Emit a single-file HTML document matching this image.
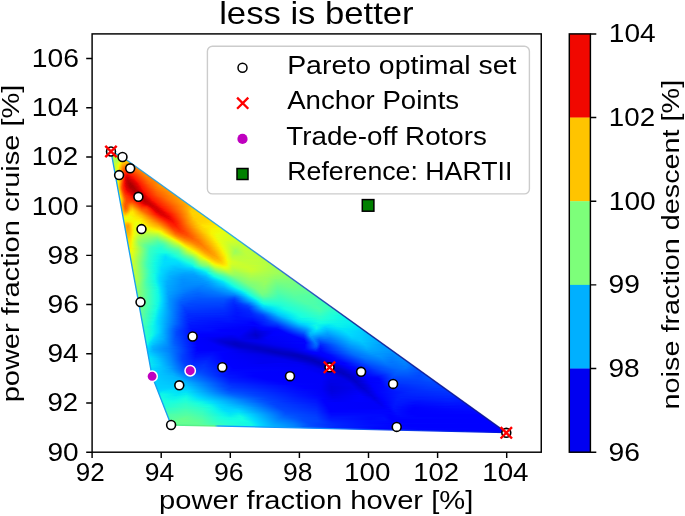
<!DOCTYPE html><html><head><meta charset="utf-8"><style>html,body{margin:0;padding:0;background:#fff;overflow:hidden}svg{display:block;will-change:transform}text{font-family:"Liberation Sans",sans-serif}</style></head><body><svg width="685" height="516" viewBox="0 0 685 516"><defs><clipPath id="hull"><polygon points="111.0,151.3 122.5,157.0 506.4,432.6 171.1,425.0 152.1,376.3"/></clipPath><linearGradient id="g1" gradientUnits="userSpaceOnUse" x1="108.5" y1="0" x2="116.5" y2="0"><stop offset="0.0000" stop-color="#a4ff53"/><stop offset="0.6250" stop-color="#b7ff40"/><stop offset="1.0000" stop-color="#caff2c"/></linearGradient><linearGradient id="g2" gradientUnits="userSpaceOnUse" x1="108.5" y1="0" x2="118.5" y2="0"><stop offset="0.0000" stop-color="#a7ff50"/><stop offset="0.5000" stop-color="#b7ff40"/><stop offset="1.0000" stop-color="#d1ff26"/></linearGradient><linearGradient id="g3" gradientUnits="userSpaceOnUse" x1="108.5" y1="0" x2="120.5" y2="0"><stop offset="0.0000" stop-color="#a7ff50"/><stop offset="0.4167" stop-color="#baff3c"/><stop offset="1.0000" stop-color="#e1ff16"/></linearGradient><linearGradient id="g4" gradientUnits="userSpaceOnUse" x1="108.5" y1="0" x2="122.5" y2="0"><stop offset="0.0000" stop-color="#adff49"/><stop offset="0.7143" stop-color="#d1ff26"/><stop offset="1.0000" stop-color="#eeff09"/></linearGradient><linearGradient id="g5" gradientUnits="userSpaceOnUse" x1="109.5" y1="0" x2="124.5" y2="0"><stop offset="0.0000" stop-color="#b4ff43"/><stop offset="0.5333" stop-color="#c4ff33"/><stop offset="0.9333" stop-color="#f4f802"/><stop offset="1.0000" stop-color="#f8f500"/></linearGradient><linearGradient id="g6" gradientUnits="userSpaceOnUse" x1="109.5" y1="0" x2="126.5" y2="0"><stop offset="0.0000" stop-color="#baff3c"/><stop offset="0.4118" stop-color="#b7ff40"/><stop offset="0.6471" stop-color="#dbff1c"/><stop offset="0.8235" stop-color="#f4f802"/><stop offset="1.0000" stop-color="#ffea00"/></linearGradient><linearGradient id="g7" gradientUnits="userSpaceOnUse" x1="109.5" y1="0" x2="127.5" y2="0"><stop offset="0.0000" stop-color="#beff39"/><stop offset="0.3889" stop-color="#adff49"/><stop offset="0.5000" stop-color="#beff39"/><stop offset="0.7222" stop-color="#f4f802"/><stop offset="1.0000" stop-color="#ffe600"/></linearGradient><linearGradient id="g8" gradientUnits="userSpaceOnUse" x1="109.5" y1="0" x2="128.5" y2="0"><stop offset="0.0000" stop-color="#beff39"/><stop offset="0.3684" stop-color="#a7ff50"/><stop offset="0.5263" stop-color="#caff2c"/><stop offset="0.6316" stop-color="#eeff09"/><stop offset="0.7368" stop-color="#ffea00"/><stop offset="1.0000" stop-color="#ffdb00"/></linearGradient><linearGradient id="g9" gradientUnits="userSpaceOnUse" x1="109.5" y1="0" x2="130.5" y2="0"><stop offset="0.0000" stop-color="#beff39"/><stop offset="0.3333" stop-color="#a4ff53"/><stop offset="0.4286" stop-color="#baff3c"/><stop offset="0.5714" stop-color="#f4f802"/><stop offset="0.6667" stop-color="#ffde00"/><stop offset="1.0000" stop-color="#ffc400"/></linearGradient><linearGradient id="g10" gradientUnits="userSpaceOnUse" x1="110.5" y1="0" x2="131.5" y2="0"><stop offset="0.0000" stop-color="#beff39"/><stop offset="0.2857" stop-color="#aaff4d"/><stop offset="0.4286" stop-color="#d7ff1f"/><stop offset="0.4762" stop-color="#eeff09"/><stop offset="0.5238" stop-color="#feed00"/><stop offset="0.6190" stop-color="#ffd300"/><stop offset="1.0000" stop-color="#ffb900"/></linearGradient><linearGradient id="g11" gradientUnits="userSpaceOnUse" x1="110.5" y1="0" x2="133.5" y2="0"><stop offset="0.0000" stop-color="#beff39"/><stop offset="0.2609" stop-color="#b4ff43"/><stop offset="0.3913" stop-color="#e1ff16"/><stop offset="0.4348" stop-color="#f8f500"/><stop offset="0.5217" stop-color="#ffd000"/><stop offset="0.6957" stop-color="#ffbd00"/><stop offset="0.9565" stop-color="#ffb200"/><stop offset="1.0000" stop-color="#ffab00"/></linearGradient><linearGradient id="g12" gradientUnits="userSpaceOnUse" x1="110.5" y1="0" x2="134.5" y2="0"><stop offset="0.0000" stop-color="#beff39"/><stop offset="0.2500" stop-color="#c1ff36"/><stop offset="0.3333" stop-color="#d7ff1f"/><stop offset="0.3750" stop-color="#eeff09"/><stop offset="0.4167" stop-color="#ffea00"/><stop offset="0.5000" stop-color="#ffc400"/><stop offset="0.6250" stop-color="#ffae00"/><stop offset="0.9167" stop-color="#ffae00"/><stop offset="1.0000" stop-color="#ff9f00"/></linearGradient><linearGradient id="g13" gradientUnits="userSpaceOnUse" x1="110.5" y1="0" x2="135.5" y2="0"><stop offset="0.0000" stop-color="#c1ff36"/><stop offset="0.2000" stop-color="#c4ff33"/><stop offset="0.3200" stop-color="#e1ff16"/><stop offset="0.3600" stop-color="#f8f500"/><stop offset="0.4800" stop-color="#ffb600"/><stop offset="0.6000" stop-color="#ff9f00"/><stop offset="0.8800" stop-color="#ffab00"/><stop offset="1.0000" stop-color="#ff9400"/></linearGradient><linearGradient id="g14" gradientUnits="userSpaceOnUse" x1="110.5" y1="0" x2="137.5" y2="0"><stop offset="0.0000" stop-color="#c4ff33"/><stop offset="0.1852" stop-color="#c7ff30"/><stop offset="0.2963" stop-color="#ebff0c"/><stop offset="0.3333" stop-color="#feed00"/><stop offset="0.4444" stop-color="#ffa700"/><stop offset="0.5556" stop-color="#ff8d00"/><stop offset="0.8519" stop-color="#ff9f00"/><stop offset="1.0000" stop-color="#ff8d00"/></linearGradient><linearGradient id="g15" gradientUnits="userSpaceOnUse" x1="110.5" y1="0" x2="138.5" y2="0"><stop offset="0.0000" stop-color="#caff2c"/><stop offset="0.1786" stop-color="#caff2c"/><stop offset="0.2500" stop-color="#deff19"/><stop offset="0.2857" stop-color="#f1fc06"/><stop offset="0.3214" stop-color="#ffe200"/><stop offset="0.4286" stop-color="#ff9800"/><stop offset="0.5000" stop-color="#ff8200"/><stop offset="0.6429" stop-color="#ff8600"/><stop offset="0.8571" stop-color="#ff9400"/><stop offset="1.0000" stop-color="#ff8d00"/></linearGradient><linearGradient id="g16" gradientUnits="userSpaceOnUse" x1="111.5" y1="0" x2="140.5" y2="0"><stop offset="0.0000" stop-color="#d4ff23"/><stop offset="0.1379" stop-color="#caff2c"/><stop offset="0.2069" stop-color="#deff19"/><stop offset="0.2414" stop-color="#f4f802"/><stop offset="0.3103" stop-color="#ffc100"/><stop offset="0.3793" stop-color="#ff8d00"/><stop offset="0.4483" stop-color="#ff6f00"/><stop offset="0.5862" stop-color="#ff7300"/><stop offset="0.8276" stop-color="#ff8d00"/><stop offset="1.0000" stop-color="#ff8d00"/></linearGradient><linearGradient id="g17" gradientUnits="userSpaceOnUse" x1="111.5" y1="0" x2="141.5" y2="0"><stop offset="0.0000" stop-color="#d7ff1f"/><stop offset="0.1333" stop-color="#c7ff30"/><stop offset="0.2000" stop-color="#deff19"/><stop offset="0.2333" stop-color="#f4f802"/><stop offset="0.3000" stop-color="#ffb900"/><stop offset="0.4000" stop-color="#ff6c00"/><stop offset="0.4667" stop-color="#ff5d00"/><stop offset="0.8667" stop-color="#ff8900"/><stop offset="1.0000" stop-color="#ff8d00"/></linearGradient><linearGradient id="g18" gradientUnits="userSpaceOnUse" x1="111.5" y1="0" x2="142.5" y2="0"><stop offset="0.0000" stop-color="#d7ff1f"/><stop offset="0.1290" stop-color="#c7ff30"/><stop offset="0.1935" stop-color="#deff19"/><stop offset="0.2258" stop-color="#f4f802"/><stop offset="0.2903" stop-color="#ffb600"/><stop offset="0.3548" stop-color="#ff7700"/><stop offset="0.4194" stop-color="#ff5200"/><stop offset="0.4839" stop-color="#ff4a00"/><stop offset="0.9032" stop-color="#ff8600"/><stop offset="1.0000" stop-color="#ff8d00"/></linearGradient><linearGradient id="g19" gradientUnits="userSpaceOnUse" x1="111.5" y1="0" x2="144.5" y2="0"><stop offset="0.0000" stop-color="#d4ff23"/><stop offset="0.1212" stop-color="#c4ff33"/><stop offset="0.1818" stop-color="#dbff1c"/><stop offset="0.2121" stop-color="#f4f802"/><stop offset="0.2727" stop-color="#ffb600"/><stop offset="0.3636" stop-color="#ff5500"/><stop offset="0.4242" stop-color="#ff3b00"/><stop offset="0.6364" stop-color="#ff5900"/><stop offset="0.9091" stop-color="#ff8900"/><stop offset="1.0000" stop-color="#ff8d00"/></linearGradient><linearGradient id="g20" gradientUnits="userSpaceOnUse" x1="111.5" y1="0" x2="145.5" y2="0"><stop offset="0.0000" stop-color="#caff2c"/><stop offset="0.1176" stop-color="#c4ff33"/><stop offset="0.1765" stop-color="#dbff1c"/><stop offset="0.2059" stop-color="#f4f802"/><stop offset="0.2647" stop-color="#ffb600"/><stop offset="0.3529" stop-color="#ff5200"/><stop offset="0.4118" stop-color="#ff3000"/><stop offset="0.5000" stop-color="#ff3400"/><stop offset="0.9118" stop-color="#ff8900"/><stop offset="1.0000" stop-color="#ff8d00"/></linearGradient><linearGradient id="g21" gradientUnits="userSpaceOnUse" x1="112.5" y1="0" x2="147.5" y2="0"><stop offset="0.0000" stop-color="#beff39"/><stop offset="0.1143" stop-color="#c7ff30"/><stop offset="0.1714" stop-color="#f4f802"/><stop offset="0.2286" stop-color="#ffb200"/><stop offset="0.3143" stop-color="#ff4a00"/><stop offset="0.3714" stop-color="#ff2500"/><stop offset="0.4857" stop-color="#ff2d00"/><stop offset="0.8857" stop-color="#ff8900"/><stop offset="1.0000" stop-color="#ff8900"/></linearGradient><linearGradient id="g22" gradientUnits="userSpaceOnUse" x1="112.5" y1="0" x2="148.5" y2="0"><stop offset="0.0000" stop-color="#b1ff46"/><stop offset="0.0833" stop-color="#baff3c"/><stop offset="0.1389" stop-color="#d7ff1f"/><stop offset="0.1667" stop-color="#f1fc06"/><stop offset="0.1944" stop-color="#ffd700"/><stop offset="0.3056" stop-color="#ff4700"/><stop offset="0.3611" stop-color="#ff1e00"/><stop offset="0.4167" stop-color="#ff1600"/><stop offset="0.8889" stop-color="#ff8600"/><stop offset="1.0000" stop-color="#ff8600"/></linearGradient><linearGradient id="g23" gradientUnits="userSpaceOnUse" x1="112.5" y1="0" x2="149.5" y2="0"><stop offset="0.0000" stop-color="#aaff4d"/><stop offset="0.0811" stop-color="#b7ff40"/><stop offset="0.1351" stop-color="#d7ff1f"/><stop offset="0.1622" stop-color="#f1fc06"/><stop offset="0.1892" stop-color="#ffd700"/><stop offset="0.2973" stop-color="#ff4700"/><stop offset="0.3514" stop-color="#ff1300"/><stop offset="0.4054" stop-color="#f60b00"/><stop offset="0.5405" stop-color="#ff2900"/><stop offset="0.8649" stop-color="#ff8200"/><stop offset="1.0000" stop-color="#ff8600"/></linearGradient><linearGradient id="g24" gradientUnits="userSpaceOnUse" x1="112.5" y1="0" x2="151.5" y2="0"><stop offset="0.0000" stop-color="#a7ff50"/><stop offset="0.0769" stop-color="#b4ff43"/><stop offset="0.1282" stop-color="#d7ff1f"/><stop offset="0.1538" stop-color="#f1fc06"/><stop offset="0.1795" stop-color="#ffd700"/><stop offset="0.3077" stop-color="#ff2200"/><stop offset="0.3590" stop-color="#ed0400"/><stop offset="0.3846" stop-color="#e80000"/><stop offset="0.4872" stop-color="#ff1a00"/><stop offset="0.8462" stop-color="#ff8200"/><stop offset="1.0000" stop-color="#ff8200"/></linearGradient><linearGradient id="g25" gradientUnits="userSpaceOnUse" x1="112.5" y1="0" x2="152.5" y2="0"><stop offset="0.0000" stop-color="#a7ff50"/><stop offset="0.0750" stop-color="#b4ff43"/><stop offset="0.1250" stop-color="#d7ff1f"/><stop offset="0.1500" stop-color="#f1fc06"/><stop offset="0.1750" stop-color="#ffd700"/><stop offset="0.3000" stop-color="#ff1e00"/><stop offset="0.3250" stop-color="#f10800"/><stop offset="0.3500" stop-color="#df0000"/><stop offset="0.4500" stop-color="#f10800"/><stop offset="0.5250" stop-color="#ff1e00"/><stop offset="0.8500" stop-color="#ff8200"/><stop offset="1.0000" stop-color="#ff8200"/></linearGradient><linearGradient id="g26" gradientUnits="userSpaceOnUse" x1="112.5" y1="0" x2="153.5" y2="0"><stop offset="0.0000" stop-color="#a7ff50"/><stop offset="0.0732" stop-color="#b4ff43"/><stop offset="0.1220" stop-color="#d7ff1f"/><stop offset="0.1463" stop-color="#f4f802"/><stop offset="0.1951" stop-color="#ffae00"/><stop offset="0.2927" stop-color="#ff1a00"/><stop offset="0.3171" stop-color="#e80000"/><stop offset="0.3415" stop-color="#d60000"/><stop offset="0.3902" stop-color="#d60000"/><stop offset="0.4634" stop-color="#f10800"/><stop offset="0.5366" stop-color="#ff1e00"/><stop offset="0.8293" stop-color="#ff7a00"/><stop offset="1.0000" stop-color="#ff8200"/></linearGradient><linearGradient id="g27" gradientUnits="userSpaceOnUse" x1="113.5" y1="0" x2="155.5" y2="0"><stop offset="0.0000" stop-color="#a7ff50"/><stop offset="0.0476" stop-color="#b4ff43"/><stop offset="0.0952" stop-color="#d7ff1f"/><stop offset="0.1190" stop-color="#f4f802"/><stop offset="0.1667" stop-color="#ffae00"/><stop offset="0.2619" stop-color="#ff1600"/><stop offset="0.2857" stop-color="#e40000"/><stop offset="0.3333" stop-color="#c80000"/><stop offset="0.4524" stop-color="#f10800"/><stop offset="0.5238" stop-color="#ff1e00"/><stop offset="0.8095" stop-color="#ff7a00"/><stop offset="1.0000" stop-color="#ff8200"/></linearGradient><linearGradient id="g28" gradientUnits="userSpaceOnUse" x1="113.5" y1="0" x2="156.5" y2="0"><stop offset="0.0000" stop-color="#a7ff50"/><stop offset="0.0465" stop-color="#b4ff43"/><stop offset="0.0930" stop-color="#dbff1c"/><stop offset="0.1163" stop-color="#f8f500"/><stop offset="0.2326" stop-color="#ff3400"/><stop offset="0.2558" stop-color="#ff1300"/><stop offset="0.2791" stop-color="#df0000"/><stop offset="0.3256" stop-color="#c40000"/><stop offset="0.3953" stop-color="#d10000"/><stop offset="0.4651" stop-color="#ed0400"/><stop offset="0.5116" stop-color="#ff1600"/><stop offset="0.8140" stop-color="#ff7a00"/><stop offset="1.0000" stop-color="#ff8200"/></linearGradient><linearGradient id="g29" gradientUnits="userSpaceOnUse" x1="113.5" y1="0" x2="158.5" y2="0"><stop offset="0.0000" stop-color="#a7ff50"/><stop offset="0.0444" stop-color="#b4ff43"/><stop offset="0.0889" stop-color="#dbff1c"/><stop offset="0.1111" stop-color="#fbf100"/><stop offset="0.2444" stop-color="#fa0f00"/><stop offset="0.2667" stop-color="#da0000"/><stop offset="0.3111" stop-color="#bf0000"/><stop offset="0.3556" stop-color="#bf0000"/><stop offset="0.4667" stop-color="#ed0400"/><stop offset="0.5111" stop-color="#ff1600"/><stop offset="0.8000" stop-color="#ff7a00"/><stop offset="1.0000" stop-color="#ff8600"/></linearGradient><linearGradient id="g30" gradientUnits="userSpaceOnUse" x1="113.5" y1="0" x2="159.5" y2="0"><stop offset="0.0000" stop-color="#a7ff50"/><stop offset="0.0435" stop-color="#b4ff43"/><stop offset="0.0870" stop-color="#deff19"/><stop offset="0.1087" stop-color="#feed00"/><stop offset="0.2174" stop-color="#ff2900"/><stop offset="0.2391" stop-color="#f60b00"/><stop offset="0.2826" stop-color="#c80000"/><stop offset="0.3261" stop-color="#b60000"/><stop offset="0.4348" stop-color="#da0000"/><stop offset="0.4783" stop-color="#ed0400"/><stop offset="0.5217" stop-color="#ff1600"/><stop offset="0.7826" stop-color="#ff7300"/><stop offset="0.9565" stop-color="#ff8600"/><stop offset="1.0000" stop-color="#ff8900"/></linearGradient><linearGradient id="g31" gradientUnits="userSpaceOnUse" x1="113.5" y1="0" x2="160.5" y2="0"><stop offset="0.0000" stop-color="#a7ff50"/><stop offset="0.0426" stop-color="#b4ff43"/><stop offset="0.0638" stop-color="#c4ff33"/><stop offset="0.0851" stop-color="#e1ff16"/><stop offset="0.1064" stop-color="#ffea00"/><stop offset="0.2128" stop-color="#ff2500"/><stop offset="0.2340" stop-color="#f60b00"/><stop offset="0.2766" stop-color="#c80000"/><stop offset="0.3191" stop-color="#b60000"/><stop offset="0.3617" stop-color="#b60000"/><stop offset="0.4894" stop-color="#ed0400"/><stop offset="0.5319" stop-color="#ff1600"/><stop offset="0.7447" stop-color="#ff6800"/><stop offset="0.9362" stop-color="#ff8900"/><stop offset="1.0000" stop-color="#ff8900"/></linearGradient><linearGradient id="g32" gradientUnits="userSpaceOnUse" x1="114.5" y1="0" x2="162.5" y2="0"><stop offset="0.0000" stop-color="#b1ff46"/><stop offset="0.0417" stop-color="#c7ff30"/><stop offset="0.0625" stop-color="#e4ff13"/><stop offset="0.0833" stop-color="#ffe600"/><stop offset="0.1667" stop-color="#ff4300"/><stop offset="0.2083" stop-color="#f60b00"/><stop offset="0.2292" stop-color="#da0000"/><stop offset="0.2917" stop-color="#b20000"/><stop offset="0.3333" stop-color="#ad0000"/><stop offset="0.4583" stop-color="#e40000"/><stop offset="0.5208" stop-color="#ff1600"/><stop offset="0.6875" stop-color="#ff5d00"/><stop offset="0.9167" stop-color="#ff8d00"/><stop offset="1.0000" stop-color="#ff8d00"/></linearGradient><linearGradient id="g33" gradientUnits="userSpaceOnUse" x1="114.5" y1="0" x2="163.5" y2="0"><stop offset="0.0000" stop-color="#b7ff40"/><stop offset="0.0408" stop-color="#ceff29"/><stop offset="0.0612" stop-color="#e7ff0f"/><stop offset="0.0816" stop-color="#ffe200"/><stop offset="0.1633" stop-color="#ff3f00"/><stop offset="0.2041" stop-color="#f60b00"/><stop offset="0.2449" stop-color="#cd0000"/><stop offset="0.3265" stop-color="#a80000"/><stop offset="0.4694" stop-color="#e80000"/><stop offset="0.5102" stop-color="#ff1300"/><stop offset="0.7143" stop-color="#ff6000"/><stop offset="0.8776" stop-color="#ff8900"/><stop offset="1.0000" stop-color="#ff9400"/></linearGradient><linearGradient id="g34" gradientUnits="userSpaceOnUse" x1="114.5" y1="0" x2="165.5" y2="0"><stop offset="0.0000" stop-color="#c1ff36"/><stop offset="0.0392" stop-color="#d1ff26"/><stop offset="0.0588" stop-color="#e7ff0f"/><stop offset="0.0784" stop-color="#ffe200"/><stop offset="0.1569" stop-color="#ff3b00"/><stop offset="0.1961" stop-color="#f60b00"/><stop offset="0.2353" stop-color="#d10000"/><stop offset="0.2941" stop-color="#ad0000"/><stop offset="0.3529" stop-color="#ad0000"/><stop offset="0.4706" stop-color="#ed0400"/><stop offset="0.5294" stop-color="#ff1e00"/><stop offset="0.7059" stop-color="#ff6000"/><stop offset="0.8627" stop-color="#ff8d00"/><stop offset="1.0000" stop-color="#ff9c00"/></linearGradient><linearGradient id="g35" gradientUnits="userSpaceOnUse" x1="114.5" y1="0" x2="166.5" y2="0"><stop offset="0.0000" stop-color="#c7ff30"/><stop offset="0.0385" stop-color="#d4ff23"/><stop offset="0.0577" stop-color="#e7ff0f"/><stop offset="0.0769" stop-color="#ffe200"/><stop offset="0.1346" stop-color="#ff5d00"/><stop offset="0.1731" stop-color="#ff2200"/><stop offset="0.1923" stop-color="#fa0f00"/><stop offset="0.2115" stop-color="#e80000"/><stop offset="0.2885" stop-color="#b20000"/><stop offset="0.3269" stop-color="#a80000"/><stop offset="0.3654" stop-color="#b20000"/><stop offset="0.4615" stop-color="#e40000"/><stop offset="0.5192" stop-color="#ff1600"/><stop offset="0.6731" stop-color="#ff5500"/><stop offset="0.8654" stop-color="#ff8d00"/><stop offset="1.0000" stop-color="#ff9f00"/></linearGradient><linearGradient id="g36" gradientUnits="userSpaceOnUse" x1="114.5" y1="0" x2="167.5" y2="0"><stop offset="0.0000" stop-color="#ceff29"/><stop offset="0.0377" stop-color="#d4ff23"/><stop offset="0.0566" stop-color="#e4ff13"/><stop offset="0.0755" stop-color="#ffe600"/><stop offset="0.1321" stop-color="#ff5d00"/><stop offset="0.1698" stop-color="#ff2200"/><stop offset="0.1887" stop-color="#ff1300"/><stop offset="0.2264" stop-color="#da0000"/><stop offset="0.3019" stop-color="#ad0000"/><stop offset="0.3585" stop-color="#ad0000"/><stop offset="0.4340" stop-color="#d10000"/><stop offset="0.4906" stop-color="#f10800"/><stop offset="0.5094" stop-color="#ff1300"/><stop offset="0.6981" stop-color="#ff5d00"/><stop offset="0.8679" stop-color="#ff8d00"/><stop offset="1.0000" stop-color="#ff9f00"/></linearGradient><linearGradient id="g37" gradientUnits="userSpaceOnUse" x1="114.5" y1="0" x2="169.5" y2="0"><stop offset="0.0000" stop-color="#ceff29"/><stop offset="0.0364" stop-color="#d4ff23"/><stop offset="0.0545" stop-color="#e1ff16"/><stop offset="0.0727" stop-color="#feed00"/><stop offset="0.1273" stop-color="#ff6000"/><stop offset="0.1636" stop-color="#ff2500"/><stop offset="0.1818" stop-color="#ff1600"/><stop offset="0.2182" stop-color="#e40000"/><stop offset="0.2909" stop-color="#b60000"/><stop offset="0.3636" stop-color="#ad0000"/><stop offset="0.4727" stop-color="#ed0400"/><stop offset="0.5091" stop-color="#ff1600"/><stop offset="0.7636" stop-color="#ff7700"/><stop offset="1.0000" stop-color="#ff9f00"/></linearGradient><linearGradient id="g38" gradientUnits="userSpaceOnUse" x1="115.5" y1="0" x2="170.5" y2="0"><stop offset="0.0000" stop-color="#ceff29"/><stop offset="0.0364" stop-color="#deff19"/><stop offset="0.0545" stop-color="#f8f500"/><stop offset="0.1091" stop-color="#ff6800"/><stop offset="0.1273" stop-color="#ff4300"/><stop offset="0.1636" stop-color="#ff1a00"/><stop offset="0.2000" stop-color="#e80000"/><stop offset="0.3091" stop-color="#b20000"/><stop offset="0.3636" stop-color="#b20000"/><stop offset="0.4545" stop-color="#e80000"/><stop offset="0.5091" stop-color="#ff1a00"/><stop offset="0.7818" stop-color="#ff7a00"/><stop offset="1.0000" stop-color="#ff9f00"/></linearGradient><linearGradient id="g39" gradientUnits="userSpaceOnUse" x1="115.5" y1="0" x2="172.5" y2="0"><stop offset="0.0000" stop-color="#ceff29"/><stop offset="0.0351" stop-color="#deff19"/><stop offset="0.0526" stop-color="#f4f802"/><stop offset="0.0877" stop-color="#ffa300"/><stop offset="0.1228" stop-color="#ff4e00"/><stop offset="0.1579" stop-color="#ff1e00"/><stop offset="0.1754" stop-color="#ff1300"/><stop offset="0.2105" stop-color="#e40000"/><stop offset="0.3333" stop-color="#ad0000"/><stop offset="0.3860" stop-color="#bb0000"/><stop offset="0.4561" stop-color="#e80000"/><stop offset="0.4912" stop-color="#ff1300"/><stop offset="0.7193" stop-color="#ff6c00"/><stop offset="0.9649" stop-color="#ff9f00"/><stop offset="1.0000" stop-color="#ff9f00"/></linearGradient><linearGradient id="g40" gradientUnits="userSpaceOnUse" x1="115.5" y1="0" x2="173.5" y2="0"><stop offset="0.0000" stop-color="#ceff29"/><stop offset="0.0345" stop-color="#dbff1c"/><stop offset="0.0517" stop-color="#eeff09"/><stop offset="0.0690" stop-color="#ffde00"/><stop offset="0.1207" stop-color="#ff5900"/><stop offset="0.1552" stop-color="#ff2500"/><stop offset="0.1897" stop-color="#fa0f00"/><stop offset="0.2241" stop-color="#e40000"/><stop offset="0.3276" stop-color="#b20000"/><stop offset="0.3793" stop-color="#b60000"/><stop offset="0.4655" stop-color="#ed0400"/><stop offset="0.5000" stop-color="#ff1600"/><stop offset="0.7414" stop-color="#ff6f00"/><stop offset="1.0000" stop-color="#ff9f00"/></linearGradient><linearGradient id="g41" gradientUnits="userSpaceOnUse" x1="115.5" y1="0" x2="174.5" y2="0"><stop offset="0.0000" stop-color="#ceff29"/><stop offset="0.0339" stop-color="#d7ff1f"/><stop offset="0.0508" stop-color="#e7ff0f"/><stop offset="0.0678" stop-color="#ffe600"/><stop offset="0.1186" stop-color="#ff6400"/><stop offset="0.1525" stop-color="#ff2d00"/><stop offset="0.2034" stop-color="#f60b00"/><stop offset="0.2712" stop-color="#d60000"/><stop offset="0.3559" stop-color="#b20000"/><stop offset="0.3898" stop-color="#bb0000"/><stop offset="0.4576" stop-color="#e40000"/><stop offset="0.5085" stop-color="#ff1600"/><stop offset="0.6949" stop-color="#ff6000"/><stop offset="0.9831" stop-color="#ff9f00"/><stop offset="1.0000" stop-color="#ff9f00"/></linearGradient><linearGradient id="g42" gradientUnits="userSpaceOnUse" x1="115.5" y1="0" x2="176.5" y2="0"><stop offset="0.0000" stop-color="#ceff29"/><stop offset="0.0492" stop-color="#e4ff13"/><stop offset="0.0656" stop-color="#feed00"/><stop offset="0.1311" stop-color="#ff4e00"/><stop offset="0.1639" stop-color="#ff2500"/><stop offset="0.2131" stop-color="#fa0f00"/><stop offset="0.2623" stop-color="#df0000"/><stop offset="0.3443" stop-color="#b60000"/><stop offset="0.3770" stop-color="#b60000"/><stop offset="0.4426" stop-color="#da0000"/><stop offset="0.5082" stop-color="#ff1600"/><stop offset="0.6885" stop-color="#ff6000"/><stop offset="0.9508" stop-color="#ff9c00"/><stop offset="1.0000" stop-color="#ff9c00"/></linearGradient><linearGradient id="g43" gradientUnits="userSpaceOnUse" x1="116.5" y1="0" x2="177.5" y2="0"><stop offset="0.0000" stop-color="#d1ff26"/><stop offset="0.0328" stop-color="#e1ff16"/><stop offset="0.0492" stop-color="#f8f500"/><stop offset="0.0820" stop-color="#ffa700"/><stop offset="0.1148" stop-color="#ff5900"/><stop offset="0.1475" stop-color="#ff2d00"/><stop offset="0.2131" stop-color="#fa0f00"/><stop offset="0.2623" stop-color="#df0000"/><stop offset="0.3443" stop-color="#b60000"/><stop offset="0.3770" stop-color="#b60000"/><stop offset="0.4426" stop-color="#da0000"/><stop offset="0.4754" stop-color="#f10800"/><stop offset="0.4918" stop-color="#ff1300"/><stop offset="0.6557" stop-color="#ff5500"/><stop offset="0.9344" stop-color="#ff9c00"/><stop offset="1.0000" stop-color="#ff9800"/></linearGradient><linearGradient id="g44" gradientUnits="userSpaceOnUse" x1="116.5" y1="0" x2="179.5" y2="0"><stop offset="0.0000" stop-color="#ceff29"/><stop offset="0.0317" stop-color="#deff19"/><stop offset="0.0476" stop-color="#f1fc06"/><stop offset="0.0635" stop-color="#ffdb00"/><stop offset="0.1111" stop-color="#ff6400"/><stop offset="0.1270" stop-color="#ff4700"/><stop offset="0.1905" stop-color="#ff1e00"/><stop offset="0.2381" stop-color="#f60b00"/><stop offset="0.3016" stop-color="#cd0000"/><stop offset="0.3492" stop-color="#b60000"/><stop offset="0.3810" stop-color="#b60000"/><stop offset="0.4603" stop-color="#e80000"/><stop offset="0.4921" stop-color="#ff1300"/><stop offset="0.6508" stop-color="#ff5500"/><stop offset="0.9365" stop-color="#ff9c00"/><stop offset="1.0000" stop-color="#ff9800"/></linearGradient><linearGradient id="g45" gradientUnits="userSpaceOnUse" x1="116.5" y1="0" x2="180.5" y2="0"><stop offset="0.0000" stop-color="#ceff29"/><stop offset="0.0312" stop-color="#dbff1c"/><stop offset="0.0469" stop-color="#ebff0c"/><stop offset="0.0625" stop-color="#ffe200"/><stop offset="0.1094" stop-color="#ff6f00"/><stop offset="0.1406" stop-color="#ff3f00"/><stop offset="0.2344" stop-color="#ff1300"/><stop offset="0.2969" stop-color="#da0000"/><stop offset="0.3594" stop-color="#b60000"/><stop offset="0.4219" stop-color="#c80000"/><stop offset="0.4688" stop-color="#e80000"/><stop offset="0.5000" stop-color="#ff1300"/><stop offset="0.6719" stop-color="#ff5900"/><stop offset="0.9375" stop-color="#ff9c00"/><stop offset="1.0000" stop-color="#ff9800"/></linearGradient><linearGradient id="g46" gradientUnits="userSpaceOnUse" x1="116.5" y1="0" x2="181.5" y2="0"><stop offset="0.0000" stop-color="#ceff29"/><stop offset="0.0308" stop-color="#d7ff1f"/><stop offset="0.0462" stop-color="#e7ff0f"/><stop offset="0.0615" stop-color="#ffea00"/><stop offset="0.1231" stop-color="#ff5900"/><stop offset="0.1538" stop-color="#ff3b00"/><stop offset="0.2615" stop-color="#fa0f00"/><stop offset="0.3077" stop-color="#da0000"/><stop offset="0.3846" stop-color="#b60000"/><stop offset="0.4308" stop-color="#c80000"/><stop offset="0.4923" stop-color="#f60b00"/><stop offset="0.5385" stop-color="#ff2200"/><stop offset="0.7538" stop-color="#ff6f00"/><stop offset="0.9385" stop-color="#ff9c00"/><stop offset="1.0000" stop-color="#ff9800"/></linearGradient><linearGradient id="g47" gradientUnits="userSpaceOnUse" x1="116.5" y1="0" x2="183.5" y2="0"><stop offset="0.0000" stop-color="#ceff29"/><stop offset="0.0448" stop-color="#e4ff13"/><stop offset="0.0597" stop-color="#fbf100"/><stop offset="0.1194" stop-color="#ff6400"/><stop offset="0.1493" stop-color="#ff3f00"/><stop offset="0.2537" stop-color="#ff1a00"/><stop offset="0.2985" stop-color="#e80000"/><stop offset="0.3731" stop-color="#bb0000"/><stop offset="0.4030" stop-color="#bb0000"/><stop offset="0.4776" stop-color="#ed0400"/><stop offset="0.5224" stop-color="#ff1a00"/><stop offset="0.7612" stop-color="#ff7300"/><stop offset="0.9254" stop-color="#ff9c00"/><stop offset="1.0000" stop-color="#ff9c00"/></linearGradient><linearGradient id="g48" gradientUnits="userSpaceOnUse" x1="116.5" y1="0" x2="184.5" y2="0"><stop offset="0.0000" stop-color="#ceff29"/><stop offset="0.0441" stop-color="#e4ff13"/><stop offset="0.0588" stop-color="#f8f500"/><stop offset="0.1176" stop-color="#ff6c00"/><stop offset="0.1471" stop-color="#ff4300"/><stop offset="0.2500" stop-color="#ff2500"/><stop offset="0.2941" stop-color="#f60b00"/><stop offset="0.3235" stop-color="#df0000"/><stop offset="0.3824" stop-color="#bb0000"/><stop offset="0.4118" stop-color="#bb0000"/><stop offset="0.4853" stop-color="#ed0400"/><stop offset="0.5294" stop-color="#ff1a00"/><stop offset="0.7647" stop-color="#ff7300"/><stop offset="0.9412" stop-color="#ff9f00"/><stop offset="1.0000" stop-color="#ffa300"/></linearGradient><linearGradient id="g49" gradientUnits="userSpaceOnUse" x1="117.5" y1="0" x2="186.5" y2="0"><stop offset="0.0000" stop-color="#d4ff23"/><stop offset="0.0290" stop-color="#e4ff13"/><stop offset="0.0435" stop-color="#f8f500"/><stop offset="0.1014" stop-color="#ff6f00"/><stop offset="0.1304" stop-color="#ff4700"/><stop offset="0.2319" stop-color="#ff3000"/><stop offset="0.2754" stop-color="#ff1300"/><stop offset="0.3333" stop-color="#d60000"/><stop offset="0.3913" stop-color="#bb0000"/><stop offset="0.4638" stop-color="#df0000"/><stop offset="0.5072" stop-color="#ff1300"/><stop offset="0.7391" stop-color="#ff6c00"/><stop offset="0.9420" stop-color="#ffa300"/><stop offset="1.0000" stop-color="#ffb600"/></linearGradient><linearGradient id="g50" gradientUnits="userSpaceOnUse" x1="117.5" y1="0" x2="187.5" y2="0"><stop offset="0.0000" stop-color="#dbff1c"/><stop offset="0.0286" stop-color="#ebff0c"/><stop offset="0.0429" stop-color="#fbf100"/><stop offset="0.1000" stop-color="#ff6f00"/><stop offset="0.1286" stop-color="#ff4a00"/><stop offset="0.2143" stop-color="#ff4300"/><stop offset="0.2857" stop-color="#ff1600"/><stop offset="0.3286" stop-color="#e40000"/><stop offset="0.3857" stop-color="#bf0000"/><stop offset="0.4286" stop-color="#c40000"/><stop offset="0.5000" stop-color="#f10800"/><stop offset="0.5429" stop-color="#ff1e00"/><stop offset="0.7571" stop-color="#ff6f00"/><stop offset="1.0000" stop-color="#ffb900"/></linearGradient><linearGradient id="g51" gradientUnits="userSpaceOnUse" x1="117.5" y1="0" x2="188.5" y2="0"><stop offset="0.0000" stop-color="#eeff09"/><stop offset="0.0282" stop-color="#f4f802"/><stop offset="0.0423" stop-color="#ffea00"/><stop offset="0.0845" stop-color="#ff8600"/><stop offset="0.1127" stop-color="#ff5900"/><stop offset="0.1408" stop-color="#ff4e00"/><stop offset="0.2113" stop-color="#ff5200"/><stop offset="0.3099" stop-color="#fa0f00"/><stop offset="0.3380" stop-color="#e40000"/><stop offset="0.3944" stop-color="#c40000"/><stop offset="0.4507" stop-color="#cd0000"/><stop offset="0.5070" stop-color="#f10800"/><stop offset="0.5493" stop-color="#ff1e00"/><stop offset="0.7746" stop-color="#ff7300"/><stop offset="1.0000" stop-color="#ffb900"/></linearGradient><linearGradient id="g52" gradientUnits="userSpaceOnUse" x1="117.5" y1="0" x2="190.5" y2="0"><stop offset="0.0000" stop-color="#ffe200"/><stop offset="0.0274" stop-color="#ffea00"/><stop offset="0.0411" stop-color="#ffe200"/><stop offset="0.0959" stop-color="#ff6400"/><stop offset="0.1233" stop-color="#ff5200"/><stop offset="0.1918" stop-color="#ff6800"/><stop offset="0.2329" stop-color="#ff5200"/><stop offset="0.3151" stop-color="#fa0f00"/><stop offset="0.3562" stop-color="#da0000"/><stop offset="0.4110" stop-color="#c80000"/><stop offset="0.4521" stop-color="#cd0000"/><stop offset="0.5068" stop-color="#ed0400"/><stop offset="0.5479" stop-color="#ff1a00"/><stop offset="0.7397" stop-color="#ff6800"/><stop offset="0.9726" stop-color="#ffb900"/><stop offset="1.0000" stop-color="#ffbd00"/></linearGradient><linearGradient id="g53" gradientUnits="userSpaceOnUse" x1="117.5" y1="0" x2="191.5" y2="0"><stop offset="0.0000" stop-color="#ffc100"/><stop offset="0.0270" stop-color="#ffdb00"/><stop offset="0.0405" stop-color="#ffdb00"/><stop offset="0.0676" stop-color="#ff9c00"/><stop offset="0.0946" stop-color="#ff6400"/><stop offset="0.1081" stop-color="#ff5500"/><stop offset="0.1351" stop-color="#ff5d00"/><stop offset="0.1757" stop-color="#ff7700"/><stop offset="0.2027" stop-color="#ff7700"/><stop offset="0.3243" stop-color="#ff1300"/><stop offset="0.3784" stop-color="#df0000"/><stop offset="0.4459" stop-color="#c80000"/><stop offset="0.5135" stop-color="#ed0400"/><stop offset="0.5541" stop-color="#ff1a00"/><stop offset="0.7568" stop-color="#ff6c00"/><stop offset="0.9865" stop-color="#ffbd00"/><stop offset="1.0000" stop-color="#ffbd00"/></linearGradient><linearGradient id="g54" gradientUnits="userSpaceOnUse" x1="118.5" y1="0" x2="192.5" y2="0"><stop offset="0.0000" stop-color="#ffb900"/><stop offset="0.0270" stop-color="#ffd300"/><stop offset="0.0405" stop-color="#ffc100"/><stop offset="0.0676" stop-color="#ff7a00"/><stop offset="0.0946" stop-color="#ff5900"/><stop offset="0.1216" stop-color="#ff6400"/><stop offset="0.1622" stop-color="#ff8900"/><stop offset="0.1892" stop-color="#ff8900"/><stop offset="0.3243" stop-color="#ff1600"/><stop offset="0.3784" stop-color="#f10800"/><stop offset="0.4324" stop-color="#cd0000"/><stop offset="0.4730" stop-color="#d10000"/><stop offset="0.5270" stop-color="#f60b00"/><stop offset="0.5946" stop-color="#ff2d00"/><stop offset="0.9730" stop-color="#ffbd00"/><stop offset="1.0000" stop-color="#ffbd00"/></linearGradient><linearGradient id="g55" gradientUnits="userSpaceOnUse" x1="118.5" y1="0" x2="194.5" y2="0"><stop offset="0.0000" stop-color="#ffab00"/><stop offset="0.0263" stop-color="#ffd000"/><stop offset="0.0395" stop-color="#ffc400"/><stop offset="0.0789" stop-color="#ff6400"/><stop offset="0.0921" stop-color="#ff5900"/><stop offset="0.1184" stop-color="#ff6800"/><stop offset="0.1579" stop-color="#ff9800"/><stop offset="0.1842" stop-color="#ff9800"/><stop offset="0.2500" stop-color="#ff5d00"/><stop offset="0.3026" stop-color="#ff2d00"/><stop offset="0.3684" stop-color="#ff1a00"/><stop offset="0.3816" stop-color="#ff1300"/><stop offset="0.4079" stop-color="#e40000"/><stop offset="0.4474" stop-color="#cd0000"/><stop offset="0.5000" stop-color="#df0000"/><stop offset="0.5526" stop-color="#ff1600"/><stop offset="0.7368" stop-color="#ff6400"/><stop offset="0.9605" stop-color="#ffc100"/><stop offset="1.0000" stop-color="#ffc100"/></linearGradient><linearGradient id="g56" gradientUnits="userSpaceOnUse" x1="118.5" y1="0" x2="195.5" y2="0"><stop offset="0.0000" stop-color="#ff9f00"/><stop offset="0.0260" stop-color="#ffcc00"/><stop offset="0.0390" stop-color="#ffc800"/><stop offset="0.0779" stop-color="#ff6c00"/><stop offset="0.0909" stop-color="#ff5d00"/><stop offset="0.1169" stop-color="#ff6f00"/><stop offset="0.1558" stop-color="#ffa700"/><stop offset="0.1818" stop-color="#ffab00"/><stop offset="0.2338" stop-color="#ff7a00"/><stop offset="0.2987" stop-color="#ff3f00"/><stop offset="0.3636" stop-color="#ff2d00"/><stop offset="0.4026" stop-color="#fa0f00"/><stop offset="0.4286" stop-color="#df0000"/><stop offset="0.4675" stop-color="#d10000"/><stop offset="0.5065" stop-color="#df0000"/><stop offset="0.5584" stop-color="#ff1600"/><stop offset="0.9481" stop-color="#ffc400"/><stop offset="1.0000" stop-color="#ffc400"/></linearGradient><linearGradient id="g57" gradientUnits="userSpaceOnUse" x1="118.5" y1="0" x2="197.5" y2="0"><stop offset="0.0000" stop-color="#ff9400"/><stop offset="0.0253" stop-color="#ffc800"/><stop offset="0.0380" stop-color="#ffcc00"/><stop offset="0.0759" stop-color="#ff7300"/><stop offset="0.0886" stop-color="#ff6400"/><stop offset="0.1013" stop-color="#ff6400"/><stop offset="0.1519" stop-color="#ffb200"/><stop offset="0.1772" stop-color="#ffbd00"/><stop offset="0.2278" stop-color="#ff8d00"/><stop offset="0.2911" stop-color="#ff4e00"/><stop offset="0.3544" stop-color="#ff3b00"/><stop offset="0.4051" stop-color="#ff1300"/><stop offset="0.4304" stop-color="#e40000"/><stop offset="0.4810" stop-color="#d10000"/><stop offset="0.5316" stop-color="#ed0400"/><stop offset="0.5696" stop-color="#ff1a00"/><stop offset="0.8861" stop-color="#ffb200"/><stop offset="0.9241" stop-color="#ffc800"/><stop offset="1.0000" stop-color="#ffcc00"/></linearGradient><linearGradient id="g58" gradientUnits="userSpaceOnUse" x1="118.5" y1="0" x2="198.5" y2="0"><stop offset="0.0000" stop-color="#ff8900"/><stop offset="0.0250" stop-color="#ffc100"/><stop offset="0.0375" stop-color="#ffcc00"/><stop offset="0.0500" stop-color="#ffb900"/><stop offset="0.0750" stop-color="#ff7a00"/><stop offset="0.0875" stop-color="#ff6c00"/><stop offset="0.1125" stop-color="#ff7e00"/><stop offset="0.1500" stop-color="#ffbd00"/><stop offset="0.1750" stop-color="#ffcc00"/><stop offset="0.2375" stop-color="#ff9100"/><stop offset="0.2875" stop-color="#ff5d00"/><stop offset="0.3500" stop-color="#ff4a00"/><stop offset="0.4125" stop-color="#ff1300"/><stop offset="0.4375" stop-color="#e80000"/><stop offset="0.4625" stop-color="#d60000"/><stop offset="0.5000" stop-color="#d60000"/><stop offset="0.5500" stop-color="#f60b00"/><stop offset="0.5875" stop-color="#ff1e00"/><stop offset="0.8625" stop-color="#ffab00"/><stop offset="0.9125" stop-color="#ffcc00"/><stop offset="1.0000" stop-color="#ffd300"/></linearGradient><linearGradient id="g59" gradientUnits="userSpaceOnUse" x1="118.5" y1="0" x2="199.5" y2="0"><stop offset="0.0000" stop-color="#ff7700"/><stop offset="0.0247" stop-color="#ffb900"/><stop offset="0.0370" stop-color="#ffcc00"/><stop offset="0.0494" stop-color="#ffc100"/><stop offset="0.0741" stop-color="#ff8600"/><stop offset="0.0864" stop-color="#ff7a00"/><stop offset="0.1111" stop-color="#ff8d00"/><stop offset="0.1481" stop-color="#ffcc00"/><stop offset="0.1728" stop-color="#ffd700"/><stop offset="0.2099" stop-color="#ffbd00"/><stop offset="0.2840" stop-color="#ff6c00"/><stop offset="0.3580" stop-color="#ff4a00"/><stop offset="0.4198" stop-color="#ff1300"/><stop offset="0.4444" stop-color="#e80000"/><stop offset="0.4815" stop-color="#d10000"/><stop offset="0.5309" stop-color="#e40000"/><stop offset="0.5679" stop-color="#ff1300"/><stop offset="0.7654" stop-color="#ff7700"/><stop offset="0.8519" stop-color="#ffab00"/><stop offset="0.9012" stop-color="#ffd000"/><stop offset="1.0000" stop-color="#ffd300"/></linearGradient><linearGradient id="g60" gradientUnits="userSpaceOnUse" x1="119.5" y1="0" x2="201.5" y2="0"><stop offset="0.0000" stop-color="#ff8900"/><stop offset="0.0244" stop-color="#ffc800"/><stop offset="0.0366" stop-color="#ffc800"/><stop offset="0.0610" stop-color="#ff9400"/><stop offset="0.0732" stop-color="#ff8900"/><stop offset="0.0976" stop-color="#ff9f00"/><stop offset="0.1341" stop-color="#ffdb00"/><stop offset="0.1585" stop-color="#ffe200"/><stop offset="0.2195" stop-color="#ffb200"/><stop offset="0.2805" stop-color="#ff7300"/><stop offset="0.3659" stop-color="#ff3f00"/><stop offset="0.4146" stop-color="#ff1300"/><stop offset="0.4390" stop-color="#e80000"/><stop offset="0.4756" stop-color="#d10000"/><stop offset="0.5244" stop-color="#e40000"/><stop offset="0.5732" stop-color="#ff1600"/><stop offset="0.7561" stop-color="#ff7a00"/><stop offset="0.8293" stop-color="#ffa700"/><stop offset="0.8659" stop-color="#ffcc00"/><stop offset="1.0000" stop-color="#ffd700"/></linearGradient><linearGradient id="g61" gradientUnits="userSpaceOnUse" x1="119.5" y1="0" x2="202.5" y2="0"><stop offset="0.0000" stop-color="#ff8d00"/><stop offset="0.0241" stop-color="#ffcc00"/><stop offset="0.0361" stop-color="#ffd000"/><stop offset="0.0602" stop-color="#ffa700"/><stop offset="0.0843" stop-color="#ffa300"/><stop offset="0.1325" stop-color="#ffe600"/><stop offset="0.1566" stop-color="#ffea00"/><stop offset="0.2289" stop-color="#ffb200"/><stop offset="0.3012" stop-color="#ff6f00"/><stop offset="0.3735" stop-color="#ff3f00"/><stop offset="0.4217" stop-color="#ff1300"/><stop offset="0.4458" stop-color="#e80000"/><stop offset="0.4940" stop-color="#d60000"/><stop offset="0.5422" stop-color="#e80000"/><stop offset="0.5783" stop-color="#ff1300"/><stop offset="0.8072" stop-color="#ff9c00"/><stop offset="0.8675" stop-color="#ffd000"/><stop offset="1.0000" stop-color="#ffd700"/></linearGradient><linearGradient id="g62" gradientUnits="userSpaceOnUse" x1="119.5" y1="0" x2="204.5" y2="0"><stop offset="0.0000" stop-color="#ffab00"/><stop offset="0.0235" stop-color="#ffd700"/><stop offset="0.0353" stop-color="#ffdb00"/><stop offset="0.0588" stop-color="#ffb900"/><stop offset="0.0706" stop-color="#ffb200"/><stop offset="0.0941" stop-color="#ffcc00"/><stop offset="0.1294" stop-color="#feed00"/><stop offset="0.1647" stop-color="#ffe600"/><stop offset="0.2588" stop-color="#ff9f00"/><stop offset="0.3176" stop-color="#ff6c00"/><stop offset="0.3882" stop-color="#ff3400"/><stop offset="0.4235" stop-color="#ff1300"/><stop offset="0.4706" stop-color="#df0000"/><stop offset="0.5176" stop-color="#df0000"/><stop offset="0.5647" stop-color="#f60b00"/><stop offset="0.6000" stop-color="#ff1e00"/><stop offset="0.7882" stop-color="#ff9800"/><stop offset="0.8588" stop-color="#ffd300"/><stop offset="1.0000" stop-color="#ffd700"/></linearGradient><linearGradient id="g63" gradientUnits="userSpaceOnUse" x1="119.5" y1="0" x2="205.5" y2="0"><stop offset="0.0000" stop-color="#ffd300"/><stop offset="0.0233" stop-color="#ffea00"/><stop offset="0.0465" stop-color="#ffd700"/><stop offset="0.0698" stop-color="#ffc400"/><stop offset="0.1163" stop-color="#fbf100"/><stop offset="0.1628" stop-color="#ffea00"/><stop offset="0.2558" stop-color="#ffae00"/><stop offset="0.3256" stop-color="#ff6f00"/><stop offset="0.4302" stop-color="#ff1300"/><stop offset="0.4767" stop-color="#e40000"/><stop offset="0.5116" stop-color="#da0000"/><stop offset="0.5581" stop-color="#f10800"/><stop offset="0.5930" stop-color="#ff1600"/><stop offset="0.7791" stop-color="#ff9400"/><stop offset="0.8488" stop-color="#ffd000"/><stop offset="0.9302" stop-color="#ffd300"/><stop offset="1.0000" stop-color="#ffd700"/></linearGradient><linearGradient id="g64" gradientUnits="userSpaceOnUse" x1="119.5" y1="0" x2="206.5" y2="0"><stop offset="0.0000" stop-color="#f4f802"/><stop offset="0.0230" stop-color="#f1fc06"/><stop offset="0.0575" stop-color="#ffdb00"/><stop offset="0.0805" stop-color="#ffe200"/><stop offset="0.1149" stop-color="#f4f802"/><stop offset="0.1724" stop-color="#ffe600"/><stop offset="0.2529" stop-color="#ffbd00"/><stop offset="0.4368" stop-color="#ff1a00"/><stop offset="0.4828" stop-color="#e80000"/><stop offset="0.5287" stop-color="#df0000"/><stop offset="0.5747" stop-color="#f60b00"/><stop offset="0.6092" stop-color="#ff2200"/><stop offset="0.7816" stop-color="#ff9c00"/><stop offset="0.8391" stop-color="#ffcc00"/><stop offset="0.9310" stop-color="#ffd700"/><stop offset="1.0000" stop-color="#ffd700"/></linearGradient><linearGradient id="g65" gradientUnits="userSpaceOnUse" x1="120.5" y1="0" x2="208.5" y2="0"><stop offset="0.0000" stop-color="#e7ff0f"/><stop offset="0.0227" stop-color="#f1fc06"/><stop offset="0.0455" stop-color="#ffea00"/><stop offset="0.1023" stop-color="#f1fc06"/><stop offset="0.1932" stop-color="#ffde00"/><stop offset="0.2500" stop-color="#ffbd00"/><stop offset="0.4432" stop-color="#ff1600"/><stop offset="0.5000" stop-color="#e40000"/><stop offset="0.5455" stop-color="#e80000"/><stop offset="0.5909" stop-color="#ff1a00"/><stop offset="0.7727" stop-color="#ffa300"/><stop offset="0.8295" stop-color="#ffd000"/><stop offset="1.0000" stop-color="#ffd700"/></linearGradient><linearGradient id="g66" gradientUnits="userSpaceOnUse" x1="120.5" y1="0" x2="209.5" y2="0"><stop offset="0.0000" stop-color="#e1ff16"/><stop offset="0.0562" stop-color="#f4f802"/><stop offset="0.1124" stop-color="#f1fc06"/><stop offset="0.2022" stop-color="#ffe200"/><stop offset="0.2809" stop-color="#ffae00"/><stop offset="0.4494" stop-color="#ff1a00"/><stop offset="0.5169" stop-color="#e80000"/><stop offset="0.5618" stop-color="#f10800"/><stop offset="0.5955" stop-color="#ff1e00"/><stop offset="0.7640" stop-color="#ff9f00"/><stop offset="0.8315" stop-color="#ffd000"/><stop offset="1.0000" stop-color="#ffd700"/></linearGradient><linearGradient id="g67" gradientUnits="userSpaceOnUse" x1="120.5" y1="0" x2="211.5" y2="0"><stop offset="0.0000" stop-color="#e1ff16"/><stop offset="0.0659" stop-color="#eeff09"/><stop offset="0.1538" stop-color="#fbf100"/><stop offset="0.2308" stop-color="#ffdb00"/><stop offset="0.3626" stop-color="#ff6c00"/><stop offset="0.4725" stop-color="#ff1300"/><stop offset="0.5275" stop-color="#e80000"/><stop offset="0.5824" stop-color="#ff1600"/><stop offset="0.8022" stop-color="#ffc800"/><stop offset="0.8681" stop-color="#ffd300"/><stop offset="1.0000" stop-color="#ffd700"/></linearGradient><linearGradient id="g68" gradientUnits="userSpaceOnUse" x1="120.5" y1="0" x2="212.5" y2="0"><stop offset="0.0000" stop-color="#e1ff16"/><stop offset="0.1304" stop-color="#f4f802"/><stop offset="0.2174" stop-color="#ffea00"/><stop offset="0.3261" stop-color="#ff9800"/><stop offset="0.4783" stop-color="#ff1600"/><stop offset="0.5435" stop-color="#ed0400"/><stop offset="0.5870" stop-color="#ff1a00"/><stop offset="0.7935" stop-color="#ffc400"/><stop offset="0.8587" stop-color="#ffd300"/><stop offset="1.0000" stop-color="#ffdb00"/></linearGradient><linearGradient id="g69" gradientUnits="userSpaceOnUse" x1="120.5" y1="0" x2="213.5" y2="0"><stop offset="0.0000" stop-color="#e1ff16"/><stop offset="0.0860" stop-color="#f4f802"/><stop offset="0.2043" stop-color="#f8f500"/><stop offset="0.3118" stop-color="#ffae00"/><stop offset="0.4731" stop-color="#ff2500"/><stop offset="0.5269" stop-color="#f60b00"/><stop offset="0.5591" stop-color="#f60b00"/><stop offset="0.6129" stop-color="#ff3000"/><stop offset="0.7742" stop-color="#ffb600"/><stop offset="0.8172" stop-color="#ffd000"/><stop offset="1.0000" stop-color="#ffdb00"/></linearGradient><linearGradient id="g70" gradientUnits="userSpaceOnUse" x1="120.5" y1="0" x2="215.5" y2="0"><stop offset="0.0000" stop-color="#e1ff16"/><stop offset="0.0316" stop-color="#eeff09"/><stop offset="0.0632" stop-color="#ffea00"/><stop offset="0.1158" stop-color="#f8f500"/><stop offset="0.1895" stop-color="#f1fc06"/><stop offset="0.2526" stop-color="#ffdb00"/><stop offset="0.3895" stop-color="#ff7300"/><stop offset="0.4947" stop-color="#ff1a00"/><stop offset="0.5474" stop-color="#f60b00"/><stop offset="0.6000" stop-color="#ff2900"/><stop offset="0.7263" stop-color="#ff9c00"/><stop offset="0.8105" stop-color="#ffd000"/><stop offset="0.9684" stop-color="#ffde00"/><stop offset="1.0000" stop-color="#ffdb00"/></linearGradient><linearGradient id="g71" gradientUnits="userSpaceOnUse" x1="121.5" y1="0" x2="216.5" y2="0"><stop offset="0.0000" stop-color="#e7ff0f"/><stop offset="0.0211" stop-color="#f4f802"/><stop offset="0.0421" stop-color="#ffdb00"/><stop offset="0.0632" stop-color="#ffd000"/><stop offset="0.1158" stop-color="#f8f500"/><stop offset="0.1579" stop-color="#ebff0c"/><stop offset="0.2000" stop-color="#f1fc06"/><stop offset="0.2421" stop-color="#ffde00"/><stop offset="0.3579" stop-color="#ff9400"/><stop offset="0.4947" stop-color="#ff1e00"/><stop offset="0.5474" stop-color="#fa0f00"/><stop offset="0.6000" stop-color="#ff3000"/><stop offset="0.7263" stop-color="#ff9f00"/><stop offset="0.8105" stop-color="#ffd300"/><stop offset="0.9474" stop-color="#ffde00"/><stop offset="1.0000" stop-color="#ffdb00"/></linearGradient><linearGradient id="g72" gradientUnits="userSpaceOnUse" x1="121.5" y1="0" x2="218.5" y2="0"><stop offset="0.0000" stop-color="#f1fc06"/><stop offset="0.0309" stop-color="#ffde00"/><stop offset="0.0515" stop-color="#ffbd00"/><stop offset="0.0722" stop-color="#ffbd00"/><stop offset="0.1134" stop-color="#feed00"/><stop offset="0.1443" stop-color="#ebff0c"/><stop offset="0.1959" stop-color="#eeff09"/><stop offset="0.2474" stop-color="#ffde00"/><stop offset="0.3711" stop-color="#ff9400"/><stop offset="0.4845" stop-color="#ff2900"/><stop offset="0.5361" stop-color="#ff1300"/><stop offset="0.5773" stop-color="#ff2200"/><stop offset="0.6804" stop-color="#ff8200"/><stop offset="0.7938" stop-color="#ffd300"/><stop offset="0.8969" stop-color="#ffe200"/><stop offset="1.0000" stop-color="#ffde00"/></linearGradient><linearGradient id="g73" gradientUnits="userSpaceOnUse" x1="121.5" y1="0" x2="219.5" y2="0"><stop offset="0.0000" stop-color="#ffe200"/><stop offset="0.0204" stop-color="#ffde00"/><stop offset="0.0510" stop-color="#ffae00"/><stop offset="0.0714" stop-color="#ffab00"/><stop offset="0.1122" stop-color="#feed00"/><stop offset="0.1429" stop-color="#e7ff0f"/><stop offset="0.2041" stop-color="#ebff0c"/><stop offset="0.2347" stop-color="#feed00"/><stop offset="0.3163" stop-color="#ffbd00"/><stop offset="0.3673" stop-color="#ff9f00"/><stop offset="0.5000" stop-color="#ff2500"/><stop offset="0.5510" stop-color="#ff1600"/><stop offset="0.6122" stop-color="#ff4700"/><stop offset="0.7551" stop-color="#ffbd00"/><stop offset="0.8265" stop-color="#ffde00"/><stop offset="0.9796" stop-color="#ffe600"/><stop offset="1.0000" stop-color="#ffe600"/></linearGradient><linearGradient id="g74" gradientUnits="userSpaceOnUse" x1="121.5" y1="0" x2="220.5" y2="0"><stop offset="0.0000" stop-color="#ffc100"/><stop offset="0.0202" stop-color="#ffd000"/><stop offset="0.0303" stop-color="#ffcc00"/><stop offset="0.0505" stop-color="#ffa300"/><stop offset="0.0707" stop-color="#ff9f00"/><stop offset="0.1111" stop-color="#ffea00"/><stop offset="0.1313" stop-color="#ebff0c"/><stop offset="0.1818" stop-color="#e1ff16"/><stop offset="0.2222" stop-color="#f1fc06"/><stop offset="0.2626" stop-color="#ffde00"/><stop offset="0.3737" stop-color="#ffa700"/><stop offset="0.4949" stop-color="#ff2d00"/><stop offset="0.5455" stop-color="#ff1a00"/><stop offset="0.5960" stop-color="#ff3800"/><stop offset="0.7071" stop-color="#ff9800"/><stop offset="0.8182" stop-color="#ffe200"/><stop offset="1.0000" stop-color="#fbf100"/></linearGradient><linearGradient id="g75" gradientUnits="userSpaceOnUse" x1="121.5" y1="0" x2="222.5" y2="0"><stop offset="0.0000" stop-color="#ffa700"/><stop offset="0.0198" stop-color="#ffc400"/><stop offset="0.0297" stop-color="#ffc400"/><stop offset="0.0594" stop-color="#ff9800"/><stop offset="0.0693" stop-color="#ff9c00"/><stop offset="0.1089" stop-color="#ffea00"/><stop offset="0.1287" stop-color="#ebff0c"/><stop offset="0.1782" stop-color="#deff19"/><stop offset="0.2277" stop-color="#f1fc06"/><stop offset="0.2673" stop-color="#ffe200"/><stop offset="0.3762" stop-color="#ffae00"/><stop offset="0.4950" stop-color="#ff3000"/><stop offset="0.5446" stop-color="#ff1e00"/><stop offset="0.5941" stop-color="#ff3f00"/><stop offset="0.7624" stop-color="#ffc800"/><stop offset="0.8317" stop-color="#ffe600"/><stop offset="0.9703" stop-color="#f8f500"/><stop offset="1.0000" stop-color="#eeff09"/></linearGradient><linearGradient id="g76" gradientUnits="userSpaceOnUse" x1="122.5" y1="0" x2="223.5" y2="0"><stop offset="0.0000" stop-color="#ffae00"/><stop offset="0.0099" stop-color="#ffc100"/><stop offset="0.0198" stop-color="#ffc400"/><stop offset="0.0495" stop-color="#ff9800"/><stop offset="0.0693" stop-color="#ffab00"/><stop offset="0.0990" stop-color="#ffea00"/><stop offset="0.1188" stop-color="#ebff0c"/><stop offset="0.1782" stop-color="#dbff1c"/><stop offset="0.2376" stop-color="#f4f802"/><stop offset="0.2871" stop-color="#ffe200"/><stop offset="0.3663" stop-color="#ffbd00"/><stop offset="0.4950" stop-color="#ff3400"/><stop offset="0.5446" stop-color="#ff2500"/><stop offset="0.5941" stop-color="#ff4300"/><stop offset="0.7327" stop-color="#ffb600"/><stop offset="0.8119" stop-color="#ffe200"/><stop offset="0.9604" stop-color="#f4f802"/><stop offset="1.0000" stop-color="#e7ff0f"/></linearGradient><linearGradient id="g77" gradientUnits="userSpaceOnUse" x1="122.5" y1="0" x2="225.5" y2="0"><stop offset="0.0000" stop-color="#ffb200"/><stop offset="0.0097" stop-color="#ffc400"/><stop offset="0.0194" stop-color="#ffc800"/><stop offset="0.0485" stop-color="#ff9c00"/><stop offset="0.0680" stop-color="#ffae00"/><stop offset="0.0971" stop-color="#ffea00"/><stop offset="0.1165" stop-color="#ebff0c"/><stop offset="0.1650" stop-color="#d7ff1f"/><stop offset="0.2621" stop-color="#f4f802"/><stop offset="0.3107" stop-color="#ffe200"/><stop offset="0.3689" stop-color="#ffc400"/><stop offset="0.4854" stop-color="#ff3f00"/><stop offset="0.5437" stop-color="#ff2900"/><stop offset="0.6117" stop-color="#ff5500"/><stop offset="0.7573" stop-color="#ffcc00"/><stop offset="0.8641" stop-color="#fbf100"/><stop offset="0.9612" stop-color="#eeff09"/><stop offset="1.0000" stop-color="#e1ff16"/></linearGradient><linearGradient id="g78" gradientUnits="userSpaceOnUse" x1="122.5" y1="0" x2="226.5" y2="0"><stop offset="0.0000" stop-color="#ffc100"/><stop offset="0.0192" stop-color="#ffcc00"/><stop offset="0.0481" stop-color="#ff9f00"/><stop offset="0.0673" stop-color="#ffae00"/><stop offset="0.0962" stop-color="#ffe600"/><stop offset="0.1154" stop-color="#ebff0c"/><stop offset="0.1827" stop-color="#d1ff26"/><stop offset="0.2885" stop-color="#f4f802"/><stop offset="0.3365" stop-color="#ffe200"/><stop offset="0.3846" stop-color="#ffc100"/><stop offset="0.4904" stop-color="#ff4300"/><stop offset="0.5481" stop-color="#ff2d00"/><stop offset="0.6250" stop-color="#ff6000"/><stop offset="0.7596" stop-color="#ffcc00"/><stop offset="0.8654" stop-color="#f8f500"/><stop offset="0.9712" stop-color="#e7ff0f"/><stop offset="1.0000" stop-color="#deff19"/></linearGradient><linearGradient id="g79" gradientUnits="userSpaceOnUse" x1="122.5" y1="0" x2="227.5" y2="0"><stop offset="0.0000" stop-color="#ffd700"/><stop offset="0.0190" stop-color="#ffd000"/><stop offset="0.0476" stop-color="#ffa300"/><stop offset="0.0667" stop-color="#ffb200"/><stop offset="0.0952" stop-color="#ffe600"/><stop offset="0.1143" stop-color="#ebff0c"/><stop offset="0.1810" stop-color="#caff2c"/><stop offset="0.3238" stop-color="#f4f802"/><stop offset="0.3619" stop-color="#ffe600"/><stop offset="0.4952" stop-color="#ff4700"/><stop offset="0.5429" stop-color="#ff3400"/><stop offset="0.5810" stop-color="#ff3f00"/><stop offset="0.7619" stop-color="#ffcc00"/><stop offset="0.8476" stop-color="#f8f500"/><stop offset="0.9714" stop-color="#e7ff0f"/><stop offset="1.0000" stop-color="#deff19"/></linearGradient><linearGradient id="g80" gradientUnits="userSpaceOnUse" x1="122.5" y1="0" x2="229.5" y2="0"><stop offset="0.0000" stop-color="#ffe600"/><stop offset="0.0187" stop-color="#ffd700"/><stop offset="0.0374" stop-color="#ffb200"/><stop offset="0.0561" stop-color="#ffab00"/><stop offset="0.0748" stop-color="#ffc400"/><stop offset="0.0935" stop-color="#ffea00"/><stop offset="0.1121" stop-color="#e7ff0f"/><stop offset="0.1869" stop-color="#c4ff33"/><stop offset="0.3364" stop-color="#ebff0c"/><stop offset="0.3645" stop-color="#feed00"/><stop offset="0.4860" stop-color="#ff5500"/><stop offset="0.5234" stop-color="#ff3b00"/><stop offset="0.5701" stop-color="#ff3b00"/><stop offset="0.7477" stop-color="#ffc800"/><stop offset="0.8318" stop-color="#f8f500"/><stop offset="0.9626" stop-color="#e4ff13"/><stop offset="1.0000" stop-color="#d4ff23"/></linearGradient><linearGradient id="g81" gradientUnits="userSpaceOnUse" x1="123.5" y1="0" x2="230.5" y2="0"><stop offset="0.0000" stop-color="#ffea00"/><stop offset="0.0374" stop-color="#ffae00"/><stop offset="0.0561" stop-color="#ffb600"/><stop offset="0.0841" stop-color="#ffea00"/><stop offset="0.1028" stop-color="#e7ff0f"/><stop offset="0.1682" stop-color="#beff39"/><stop offset="0.2336" stop-color="#c4ff33"/><stop offset="0.3364" stop-color="#e1ff16"/><stop offset="0.3551" stop-color="#f1fc06"/><stop offset="0.3832" stop-color="#ffd700"/><stop offset="0.4860" stop-color="#ff5900"/><stop offset="0.5327" stop-color="#ff3f00"/><stop offset="0.5888" stop-color="#ff4a00"/><stop offset="0.7477" stop-color="#ffc800"/><stop offset="0.8224" stop-color="#f8f500"/><stop offset="0.9065" stop-color="#ebff0c"/><stop offset="0.9813" stop-color="#dbff1c"/><stop offset="1.0000" stop-color="#d1ff26"/></linearGradient><linearGradient id="g82" gradientUnits="userSpaceOnUse" x1="123.5" y1="0" x2="231.5" y2="0"><stop offset="0.0000" stop-color="#ffea00"/><stop offset="0.0370" stop-color="#ffb200"/><stop offset="0.0556" stop-color="#ffb900"/><stop offset="0.0833" stop-color="#ffea00"/><stop offset="0.0926" stop-color="#f1fc06"/><stop offset="0.1667" stop-color="#baff3c"/><stop offset="0.2222" stop-color="#b7ff40"/><stop offset="0.3241" stop-color="#caff2c"/><stop offset="0.3611" stop-color="#eeff09"/><stop offset="0.3889" stop-color="#ffde00"/><stop offset="0.4815" stop-color="#ff6400"/><stop offset="0.5463" stop-color="#ff4300"/><stop offset="0.5926" stop-color="#ff4e00"/><stop offset="0.7500" stop-color="#ffc800"/><stop offset="0.8148" stop-color="#f8f500"/><stop offset="0.8796" stop-color="#ebff0c"/><stop offset="0.9722" stop-color="#deff19"/><stop offset="1.0000" stop-color="#d1ff26"/></linearGradient><linearGradient id="g83" gradientUnits="userSpaceOnUse" x1="123.5" y1="0" x2="233.5" y2="0"><stop offset="0.0000" stop-color="#feed00"/><stop offset="0.0364" stop-color="#ffb900"/><stop offset="0.0545" stop-color="#ffbd00"/><stop offset="0.0818" stop-color="#feed00"/><stop offset="0.1000" stop-color="#e4ff13"/><stop offset="0.1636" stop-color="#b4ff43"/><stop offset="0.2091" stop-color="#aaff4d"/><stop offset="0.3091" stop-color="#b7ff40"/><stop offset="0.3545" stop-color="#deff19"/><stop offset="0.3727" stop-color="#f1fc06"/><stop offset="0.4000" stop-color="#ffdb00"/><stop offset="0.4727" stop-color="#ff7300"/><stop offset="0.5273" stop-color="#ff5200"/><stop offset="0.5727" stop-color="#ff4a00"/><stop offset="0.6273" stop-color="#ff6c00"/><stop offset="0.8000" stop-color="#fbf100"/><stop offset="0.8455" stop-color="#ebff0c"/><stop offset="0.9727" stop-color="#d7ff1f"/><stop offset="1.0000" stop-color="#d1ff26"/></linearGradient><linearGradient id="g84" gradientUnits="userSpaceOnUse" x1="123.5" y1="0" x2="234.5" y2="0"><stop offset="0.0000" stop-color="#feed00"/><stop offset="0.0360" stop-color="#ffc100"/><stop offset="0.0541" stop-color="#ffc100"/><stop offset="0.0811" stop-color="#fbf100"/><stop offset="0.0901" stop-color="#eeff09"/><stop offset="0.1261" stop-color="#c4ff33"/><stop offset="0.1892" stop-color="#a4ff53"/><stop offset="0.3063" stop-color="#a7ff50"/><stop offset="0.3514" stop-color="#ceff29"/><stop offset="0.3874" stop-color="#f1fc06"/><stop offset="0.4144" stop-color="#ffd700"/><stop offset="0.4685" stop-color="#ff8600"/><stop offset="0.5135" stop-color="#ff6000"/><stop offset="0.5676" stop-color="#ff4e00"/><stop offset="0.6126" stop-color="#ff6000"/><stop offset="0.7928" stop-color="#feed00"/><stop offset="0.8468" stop-color="#e7ff0f"/><stop offset="0.9820" stop-color="#d4ff23"/><stop offset="1.0000" stop-color="#d1ff26"/></linearGradient><linearGradient id="g85" gradientUnits="userSpaceOnUse" x1="123.5" y1="0" x2="236.5" y2="0"><stop offset="0.0000" stop-color="#fbf100"/><stop offset="0.0442" stop-color="#ffc100"/><stop offset="0.0708" stop-color="#ffe200"/><stop offset="0.0796" stop-color="#f8f500"/><stop offset="0.0973" stop-color="#deff19"/><stop offset="0.1416" stop-color="#adff49"/><stop offset="0.2212" stop-color="#9aff5d"/><stop offset="0.3009" stop-color="#97ff60"/><stop offset="0.3451" stop-color="#beff39"/><stop offset="0.3982" stop-color="#f4f802"/><stop offset="0.4159" stop-color="#ffde00"/><stop offset="0.4690" stop-color="#ff8d00"/><stop offset="0.5133" stop-color="#ff6800"/><stop offset="0.5752" stop-color="#ff5500"/><stop offset="0.6195" stop-color="#ff6800"/><stop offset="0.7876" stop-color="#feed00"/><stop offset="0.8230" stop-color="#ebff0c"/><stop offset="1.0000" stop-color="#ceff29"/></linearGradient><linearGradient id="g86" gradientUnits="userSpaceOnUse" x1="123.5" y1="0" x2="237.5" y2="0"><stop offset="0.0000" stop-color="#f8f500"/><stop offset="0.0439" stop-color="#ffc800"/><stop offset="0.0614" stop-color="#ffd700"/><stop offset="0.0789" stop-color="#f8f500"/><stop offset="0.0965" stop-color="#d7ff1f"/><stop offset="0.1404" stop-color="#a7ff50"/><stop offset="0.2193" stop-color="#94ff63"/><stop offset="0.2895" stop-color="#83ff73"/><stop offset="0.3246" stop-color="#9aff5d"/><stop offset="0.4123" stop-color="#f4f802"/><stop offset="0.4298" stop-color="#ffdb00"/><stop offset="0.4825" stop-color="#ff8d00"/><stop offset="0.5351" stop-color="#ff6400"/><stop offset="0.5965" stop-color="#ff5d00"/><stop offset="0.6842" stop-color="#ff9c00"/><stop offset="0.7895" stop-color="#fbf100"/><stop offset="0.8333" stop-color="#e4ff13"/><stop offset="1.0000" stop-color="#ceff29"/></linearGradient><linearGradient id="g87" gradientUnits="userSpaceOnUse" x1="124.5" y1="0" x2="238.5" y2="0"><stop offset="0.0000" stop-color="#f8f500"/><stop offset="0.0351" stop-color="#ffd000"/><stop offset="0.0526" stop-color="#ffdb00"/><stop offset="0.0702" stop-color="#f4f802"/><stop offset="0.1140" stop-color="#b1ff46"/><stop offset="0.1579" stop-color="#97ff60"/><stop offset="0.2895" stop-color="#77ff80"/><stop offset="0.3947" stop-color="#d4ff23"/><stop offset="0.4123" stop-color="#ebff0c"/><stop offset="0.4211" stop-color="#f8f500"/><stop offset="0.4649" stop-color="#ffab00"/><stop offset="0.5263" stop-color="#ff7300"/><stop offset="0.5965" stop-color="#ff6000"/><stop offset="0.6491" stop-color="#ff8200"/><stop offset="0.7895" stop-color="#fbf100"/><stop offset="0.8158" stop-color="#ebff0c"/><stop offset="0.8860" stop-color="#dbff1c"/><stop offset="1.0000" stop-color="#ceff29"/></linearGradient><linearGradient id="g88" gradientUnits="userSpaceOnUse" x1="124.5" y1="0" x2="240.5" y2="0"><stop offset="0.0000" stop-color="#f4f802"/><stop offset="0.0345" stop-color="#ffd700"/><stop offset="0.0517" stop-color="#ffde00"/><stop offset="0.0690" stop-color="#f1fc06"/><stop offset="0.1207" stop-color="#a0ff56"/><stop offset="0.2845" stop-color="#6aff8d"/><stop offset="0.3534" stop-color="#a0ff56"/><stop offset="0.4138" stop-color="#e1ff16"/><stop offset="0.4224" stop-color="#eeff09"/><stop offset="0.4397" stop-color="#ffe200"/><stop offset="0.4828" stop-color="#ff9f00"/><stop offset="0.5345" stop-color="#ff7700"/><stop offset="0.5862" stop-color="#ff6800"/><stop offset="0.6293" stop-color="#ff7300"/><stop offset="0.7759" stop-color="#feed00"/><stop offset="0.8103" stop-color="#e7ff0f"/><stop offset="0.8879" stop-color="#d7ff1f"/><stop offset="1.0000" stop-color="#ceff29"/></linearGradient><linearGradient id="g89" gradientUnits="userSpaceOnUse" x1="124.5" y1="0" x2="241.5" y2="0"><stop offset="0.0000" stop-color="#f1fc06"/><stop offset="0.0427" stop-color="#ffdb00"/><stop offset="0.0598" stop-color="#feed00"/><stop offset="0.0684" stop-color="#eeff09"/><stop offset="0.1111" stop-color="#a7ff50"/><stop offset="0.1538" stop-color="#8aff6d"/><stop offset="0.2821" stop-color="#5dff9a"/><stop offset="0.3419" stop-color="#87ff70"/><stop offset="0.4274" stop-color="#e4ff13"/><stop offset="0.4444" stop-color="#feed00"/><stop offset="0.4957" stop-color="#ff9f00"/><stop offset="0.5470" stop-color="#ff7a00"/><stop offset="0.6068" stop-color="#ff6c00"/><stop offset="0.6496" stop-color="#ff8200"/><stop offset="0.7778" stop-color="#fbf100"/><stop offset="0.8205" stop-color="#e1ff16"/><stop offset="0.9744" stop-color="#caff2c"/><stop offset="1.0000" stop-color="#ceff29"/></linearGradient><linearGradient id="g90" gradientUnits="userSpaceOnUse" x1="124.5" y1="0" x2="243.5" y2="0"><stop offset="0.0000" stop-color="#f1fc06"/><stop offset="0.0420" stop-color="#ffde00"/><stop offset="0.0588" stop-color="#fbf100"/><stop offset="0.0672" stop-color="#ebff0c"/><stop offset="0.1176" stop-color="#97ff60"/><stop offset="0.2773" stop-color="#53ffa4"/><stop offset="0.3193" stop-color="#66ff90"/><stop offset="0.4286" stop-color="#dbff1c"/><stop offset="0.4454" stop-color="#f4f802"/><stop offset="0.4622" stop-color="#ffdb00"/><stop offset="0.5042" stop-color="#ff9f00"/><stop offset="0.5714" stop-color="#ff7700"/><stop offset="0.6218" stop-color="#ff7300"/><stop offset="0.6975" stop-color="#ffae00"/><stop offset="0.7731" stop-color="#fbf100"/><stop offset="0.7983" stop-color="#e7ff0f"/><stop offset="0.8655" stop-color="#d1ff26"/><stop offset="0.9748" stop-color="#caff2c"/><stop offset="1.0000" stop-color="#ceff29"/></linearGradient><linearGradient id="g91" gradientUnits="userSpaceOnUse" x1="124.5" y1="0" x2="244.5" y2="0"><stop offset="0.0000" stop-color="#f1fc06"/><stop offset="0.0417" stop-color="#ffe200"/><stop offset="0.0583" stop-color="#f8f500"/><stop offset="0.0750" stop-color="#dbff1c"/><stop offset="0.1167" stop-color="#94ff63"/><stop offset="0.1750" stop-color="#73ff83"/><stop offset="0.2833" stop-color="#49ffad"/><stop offset="0.3417" stop-color="#6dff8a"/><stop offset="0.4417" stop-color="#deff19"/><stop offset="0.4583" stop-color="#f8f500"/><stop offset="0.5000" stop-color="#ffb200"/><stop offset="0.5667" stop-color="#ff8200"/><stop offset="0.6167" stop-color="#ff7300"/><stop offset="0.6667" stop-color="#ff9400"/><stop offset="0.7667" stop-color="#feed00"/><stop offset="0.8000" stop-color="#e7ff0f"/><stop offset="0.8583" stop-color="#ceff29"/><stop offset="0.9583" stop-color="#c7ff30"/><stop offset="1.0000" stop-color="#ceff29"/></linearGradient><linearGradient id="g92" gradientUnits="userSpaceOnUse" x1="125.5" y1="0" x2="245.5" y2="0"><stop offset="0.0000" stop-color="#fbf100"/><stop offset="0.0417" stop-color="#ffea00"/><stop offset="0.0500" stop-color="#f8f500"/><stop offset="0.0667" stop-color="#dbff1c"/><stop offset="0.1167" stop-color="#8aff6d"/><stop offset="0.1917" stop-color="#60ff97"/><stop offset="0.2750" stop-color="#43ffb4"/><stop offset="0.3167" stop-color="#50ffa7"/><stop offset="0.4417" stop-color="#d4ff23"/><stop offset="0.4583" stop-color="#eeff09"/><stop offset="0.4667" stop-color="#feed00"/><stop offset="0.5000" stop-color="#ffbd00"/><stop offset="0.5750" stop-color="#ff8200"/><stop offset="0.6250" stop-color="#ff7700"/><stop offset="0.7083" stop-color="#ffb900"/><stop offset="0.7750" stop-color="#f8f500"/><stop offset="0.8083" stop-color="#deff19"/><stop offset="0.8750" stop-color="#c7ff30"/><stop offset="0.9500" stop-color="#c4ff33"/><stop offset="1.0000" stop-color="#caff2c"/></linearGradient><linearGradient id="g93" gradientUnits="userSpaceOnUse" x1="125.5" y1="0" x2="247.5" y2="0"><stop offset="0.0000" stop-color="#ffea00"/><stop offset="0.0410" stop-color="#feed00"/><stop offset="0.0574" stop-color="#e7ff0f"/><stop offset="0.1066" stop-color="#97ff60"/><stop offset="0.1557" stop-color="#66ff90"/><stop offset="0.2787" stop-color="#39ffbe"/><stop offset="0.3197" stop-color="#4dffaa"/><stop offset="0.4426" stop-color="#caff2c"/><stop offset="0.4590" stop-color="#e7ff0f"/><stop offset="0.4672" stop-color="#f8f500"/><stop offset="0.5082" stop-color="#ffbd00"/><stop offset="0.5820" stop-color="#ff8200"/><stop offset="0.6230" stop-color="#ff7a00"/><stop offset="0.7049" stop-color="#ffbd00"/><stop offset="0.7623" stop-color="#fbf100"/><stop offset="0.7869" stop-color="#e7ff0f"/><stop offset="0.8443" stop-color="#c7ff30"/><stop offset="0.9262" stop-color="#beff39"/><stop offset="0.9836" stop-color="#c7ff30"/><stop offset="1.0000" stop-color="#c4ff33"/></linearGradient><linearGradient id="g94" gradientUnits="userSpaceOnUse" x1="125.5" y1="0" x2="248.5" y2="0"><stop offset="0.0000" stop-color="#ffe600"/><stop offset="0.0407" stop-color="#feed00"/><stop offset="0.0569" stop-color="#e7ff0f"/><stop offset="0.1220" stop-color="#83ff73"/><stop offset="0.1789" stop-color="#53ffa4"/><stop offset="0.2683" stop-color="#33ffc4"/><stop offset="0.3089" stop-color="#3cffba"/><stop offset="0.4309" stop-color="#aaff4d"/><stop offset="0.4715" stop-color="#f1fc06"/><stop offset="0.4878" stop-color="#ffe200"/><stop offset="0.5772" stop-color="#ff8d00"/><stop offset="0.6260" stop-color="#ff7e00"/><stop offset="0.6748" stop-color="#ff9f00"/><stop offset="0.7561" stop-color="#feed00"/><stop offset="0.7886" stop-color="#e4ff13"/><stop offset="0.8537" stop-color="#c1ff36"/><stop offset="0.9187" stop-color="#baff3c"/><stop offset="0.9675" stop-color="#c7ff30"/><stop offset="1.0000" stop-color="#c1ff36"/></linearGradient><linearGradient id="g95" gradientUnits="userSpaceOnUse" x1="125.5" y1="0" x2="250.5" y2="0"><stop offset="0.0000" stop-color="#ffe600"/><stop offset="0.0240" stop-color="#fbf100"/><stop offset="0.0400" stop-color="#feed00"/><stop offset="0.0560" stop-color="#e7ff0f"/><stop offset="0.1440" stop-color="#6aff8d"/><stop offset="0.2000" stop-color="#40ffb7"/><stop offset="0.2880" stop-color="#2cffca"/><stop offset="0.3280" stop-color="#49ffad"/><stop offset="0.3680" stop-color="#6dff8a"/><stop offset="0.4320" stop-color="#a0ff56"/><stop offset="0.4720" stop-color="#ebff0c"/><stop offset="0.4800" stop-color="#f8f500"/><stop offset="0.5200" stop-color="#ffc800"/><stop offset="0.5840" stop-color="#ff8d00"/><stop offset="0.6240" stop-color="#ff8200"/><stop offset="0.6560" stop-color="#ff9400"/><stop offset="0.7520" stop-color="#fbf100"/><stop offset="0.7760" stop-color="#e7ff0f"/><stop offset="0.8480" stop-color="#baff3c"/><stop offset="0.8960" stop-color="#b4ff43"/><stop offset="0.9440" stop-color="#c4ff33"/><stop offset="1.0000" stop-color="#beff39"/></linearGradient><linearGradient id="g96" gradientUnits="userSpaceOnUse" x1="125.5" y1="0" x2="251.5" y2="0"><stop offset="0.0000" stop-color="#ffea00"/><stop offset="0.0159" stop-color="#f8f500"/><stop offset="0.0397" stop-color="#fbf100"/><stop offset="0.0556" stop-color="#e7ff0f"/><stop offset="0.1587" stop-color="#5aff9d"/><stop offset="0.2143" stop-color="#33ffc4"/><stop offset="0.2857" stop-color="#26ffd1"/><stop offset="0.4206" stop-color="#83ff73"/><stop offset="0.4841" stop-color="#f1fc06"/><stop offset="0.5079" stop-color="#ffe200"/><stop offset="0.5714" stop-color="#ff9c00"/><stop offset="0.6270" stop-color="#ff8200"/><stop offset="0.6746" stop-color="#ffa300"/><stop offset="0.7540" stop-color="#fbf100"/><stop offset="0.7778" stop-color="#e4ff13"/><stop offset="0.8492" stop-color="#b4ff43"/><stop offset="0.8968" stop-color="#b1ff46"/><stop offset="0.9365" stop-color="#c4ff33"/><stop offset="1.0000" stop-color="#beff39"/></linearGradient><linearGradient id="g97" gradientUnits="userSpaceOnUse" x1="125.5" y1="0" x2="252.5" y2="0"><stop offset="0.0000" stop-color="#feed00"/><stop offset="0.0236" stop-color="#f8f500"/><stop offset="0.0472" stop-color="#f4f802"/><stop offset="0.1260" stop-color="#87ff70"/><stop offset="0.1890" stop-color="#3cffba"/><stop offset="0.2756" stop-color="#1fffd7"/><stop offset="0.3150" stop-color="#33ffc4"/><stop offset="0.3701" stop-color="#53ffa4"/><stop offset="0.4173" stop-color="#73ff83"/><stop offset="0.4567" stop-color="#b7ff40"/><stop offset="0.4961" stop-color="#f1fc06"/><stop offset="0.5197" stop-color="#ffde00"/><stop offset="0.5984" stop-color="#ff9100"/><stop offset="0.6299" stop-color="#ff8600"/><stop offset="0.6614" stop-color="#ff9800"/><stop offset="0.7480" stop-color="#feed00"/><stop offset="0.7795" stop-color="#e1ff16"/><stop offset="0.8504" stop-color="#adff49"/><stop offset="0.8819" stop-color="#aaff4d"/><stop offset="0.9291" stop-color="#c1ff36"/><stop offset="1.0000" stop-color="#baff3c"/></linearGradient><linearGradient id="g98" gradientUnits="userSpaceOnUse" x1="126.5" y1="0" x2="254.5" y2="0"><stop offset="0.0000" stop-color="#f8f500"/><stop offset="0.0391" stop-color="#f1fc06"/><stop offset="0.1797" stop-color="#39ffbe"/><stop offset="0.2656" stop-color="#1cffdb"/><stop offset="0.3047" stop-color="#29ffce"/><stop offset="0.4062" stop-color="#63ff94"/><stop offset="0.4766" stop-color="#dbff1c"/><stop offset="0.5000" stop-color="#f4f802"/><stop offset="0.5312" stop-color="#ffd300"/><stop offset="0.5938" stop-color="#ff9400"/><stop offset="0.6328" stop-color="#ff8900"/><stop offset="0.6875" stop-color="#ffb900"/><stop offset="0.7422" stop-color="#fbf100"/><stop offset="0.7656" stop-color="#e4ff13"/><stop offset="0.8516" stop-color="#a0ff56"/><stop offset="0.9219" stop-color="#c1ff36"/><stop offset="1.0000" stop-color="#b7ff40"/></linearGradient><linearGradient id="g99" gradientUnits="userSpaceOnUse" x1="126.5" y1="0" x2="255.5" y2="0"><stop offset="0.0000" stop-color="#f8f500"/><stop offset="0.0155" stop-color="#f1fc06"/><stop offset="0.0388" stop-color="#f1fc06"/><stop offset="0.1783" stop-color="#39ffbe"/><stop offset="0.2326" stop-color="#1fffd7"/><stop offset="0.2868" stop-color="#1cffdb"/><stop offset="0.4031" stop-color="#53ffa4"/><stop offset="0.4729" stop-color="#caff2c"/><stop offset="0.5116" stop-color="#f4f802"/><stop offset="0.5271" stop-color="#ffe600"/><stop offset="0.5891" stop-color="#ff9f00"/><stop offset="0.6279" stop-color="#ff8d00"/><stop offset="0.6667" stop-color="#ffa300"/><stop offset="0.7442" stop-color="#f8f500"/><stop offset="0.7752" stop-color="#dbff1c"/><stop offset="0.8450" stop-color="#9dff5a"/><stop offset="0.8837" stop-color="#b1ff46"/><stop offset="0.9302" stop-color="#c1ff36"/><stop offset="1.0000" stop-color="#b7ff40"/></linearGradient><linearGradient id="g100" gradientUnits="userSpaceOnUse" x1="126.5" y1="0" x2="257.5" y2="0"><stop offset="0.0000" stop-color="#f8f500"/><stop offset="0.0458" stop-color="#e7ff0f"/><stop offset="0.1756" stop-color="#36ffc1"/><stop offset="0.2519" stop-color="#19ffde"/><stop offset="0.3053" stop-color="#1cffdb"/><stop offset="0.3969" stop-color="#49ffad"/><stop offset="0.4656" stop-color="#baff3c"/><stop offset="0.5115" stop-color="#eeff09"/><stop offset="0.5344" stop-color="#ffe200"/><stop offset="0.5954" stop-color="#ff9c00"/><stop offset="0.6336" stop-color="#ff9100"/><stop offset="0.6718" stop-color="#ffab00"/><stop offset="0.7328" stop-color="#fbf100"/><stop offset="0.7557" stop-color="#e4ff13"/><stop offset="0.8321" stop-color="#9aff5d"/><stop offset="0.9008" stop-color="#beff39"/><stop offset="1.0000" stop-color="#b7ff40"/></linearGradient><linearGradient id="g101" gradientUnits="userSpaceOnUse" x1="126.5" y1="0" x2="258.5" y2="0"><stop offset="0.0000" stop-color="#f8f500"/><stop offset="0.0303" stop-color="#eeff09"/><stop offset="0.0682" stop-color="#c7ff30"/><stop offset="0.1742" stop-color="#36ffc1"/><stop offset="0.2348" stop-color="#19ffde"/><stop offset="0.3030" stop-color="#16ffe1"/><stop offset="0.3939" stop-color="#40ffb7"/><stop offset="0.4545" stop-color="#a0ff56"/><stop offset="0.5227" stop-color="#f1fc06"/><stop offset="0.5455" stop-color="#ffde00"/><stop offset="0.5909" stop-color="#ffa700"/><stop offset="0.6288" stop-color="#ff9400"/><stop offset="0.6667" stop-color="#ffa700"/><stop offset="0.7273" stop-color="#ffea00"/><stop offset="0.7500" stop-color="#e7ff0f"/><stop offset="0.8182" stop-color="#a0ff56"/><stop offset="0.8485" stop-color="#a4ff53"/><stop offset="0.9015" stop-color="#beff39"/><stop offset="1.0000" stop-color="#b7ff40"/></linearGradient><linearGradient id="g102" gradientUnits="userSpaceOnUse" x1="126.5" y1="0" x2="259.5" y2="0"><stop offset="0.0000" stop-color="#f4f802"/><stop offset="0.0451" stop-color="#e1ff16"/><stop offset="0.1729" stop-color="#33ffc4"/><stop offset="0.2632" stop-color="#0ff8e7"/><stop offset="0.3008" stop-color="#0ff8e7"/><stop offset="0.3910" stop-color="#39ffbe"/><stop offset="0.4436" stop-color="#87ff70"/><stop offset="0.5263" stop-color="#eeff09"/><stop offset="0.5489" stop-color="#ffe200"/><stop offset="0.5940" stop-color="#ffab00"/><stop offset="0.6316" stop-color="#ff9800"/><stop offset="0.6617" stop-color="#ffa300"/><stop offset="0.7293" stop-color="#fbf100"/><stop offset="0.7519" stop-color="#e4ff13"/><stop offset="0.8120" stop-color="#a0ff56"/><stop offset="0.9023" stop-color="#beff39"/><stop offset="1.0000" stop-color="#b4ff43"/></linearGradient><linearGradient id="g103" gradientUnits="userSpaceOnUse" x1="127.5" y1="0" x2="261.5" y2="0"><stop offset="0.0000" stop-color="#ebff0c"/><stop offset="0.0373" stop-color="#deff19"/><stop offset="0.1642" stop-color="#33ffc4"/><stop offset="0.2388" stop-color="#0ff8e7"/><stop offset="0.2836" stop-color="#06ecf1"/><stop offset="0.3433" stop-color="#1cffdb"/><stop offset="0.3881" stop-color="#39ffbe"/><stop offset="0.4328" stop-color="#77ff80"/><stop offset="0.4851" stop-color="#b1ff46"/><stop offset="0.5299" stop-color="#f1fc06"/><stop offset="0.5522" stop-color="#ffdb00"/><stop offset="0.5970" stop-color="#ffab00"/><stop offset="0.6343" stop-color="#ff9c00"/><stop offset="0.6642" stop-color="#ffae00"/><stop offset="0.7164" stop-color="#ffea00"/><stop offset="0.7388" stop-color="#e7ff0f"/><stop offset="0.7910" stop-color="#aaff4d"/><stop offset="0.8284" stop-color="#adff49"/><stop offset="0.8955" stop-color="#beff39"/><stop offset="1.0000" stop-color="#b4ff43"/></linearGradient><linearGradient id="g104" gradientUnits="userSpaceOnUse" x1="127.5" y1="0" x2="262.5" y2="0"><stop offset="0.0000" stop-color="#e7ff0f"/><stop offset="0.0370" stop-color="#dbff1c"/><stop offset="0.1630" stop-color="#33ffc4"/><stop offset="0.2296" stop-color="#0ff8e7"/><stop offset="0.2815" stop-color="#02e8f4"/><stop offset="0.3556" stop-color="#1cffdb"/><stop offset="0.3852" stop-color="#33ffc4"/><stop offset="0.4519" stop-color="#7aff7d"/><stop offset="0.4815" stop-color="#9dff5a"/><stop offset="0.5333" stop-color="#eeff09"/><stop offset="0.5556" stop-color="#ffe200"/><stop offset="0.6000" stop-color="#ffae00"/><stop offset="0.6444" stop-color="#ff9f00"/><stop offset="0.7111" stop-color="#ffe600"/><stop offset="0.7333" stop-color="#ebff0c"/><stop offset="0.7778" stop-color="#b4ff43"/><stop offset="0.8148" stop-color="#b1ff46"/><stop offset="0.8963" stop-color="#beff39"/><stop offset="1.0000" stop-color="#b4ff43"/></linearGradient><linearGradient id="g105" gradientUnits="userSpaceOnUse" x1="127.5" y1="0" x2="264.5" y2="0"><stop offset="0.0000" stop-color="#e1ff16"/><stop offset="0.0365" stop-color="#d7ff1f"/><stop offset="0.1533" stop-color="#39ffbe"/><stop offset="0.2190" stop-color="#0ff8e7"/><stop offset="0.2774" stop-color="#00e0fb"/><stop offset="0.3431" stop-color="#13fce4"/><stop offset="0.3869" stop-color="#30ffc7"/><stop offset="0.4672" stop-color="#7dff7a"/><stop offset="0.5255" stop-color="#deff19"/><stop offset="0.5401" stop-color="#f1fc06"/><stop offset="0.5620" stop-color="#ffdb00"/><stop offset="0.6131" stop-color="#ffab00"/><stop offset="0.6496" stop-color="#ffa700"/><stop offset="0.7153" stop-color="#f8f500"/><stop offset="0.7299" stop-color="#e4ff13"/><stop offset="0.7664" stop-color="#b7ff40"/><stop offset="0.8248" stop-color="#baff3c"/><stop offset="0.9051" stop-color="#beff39"/><stop offset="1.0000" stop-color="#b4ff43"/></linearGradient><linearGradient id="g106" gradientUnits="userSpaceOnUse" x1="127.5" y1="0" x2="265.5" y2="0"><stop offset="0.0000" stop-color="#deff19"/><stop offset="0.0362" stop-color="#d4ff23"/><stop offset="0.1594" stop-color="#30ffc7"/><stop offset="0.2174" stop-color="#0ff8e7"/><stop offset="0.2754" stop-color="#00dcfe"/><stop offset="0.3406" stop-color="#0cf4eb"/><stop offset="0.3841" stop-color="#26ffd1"/><stop offset="0.4710" stop-color="#73ff83"/><stop offset="0.5217" stop-color="#d1ff26"/><stop offset="0.5507" stop-color="#f4f802"/><stop offset="0.5652" stop-color="#ffe200"/><stop offset="0.6159" stop-color="#ffae00"/><stop offset="0.6522" stop-color="#ffae00"/><stop offset="0.6884" stop-color="#ffd300"/><stop offset="0.7101" stop-color="#fbf100"/><stop offset="0.7246" stop-color="#e4ff13"/><stop offset="0.7609" stop-color="#beff39"/><stop offset="0.8116" stop-color="#baff3c"/><stop offset="0.9130" stop-color="#beff39"/><stop offset="1.0000" stop-color="#b4ff43"/></linearGradient><linearGradient id="g107" gradientUnits="userSpaceOnUse" x1="127.5" y1="0" x2="266.5" y2="0"><stop offset="0.0000" stop-color="#deff19"/><stop offset="0.0360" stop-color="#d1ff26"/><stop offset="0.1583" stop-color="#30ffc7"/><stop offset="0.2158" stop-color="#0ff8e7"/><stop offset="0.2734" stop-color="#00dcfe"/><stop offset="0.3381" stop-color="#06ecf1"/><stop offset="0.3885" stop-color="#1fffd7"/><stop offset="0.4676" stop-color="#63ff94"/><stop offset="0.5180" stop-color="#c1ff36"/><stop offset="0.5540" stop-color="#eeff09"/><stop offset="0.5755" stop-color="#ffde00"/><stop offset="0.6115" stop-color="#ffb900"/><stop offset="0.6475" stop-color="#ffae00"/><stop offset="0.6835" stop-color="#ffd000"/><stop offset="0.7050" stop-color="#fbf100"/><stop offset="0.7194" stop-color="#e7ff0f"/><stop offset="0.7626" stop-color="#beff39"/><stop offset="0.9424" stop-color="#baff3c"/><stop offset="1.0000" stop-color="#b4ff43"/></linearGradient><linearGradient id="g108" gradientUnits="userSpaceOnUse" x1="127.5" y1="0" x2="268.5" y2="0"><stop offset="0.0000" stop-color="#deff19"/><stop offset="0.0426" stop-color="#c7ff30"/><stop offset="0.1489" stop-color="#36ffc1"/><stop offset="0.2057" stop-color="#0ff8e7"/><stop offset="0.2624" stop-color="#00dcfe"/><stop offset="0.3333" stop-color="#00e4f8"/><stop offset="0.3901" stop-color="#1cffdb"/><stop offset="0.4539" stop-color="#49ffad"/><stop offset="0.4823" stop-color="#7aff7d"/><stop offset="0.5177" stop-color="#beff39"/><stop offset="0.5532" stop-color="#e4ff13"/><stop offset="0.5603" stop-color="#eeff09"/><stop offset="0.5745" stop-color="#ffe600"/><stop offset="0.6170" stop-color="#ffb900"/><stop offset="0.6525" stop-color="#ffb900"/><stop offset="0.6879" stop-color="#ffe200"/><stop offset="0.7092" stop-color="#ebff0c"/><stop offset="0.7447" stop-color="#c7ff30"/><stop offset="0.7943" stop-color="#beff39"/><stop offset="0.8865" stop-color="#c1ff36"/><stop offset="1.0000" stop-color="#b4ff43"/></linearGradient><linearGradient id="g109" gradientUnits="userSpaceOnUse" x1="128.5" y1="0" x2="269.5" y2="0"><stop offset="0.0000" stop-color="#dbff1c"/><stop offset="0.0284" stop-color="#ceff29"/><stop offset="0.1418" stop-color="#36ffc1"/><stop offset="0.1986" stop-color="#0ff8e7"/><stop offset="0.2553" stop-color="#00dcfe"/><stop offset="0.3404" stop-color="#00e4f8"/><stop offset="0.3972" stop-color="#1cffdb"/><stop offset="0.4539" stop-color="#43ffb4"/><stop offset="0.5106" stop-color="#adff49"/><stop offset="0.5461" stop-color="#ceff29"/><stop offset="0.5674" stop-color="#f4f802"/><stop offset="0.5816" stop-color="#ffe200"/><stop offset="0.6170" stop-color="#ffc100"/><stop offset="0.6525" stop-color="#ffbd00"/><stop offset="0.6879" stop-color="#ffea00"/><stop offset="0.7021" stop-color="#eeff09"/><stop offset="0.7305" stop-color="#d1ff26"/><stop offset="0.7872" stop-color="#beff39"/><stop offset="0.8865" stop-color="#c1ff36"/><stop offset="0.9929" stop-color="#b4ff43"/><stop offset="1.0000" stop-color="#b4ff43"/></linearGradient><linearGradient id="g110" gradientUnits="userSpaceOnUse" x1="128.5" y1="0" x2="270.5" y2="0"><stop offset="0.0000" stop-color="#dbff1c"/><stop offset="0.0352" stop-color="#c4ff33"/><stop offset="0.1338" stop-color="#3cffba"/><stop offset="0.1831" stop-color="#16ffe1"/><stop offset="0.2465" stop-color="#00e0fb"/><stop offset="0.3451" stop-color="#00e0fb"/><stop offset="0.4085" stop-color="#1cffdb"/><stop offset="0.4577" stop-color="#40ffb7"/><stop offset="0.5070" stop-color="#9dff5a"/><stop offset="0.5423" stop-color="#b7ff40"/><stop offset="0.5704" stop-color="#eeff09"/><stop offset="0.5845" stop-color="#ffe600"/><stop offset="0.6268" stop-color="#ffc400"/><stop offset="0.6549" stop-color="#ffc800"/><stop offset="0.6901" stop-color="#fbf100"/><stop offset="0.7042" stop-color="#e7ff0f"/><stop offset="0.7394" stop-color="#ceff29"/><stop offset="0.8028" stop-color="#c1ff36"/><stop offset="0.9155" stop-color="#beff39"/><stop offset="1.0000" stop-color="#adff49"/></linearGradient><linearGradient id="g111" gradientUnits="userSpaceOnUse" x1="128.5" y1="0" x2="272.5" y2="0"><stop offset="0.0000" stop-color="#dbff1c"/><stop offset="0.0347" stop-color="#c4ff33"/><stop offset="0.1250" stop-color="#43ffb4"/><stop offset="0.1875" stop-color="#0ff8e7"/><stop offset="0.2500" stop-color="#00dcfe"/><stop offset="0.3472" stop-color="#00dcfe"/><stop offset="0.4167" stop-color="#19ffde"/><stop offset="0.4514" stop-color="#36ffc1"/><stop offset="0.5000" stop-color="#90ff66"/><stop offset="0.5417" stop-color="#b1ff46"/><stop offset="0.5764" stop-color="#f4f802"/><stop offset="0.5903" stop-color="#ffe600"/><stop offset="0.6250" stop-color="#ffcc00"/><stop offset="0.6528" stop-color="#ffd000"/><stop offset="0.6806" stop-color="#fbf100"/><stop offset="0.6944" stop-color="#e7ff0f"/><stop offset="0.7153" stop-color="#d4ff23"/><stop offset="0.7986" stop-color="#c4ff33"/><stop offset="0.9236" stop-color="#baff3c"/><stop offset="1.0000" stop-color="#adff49"/></linearGradient><linearGradient id="g112" gradientUnits="userSpaceOnUse" x1="128.5" y1="0" x2="273.5" y2="0"><stop offset="0.0000" stop-color="#dbff1c"/><stop offset="0.0345" stop-color="#c4ff33"/><stop offset="0.1241" stop-color="#43ffb4"/><stop offset="0.1862" stop-color="#0ff8e7"/><stop offset="0.2483" stop-color="#00dcfe"/><stop offset="0.3517" stop-color="#00d8ff"/><stop offset="0.4276" stop-color="#16ffe1"/><stop offset="0.4621" stop-color="#43ffb4"/><stop offset="0.4966" stop-color="#83ff73"/><stop offset="0.5379" stop-color="#a0ff56"/><stop offset="0.5793" stop-color="#eeff09"/><stop offset="0.6000" stop-color="#ffe600"/><stop offset="0.6414" stop-color="#ffd300"/><stop offset="0.6690" stop-color="#ffe600"/><stop offset="0.6897" stop-color="#e7ff0f"/><stop offset="0.7172" stop-color="#d1ff26"/><stop offset="0.8069" stop-color="#c4ff33"/><stop offset="0.9241" stop-color="#baff3c"/><stop offset="1.0000" stop-color="#aaff4d"/></linearGradient><linearGradient id="g113" gradientUnits="userSpaceOnUse" x1="128.5" y1="0" x2="275.5" y2="0"><stop offset="0.0000" stop-color="#dbff1c"/><stop offset="0.0340" stop-color="#c4ff33"/><stop offset="0.1293" stop-color="#39ffbe"/><stop offset="0.1837" stop-color="#0ff8e7"/><stop offset="0.2381" stop-color="#00dcfe"/><stop offset="0.3469" stop-color="#00d4ff"/><stop offset="0.4082" stop-color="#09f0ee"/><stop offset="0.4422" stop-color="#1fffd7"/><stop offset="0.4898" stop-color="#73ff83"/><stop offset="0.5238" stop-color="#90ff66"/><stop offset="0.5442" stop-color="#a7ff50"/><stop offset="0.5782" stop-color="#e7ff0f"/><stop offset="0.5986" stop-color="#fbf100"/><stop offset="0.6395" stop-color="#ffde00"/><stop offset="0.6667" stop-color="#fbf100"/><stop offset="0.6803" stop-color="#e4ff13"/><stop offset="0.7075" stop-color="#ceff29"/><stop offset="0.7619" stop-color="#caff2c"/><stop offset="0.9252" stop-color="#b7ff40"/><stop offset="0.9864" stop-color="#aaff4d"/><stop offset="1.0000" stop-color="#aaff4d"/></linearGradient><linearGradient id="g114" gradientUnits="userSpaceOnUse" x1="129.5" y1="0" x2="276.5" y2="0"><stop offset="0.0000" stop-color="#d1ff26"/><stop offset="0.0340" stop-color="#beff39"/><stop offset="0.1156" stop-color="#43ffb4"/><stop offset="0.1701" stop-color="#13fce4"/><stop offset="0.2245" stop-color="#00e0fb"/><stop offset="0.2925" stop-color="#00d0ff"/><stop offset="0.3469" stop-color="#00d0ff"/><stop offset="0.4218" stop-color="#09f0ee"/><stop offset="0.4422" stop-color="#23ffd4"/><stop offset="0.4966" stop-color="#73ff83"/><stop offset="0.5374" stop-color="#90ff66"/><stop offset="0.5714" stop-color="#d4ff23"/><stop offset="0.5986" stop-color="#f1fc06"/><stop offset="0.6395" stop-color="#ffea00"/><stop offset="0.6599" stop-color="#f8f500"/><stop offset="0.6735" stop-color="#e4ff13"/><stop offset="0.6939" stop-color="#caff2c"/><stop offset="0.8639" stop-color="#c4ff33"/><stop offset="0.9864" stop-color="#a7ff50"/><stop offset="1.0000" stop-color="#a4ff53"/></linearGradient><linearGradient id="g115" gradientUnits="userSpaceOnUse" x1="129.5" y1="0" x2="277.5" y2="0"><stop offset="0.0000" stop-color="#caff2c"/><stop offset="0.0270" stop-color="#c4ff33"/><stop offset="0.1216" stop-color="#39ffbe"/><stop offset="0.1757" stop-color="#0ff8e7"/><stop offset="0.2162" stop-color="#00e0fb"/><stop offset="0.3041" stop-color="#00c8ff"/><stop offset="0.3581" stop-color="#00d0ff"/><stop offset="0.4257" stop-color="#06ecf1"/><stop offset="0.4392" stop-color="#16ffe1"/><stop offset="0.4932" stop-color="#5dff9a"/><stop offset="0.5338" stop-color="#77ff80"/><stop offset="0.5743" stop-color="#ceff29"/><stop offset="0.6284" stop-color="#f4f802"/><stop offset="0.6622" stop-color="#ebff0c"/><stop offset="0.6959" stop-color="#c4ff33"/><stop offset="0.7905" stop-color="#caff2c"/><stop offset="0.9189" stop-color="#b7ff40"/><stop offset="1.0000" stop-color="#9dff5a"/></linearGradient><linearGradient id="g116" gradientUnits="userSpaceOnUse" x1="129.5" y1="0" x2="279.5" y2="0"><stop offset="0.0000" stop-color="#c7ff30"/><stop offset="0.0333" stop-color="#beff39"/><stop offset="0.1267" stop-color="#33ffc4"/><stop offset="0.1733" stop-color="#0ff8e7"/><stop offset="0.2133" stop-color="#00dcfe"/><stop offset="0.3067" stop-color="#00c4ff"/><stop offset="0.3600" stop-color="#00ccff"/><stop offset="0.4200" stop-color="#00dcfe"/><stop offset="0.4400" stop-color="#0ff8e7"/><stop offset="0.4933" stop-color="#46ffb1"/><stop offset="0.5267" stop-color="#60ff97"/><stop offset="0.5733" stop-color="#c4ff33"/><stop offset="0.6333" stop-color="#ebff0c"/><stop offset="0.6600" stop-color="#deff19"/><stop offset="0.6867" stop-color="#beff39"/><stop offset="0.7800" stop-color="#caff2c"/><stop offset="0.9067" stop-color="#b7ff40"/><stop offset="1.0000" stop-color="#97ff60"/></linearGradient><linearGradient id="g117" gradientUnits="userSpaceOnUse" x1="129.5" y1="0" x2="280.5" y2="0"><stop offset="0.0000" stop-color="#c1ff36"/><stop offset="0.0265" stop-color="#c4ff33"/><stop offset="0.1325" stop-color="#2cffca"/><stop offset="0.1788" stop-color="#0cf4eb"/><stop offset="0.2119" stop-color="#00dcfe"/><stop offset="0.2980" stop-color="#00c0ff"/><stop offset="0.3377" stop-color="#00c0ff"/><stop offset="0.4172" stop-color="#00d0ff"/><stop offset="0.4503" stop-color="#0cf4eb"/><stop offset="0.4768" stop-color="#23ffd4"/><stop offset="0.5232" stop-color="#49ffad"/><stop offset="0.5629" stop-color="#a4ff53"/><stop offset="0.6291" stop-color="#deff19"/><stop offset="0.6490" stop-color="#deff19"/><stop offset="0.6821" stop-color="#baff3c"/><stop offset="0.8079" stop-color="#caff2c"/><stop offset="0.9338" stop-color="#aaff4d"/><stop offset="1.0000" stop-color="#94ff63"/></linearGradient><linearGradient id="g118" gradientUnits="userSpaceOnUse" x1="129.5" y1="0" x2="282.5" y2="0"><stop offset="0.0000" stop-color="#beff39"/><stop offset="0.0261" stop-color="#c4ff33"/><stop offset="0.0719" stop-color="#83ff73"/><stop offset="0.1307" stop-color="#30ffc7"/><stop offset="0.1699" stop-color="#0ff8e7"/><stop offset="0.2092" stop-color="#00d8ff"/><stop offset="0.3203" stop-color="#00b8ff"/><stop offset="0.4183" stop-color="#00c8ff"/><stop offset="0.4575" stop-color="#06ecf1"/><stop offset="0.4902" stop-color="#1cffdb"/><stop offset="0.5163" stop-color="#39ffbe"/><stop offset="0.5621" stop-color="#9aff5d"/><stop offset="0.6013" stop-color="#baff3c"/><stop offset="0.6275" stop-color="#d4ff23"/><stop offset="0.6536" stop-color="#caff2c"/><stop offset="0.6797" stop-color="#b1ff46"/><stop offset="0.7908" stop-color="#caff2c"/><stop offset="0.9150" stop-color="#adff49"/><stop offset="1.0000" stop-color="#94ff63"/></linearGradient><linearGradient id="g119" gradientUnits="userSpaceOnUse" x1="129.5" y1="0" x2="283.5" y2="0"><stop offset="0.0000" stop-color="#beff39"/><stop offset="0.0260" stop-color="#c1ff36"/><stop offset="0.0584" stop-color="#9aff5d"/><stop offset="0.1364" stop-color="#29ffce"/><stop offset="0.1753" stop-color="#0cf4eb"/><stop offset="0.2078" stop-color="#00d8ff"/><stop offset="0.2662" stop-color="#00c0ff"/><stop offset="0.3506" stop-color="#00b4ff"/><stop offset="0.4156" stop-color="#00c0ff"/><stop offset="0.4610" stop-color="#00e4f8"/><stop offset="0.5000" stop-color="#1cffdb"/><stop offset="0.5325" stop-color="#53ffa4"/><stop offset="0.5649" stop-color="#8dff6a"/><stop offset="0.6104" stop-color="#b7ff40"/><stop offset="0.6364" stop-color="#c7ff30"/><stop offset="0.6818" stop-color="#adff49"/><stop offset="0.7922" stop-color="#c7ff30"/><stop offset="0.9026" stop-color="#adff49"/><stop offset="1.0000" stop-color="#94ff63"/></linearGradient><linearGradient id="g120" gradientUnits="userSpaceOnUse" x1="130.5" y1="0" x2="284.5" y2="0"><stop offset="0.0000" stop-color="#beff39"/><stop offset="0.0260" stop-color="#beff39"/><stop offset="0.1299" stop-color="#29ffce"/><stop offset="0.1688" stop-color="#0cf4eb"/><stop offset="0.2013" stop-color="#00d8ff"/><stop offset="0.2727" stop-color="#00b8ff"/><stop offset="0.3961" stop-color="#00b0ff"/><stop offset="0.4675" stop-color="#00e0fb"/><stop offset="0.4935" stop-color="#0ff8e7"/><stop offset="0.5649" stop-color="#83ff73"/><stop offset="0.5974" stop-color="#9aff5d"/><stop offset="0.6234" stop-color="#b7ff40"/><stop offset="0.6429" stop-color="#baff3c"/><stop offset="0.6753" stop-color="#a7ff50"/><stop offset="0.7792" stop-color="#c4ff33"/><stop offset="0.9286" stop-color="#a4ff53"/><stop offset="1.0000" stop-color="#94ff63"/></linearGradient><linearGradient id="g121" gradientUnits="userSpaceOnUse" x1="130.5" y1="0" x2="286.5" y2="0"><stop offset="0.0000" stop-color="#beff39"/><stop offset="0.0256" stop-color="#beff39"/><stop offset="0.1154" stop-color="#39ffbe"/><stop offset="0.1603" stop-color="#0ff8e7"/><stop offset="0.1987" stop-color="#00d8ff"/><stop offset="0.2564" stop-color="#00b8ff"/><stop offset="0.3526" stop-color="#00a8ff"/><stop offset="0.4103" stop-color="#00b0ff"/><stop offset="0.4808" stop-color="#00e4f8"/><stop offset="0.5000" stop-color="#16ffe1"/><stop offset="0.5641" stop-color="#77ff80"/><stop offset="0.5962" stop-color="#8dff6a"/><stop offset="0.6282" stop-color="#b1ff46"/><stop offset="0.6731" stop-color="#a0ff56"/><stop offset="0.7756" stop-color="#beff39"/><stop offset="0.8910" stop-color="#a7ff50"/><stop offset="1.0000" stop-color="#94ff63"/></linearGradient><linearGradient id="g122" gradientUnits="userSpaceOnUse" x1="130.5" y1="0" x2="287.5" y2="0"><stop offset="0.0000" stop-color="#beff39"/><stop offset="0.0318" stop-color="#b7ff40"/><stop offset="0.1338" stop-color="#23ffd4"/><stop offset="0.1592" stop-color="#0cf4eb"/><stop offset="0.1911" stop-color="#00dcfe"/><stop offset="0.2484" stop-color="#00b8ff"/><stop offset="0.3439" stop-color="#00a4ff"/><stop offset="0.4076" stop-color="#00a8ff"/><stop offset="0.4841" stop-color="#00e0fb"/><stop offset="0.5032" stop-color="#16ffe1"/><stop offset="0.5669" stop-color="#66ff90"/><stop offset="0.5924" stop-color="#77ff80"/><stop offset="0.6306" stop-color="#a4ff53"/><stop offset="0.6815" stop-color="#9dff5a"/><stop offset="0.7707" stop-color="#b7ff40"/><stop offset="0.8790" stop-color="#a7ff50"/><stop offset="0.9936" stop-color="#94ff63"/><stop offset="1.0000" stop-color="#94ff63"/></linearGradient><linearGradient id="g123" gradientUnits="userSpaceOnUse" x1="130.5" y1="0" x2="289.5" y2="0"><stop offset="0.0000" stop-color="#beff39"/><stop offset="0.0314" stop-color="#b7ff40"/><stop offset="0.0881" stop-color="#63ff94"/><stop offset="0.1195" stop-color="#30ffc7"/><stop offset="0.1509" stop-color="#13fce4"/><stop offset="0.1824" stop-color="#00e0fb"/><stop offset="0.2264" stop-color="#00c0ff"/><stop offset="0.3208" stop-color="#00a0ff"/><stop offset="0.3962" stop-color="#00a0ff"/><stop offset="0.4780" stop-color="#00d4ff"/><stop offset="0.4969" stop-color="#09f0ee"/><stop offset="0.5157" stop-color="#1fffd7"/><stop offset="0.5597" stop-color="#50ffa7"/><stop offset="0.5912" stop-color="#6aff8d"/><stop offset="0.6289" stop-color="#97ff60"/><stop offset="0.6855" stop-color="#9aff5d"/><stop offset="0.7610" stop-color="#b4ff43"/><stop offset="0.8302" stop-color="#aaff4d"/><stop offset="0.8742" stop-color="#a0ff56"/><stop offset="0.9937" stop-color="#90ff66"/><stop offset="1.0000" stop-color="#94ff63"/></linearGradient><linearGradient id="g124" gradientUnits="userSpaceOnUse" x1="130.5" y1="0" x2="290.5" y2="0"><stop offset="0.0000" stop-color="#beff39"/><stop offset="0.0375" stop-color="#b1ff46"/><stop offset="0.0938" stop-color="#56ffa0"/><stop offset="0.1250" stop-color="#29ffce"/><stop offset="0.1500" stop-color="#13fce4"/><stop offset="0.1812" stop-color="#00dcfe"/><stop offset="0.2500" stop-color="#00b0ff"/><stop offset="0.3375" stop-color="#009cff"/><stop offset="0.4125" stop-color="#00a0ff"/><stop offset="0.4750" stop-color="#00c8ff"/><stop offset="0.4938" stop-color="#00e0fb"/><stop offset="0.5188" stop-color="#1cffdb"/><stop offset="0.5625" stop-color="#40ffb7"/><stop offset="0.6125" stop-color="#77ff80"/><stop offset="0.6375" stop-color="#8dff6a"/><stop offset="0.6937" stop-color="#9aff5d"/><stop offset="0.7562" stop-color="#adff49"/><stop offset="0.8187" stop-color="#a7ff50"/><stop offset="0.8562" stop-color="#a4ff53"/><stop offset="0.9125" stop-color="#94ff63"/><stop offset="1.0000" stop-color="#90ff66"/></linearGradient><linearGradient id="g125" gradientUnits="userSpaceOnUse" x1="131.5" y1="0" x2="291.5" y2="0"><stop offset="0.0000" stop-color="#baff3c"/><stop offset="0.0312" stop-color="#b1ff46"/><stop offset="0.0813" stop-color="#60ff97"/><stop offset="0.1187" stop-color="#29ffce"/><stop offset="0.1437" stop-color="#13fce4"/><stop offset="0.1750" stop-color="#00dcfe"/><stop offset="0.2375" stop-color="#00b0ff"/><stop offset="0.3187" stop-color="#0098ff"/><stop offset="0.4062" stop-color="#009cff"/><stop offset="0.4625" stop-color="#00b8ff"/><stop offset="0.4938" stop-color="#00e0fb"/><stop offset="0.5188" stop-color="#16ffe1"/><stop offset="0.5875" stop-color="#4dffaa"/><stop offset="0.6312" stop-color="#7dff7a"/><stop offset="0.7438" stop-color="#aaff4d"/><stop offset="0.8063" stop-color="#a4ff53"/><stop offset="0.8500" stop-color="#a0ff56"/><stop offset="0.9062" stop-color="#90ff66"/><stop offset="1.0000" stop-color="#8dff6a"/></linearGradient><linearGradient id="g126" gradientUnits="userSpaceOnUse" x1="131.5" y1="0" x2="293.5" y2="0"><stop offset="0.0000" stop-color="#baff3c"/><stop offset="0.0309" stop-color="#b1ff46"/><stop offset="0.0617" stop-color="#83ff73"/><stop offset="0.1049" stop-color="#36ffc1"/><stop offset="0.1420" stop-color="#13fce4"/><stop offset="0.1728" stop-color="#00d8ff"/><stop offset="0.2407" stop-color="#00acff"/><stop offset="0.3086" stop-color="#0098ff"/><stop offset="0.4012" stop-color="#0098ff"/><stop offset="0.4630" stop-color="#00b4ff"/><stop offset="0.5000" stop-color="#00e4f8"/><stop offset="0.5309" stop-color="#19ffde"/><stop offset="0.5741" stop-color="#39ffbe"/><stop offset="0.6420" stop-color="#7dff7a"/><stop offset="0.7346" stop-color="#a4ff53"/><stop offset="0.7963" stop-color="#a0ff56"/><stop offset="0.8395" stop-color="#9dff5a"/><stop offset="0.8951" stop-color="#8dff6a"/><stop offset="1.0000" stop-color="#8aff6d"/></linearGradient><linearGradient id="g127" gradientUnits="userSpaceOnUse" x1="131.5" y1="0" x2="294.5" y2="0"><stop offset="0.0000" stop-color="#baff3c"/><stop offset="0.0368" stop-color="#aaff4d"/><stop offset="0.1043" stop-color="#36ffc1"/><stop offset="0.1411" stop-color="#13fce4"/><stop offset="0.1718" stop-color="#00d8ff"/><stop offset="0.2515" stop-color="#00a4ff"/><stop offset="0.3190" stop-color="#0094ff"/><stop offset="0.4294" stop-color="#009cff"/><stop offset="0.4724" stop-color="#00b8ff"/><stop offset="0.5092" stop-color="#00e4f8"/><stop offset="0.5399" stop-color="#16ffe1"/><stop offset="0.5828" stop-color="#39ffbe"/><stop offset="0.6503" stop-color="#7dff7a"/><stop offset="0.7301" stop-color="#9dff5a"/><stop offset="0.8037" stop-color="#a0ff56"/><stop offset="0.8466" stop-color="#94ff63"/><stop offset="0.9325" stop-color="#87ff70"/><stop offset="1.0000" stop-color="#83ff73"/></linearGradient><linearGradient id="g128" gradientUnits="userSpaceOnUse" x1="131.5" y1="0" x2="296.5" y2="0"><stop offset="0.0000" stop-color="#baff3c"/><stop offset="0.0364" stop-color="#aaff4d"/><stop offset="0.0909" stop-color="#46ffb1"/><stop offset="0.1394" stop-color="#13fce4"/><stop offset="0.1697" stop-color="#00d8ff"/><stop offset="0.2182" stop-color="#00b4ff"/><stop offset="0.3030" stop-color="#0090ff"/><stop offset="0.4182" stop-color="#0098ff"/><stop offset="0.4667" stop-color="#00b0ff"/><stop offset="0.5152" stop-color="#00e0fb"/><stop offset="0.5515" stop-color="#16ffe1"/><stop offset="0.6606" stop-color="#80ff77"/><stop offset="0.7212" stop-color="#9aff5d"/><stop offset="0.7879" stop-color="#9dff5a"/><stop offset="0.8303" stop-color="#97ff60"/><stop offset="0.8727" stop-color="#83ff73"/><stop offset="0.9879" stop-color="#80ff77"/><stop offset="1.0000" stop-color="#70ff87"/></linearGradient><linearGradient id="g129" gradientUnits="userSpaceOnUse" x1="131.5" y1="0" x2="297.5" y2="0"><stop offset="0.0000" stop-color="#baff3c"/><stop offset="0.0361" stop-color="#a7ff50"/><stop offset="0.0964" stop-color="#40ffb7"/><stop offset="0.1446" stop-color="#0ff8e7"/><stop offset="0.1687" stop-color="#00d8ff"/><stop offset="0.2229" stop-color="#00acff"/><stop offset="0.3072" stop-color="#0090ff"/><stop offset="0.4337" stop-color="#0098ff"/><stop offset="0.4880" stop-color="#00bcff"/><stop offset="0.5301" stop-color="#00e4f8"/><stop offset="0.5663" stop-color="#1cffdb"/><stop offset="0.6627" stop-color="#7dff7a"/><stop offset="0.7169" stop-color="#94ff63"/><stop offset="0.7831" stop-color="#9aff5d"/><stop offset="0.8253" stop-color="#94ff63"/><stop offset="0.8675" stop-color="#80ff77"/><stop offset="0.9759" stop-color="#7dff7a"/><stop offset="1.0000" stop-color="#66ff90"/></linearGradient><linearGradient id="g130" gradientUnits="userSpaceOnUse" x1="131.5" y1="0" x2="298.5" y2="0"><stop offset="0.0000" stop-color="#baff3c"/><stop offset="0.0419" stop-color="#9dff5a"/><stop offset="0.0898" stop-color="#46ffb1"/><stop offset="0.1437" stop-color="#0ff8e7"/><stop offset="0.1677" stop-color="#00d8ff"/><stop offset="0.2096" stop-color="#00b0ff"/><stop offset="0.3054" stop-color="#0090ff"/><stop offset="0.4012" stop-color="#0090ff"/><stop offset="0.4611" stop-color="#00a0ff"/><stop offset="0.5449" stop-color="#00e4f8"/><stop offset="0.5689" stop-color="#19ffde"/><stop offset="0.6707" stop-color="#7dff7a"/><stop offset="0.7126" stop-color="#8dff6a"/><stop offset="0.8024" stop-color="#9aff5d"/><stop offset="0.8623" stop-color="#7dff7a"/><stop offset="0.9701" stop-color="#7aff7d"/><stop offset="1.0000" stop-color="#66ff90"/></linearGradient><linearGradient id="g131" gradientUnits="userSpaceOnUse" x1="132.5" y1="0" x2="300.5" y2="0"><stop offset="0.0000" stop-color="#b7ff40"/><stop offset="0.0357" stop-color="#9aff5d"/><stop offset="0.0833" stop-color="#46ffb1"/><stop offset="0.1369" stop-color="#0ff8e7"/><stop offset="0.1607" stop-color="#00dcfe"/><stop offset="0.2083" stop-color="#00acff"/><stop offset="0.3036" stop-color="#008cff"/><stop offset="0.4405" stop-color="#0094ff"/><stop offset="0.5417" stop-color="#00e0fb"/><stop offset="0.5714" stop-color="#19ffde"/><stop offset="0.6786" stop-color="#83ff73"/><stop offset="0.7917" stop-color="#97ff60"/><stop offset="0.8571" stop-color="#77ff80"/><stop offset="0.9583" stop-color="#7aff7d"/><stop offset="1.0000" stop-color="#63ff94"/></linearGradient><linearGradient id="g132" gradientUnits="userSpaceOnUse" x1="132.5" y1="0" x2="301.5" y2="0"><stop offset="0.0000" stop-color="#b7ff40"/><stop offset="0.0355" stop-color="#97ff60"/><stop offset="0.0769" stop-color="#50ffa7"/><stop offset="0.1361" stop-color="#13fce4"/><stop offset="0.1598" stop-color="#00dcfe"/><stop offset="0.2071" stop-color="#00acff"/><stop offset="0.3018" stop-color="#008cff"/><stop offset="0.4142" stop-color="#008cff"/><stop offset="0.4734" stop-color="#00a4ff"/><stop offset="0.5385" stop-color="#00d4ff"/><stop offset="0.5621" stop-color="#09f0ee"/><stop offset="0.5799" stop-color="#1cffdb"/><stop offset="0.6805" stop-color="#80ff77"/><stop offset="0.7870" stop-color="#94ff63"/><stop offset="0.8521" stop-color="#73ff83"/><stop offset="0.9586" stop-color="#77ff80"/><stop offset="1.0000" stop-color="#63ff94"/></linearGradient><linearGradient id="g133" gradientUnits="userSpaceOnUse" x1="132.5" y1="0" x2="303.5" y2="0"><stop offset="0.0000" stop-color="#b7ff40"/><stop offset="0.0351" stop-color="#94ff63"/><stop offset="0.0819" stop-color="#49ffad"/><stop offset="0.1404" stop-color="#0ff8e7"/><stop offset="0.1637" stop-color="#00d8ff"/><stop offset="0.1988" stop-color="#00b0ff"/><stop offset="0.2865" stop-color="#008cff"/><stop offset="0.4327" stop-color="#008cff"/><stop offset="0.5322" stop-color="#00ccff"/><stop offset="0.5614" stop-color="#06ecf1"/><stop offset="0.5789" stop-color="#19ffde"/><stop offset="0.6784" stop-color="#7aff7d"/><stop offset="0.7719" stop-color="#94ff63"/><stop offset="0.8421" stop-color="#70ff87"/><stop offset="0.9532" stop-color="#73ff83"/><stop offset="1.0000" stop-color="#63ff94"/></linearGradient><linearGradient id="g134" gradientUnits="userSpaceOnUse" x1="132.5" y1="0" x2="304.5" y2="0"><stop offset="0.0000" stop-color="#b4ff43"/><stop offset="0.0407" stop-color="#8aff6d"/><stop offset="0.0814" stop-color="#49ffad"/><stop offset="0.1395" stop-color="#0ff8e7"/><stop offset="0.1628" stop-color="#00d8ff"/><stop offset="0.2035" stop-color="#00a8ff"/><stop offset="0.2907" stop-color="#008cff"/><stop offset="0.4070" stop-color="#0084ff"/><stop offset="0.4593" stop-color="#0098ff"/><stop offset="0.5349" stop-color="#00c8ff"/><stop offset="0.5581" stop-color="#00e4f8"/><stop offset="0.5872" stop-color="#19ffde"/><stop offset="0.6802" stop-color="#77ff80"/><stop offset="0.7616" stop-color="#90ff66"/><stop offset="0.8430" stop-color="#6aff8d"/><stop offset="0.9244" stop-color="#73ff83"/><stop offset="1.0000" stop-color="#63ff94"/></linearGradient><linearGradient id="g135" gradientUnits="userSpaceOnUse" x1="132.5" y1="0" x2="305.5" y2="0"><stop offset="0.0000" stop-color="#adff49"/><stop offset="0.0405" stop-color="#87ff70"/><stop offset="0.0809" stop-color="#4dffaa"/><stop offset="0.1387" stop-color="#13fce4"/><stop offset="0.1618" stop-color="#00dcfe"/><stop offset="0.1965" stop-color="#00acff"/><stop offset="0.2775" stop-color="#008cff"/><stop offset="0.4046" stop-color="#0080ff"/><stop offset="0.4566" stop-color="#0094ff"/><stop offset="0.5260" stop-color="#00b8ff"/><stop offset="0.5607" stop-color="#00e0fb"/><stop offset="0.5896" stop-color="#16ffe1"/><stop offset="0.6936" stop-color="#7dff7a"/><stop offset="0.7630" stop-color="#8dff6a"/><stop offset="0.8382" stop-color="#66ff90"/><stop offset="0.9191" stop-color="#73ff83"/><stop offset="1.0000" stop-color="#63ff94"/></linearGradient><linearGradient id="g136" gradientUnits="userSpaceOnUse" x1="133.5" y1="0" x2="307.5" y2="0"><stop offset="0.0000" stop-color="#9aff5d"/><stop offset="0.0230" stop-color="#97ff60"/><stop offset="0.0747" stop-color="#4dffaa"/><stop offset="0.1379" stop-color="#0ff8e7"/><stop offset="0.1609" stop-color="#00d4ff"/><stop offset="0.1954" stop-color="#00a8ff"/><stop offset="0.2874" stop-color="#0088ff"/><stop offset="0.3793" stop-color="#007cff"/><stop offset="0.4368" stop-color="#0088ff"/><stop offset="0.5230" stop-color="#00b4ff"/><stop offset="0.5632" stop-color="#00e0fb"/><stop offset="0.5920" stop-color="#19ffde"/><stop offset="0.6954" stop-color="#7dff7a"/><stop offset="0.7529" stop-color="#8aff6d"/><stop offset="0.8276" stop-color="#63ff94"/><stop offset="0.9138" stop-color="#70ff87"/><stop offset="1.0000" stop-color="#63ff94"/></linearGradient><linearGradient id="g137" gradientUnits="userSpaceOnUse" x1="133.5" y1="0" x2="308.5" y2="0"><stop offset="0.0000" stop-color="#90ff66"/><stop offset="0.0229" stop-color="#94ff63"/><stop offset="0.0800" stop-color="#49ffad"/><stop offset="0.1371" stop-color="#0ff8e7"/><stop offset="0.1600" stop-color="#00d4ff"/><stop offset="0.2000" stop-color="#00a4ff"/><stop offset="0.2800" stop-color="#0088ff"/><stop offset="0.3714" stop-color="#0078ff"/><stop offset="0.4343" stop-color="#0084ff"/><stop offset="0.5143" stop-color="#00a4ff"/><stop offset="0.5714" stop-color="#00e0fb"/><stop offset="0.6000" stop-color="#19ffde"/><stop offset="0.7029" stop-color="#80ff77"/><stop offset="0.7486" stop-color="#87ff70"/><stop offset="0.8229" stop-color="#60ff97"/><stop offset="0.9200" stop-color="#6dff8a"/><stop offset="1.0000" stop-color="#63ff94"/></linearGradient><linearGradient id="g138" gradientUnits="userSpaceOnUse" x1="133.5" y1="0" x2="309.5" y2="0"><stop offset="0.0000" stop-color="#87ff70"/><stop offset="0.0227" stop-color="#94ff63"/><stop offset="0.0966" stop-color="#36ffc1"/><stop offset="0.1364" stop-color="#13fce4"/><stop offset="0.1534" stop-color="#00e0fb"/><stop offset="0.1932" stop-color="#00a8ff"/><stop offset="0.2841" stop-color="#0084ff"/><stop offset="0.3636" stop-color="#0074ff"/><stop offset="0.4375" stop-color="#0080ff"/><stop offset="0.5227" stop-color="#00a4ff"/><stop offset="0.5795" stop-color="#00e0fb"/><stop offset="0.6080" stop-color="#16ffe1"/><stop offset="0.7045" stop-color="#7dff7a"/><stop offset="0.7443" stop-color="#83ff73"/><stop offset="0.8182" stop-color="#5dff9a"/><stop offset="0.9205" stop-color="#6aff8d"/><stop offset="1.0000" stop-color="#63ff94"/></linearGradient><linearGradient id="g139" gradientUnits="userSpaceOnUse" x1="133.5" y1="0" x2="311.5" y2="0"><stop offset="0.0000" stop-color="#80ff77"/><stop offset="0.0169" stop-color="#94ff63"/><stop offset="0.1180" stop-color="#23ffd4"/><stop offset="0.1404" stop-color="#0cf4eb"/><stop offset="0.1573" stop-color="#00d8ff"/><stop offset="0.1910" stop-color="#00a8ff"/><stop offset="0.2809" stop-color="#0080ff"/><stop offset="0.3596" stop-color="#0070ff"/><stop offset="0.4382" stop-color="#007cff"/><stop offset="0.5281" stop-color="#00a0ff"/><stop offset="0.5843" stop-color="#00dcfe"/><stop offset="0.6180" stop-color="#1cffdb"/><stop offset="0.7079" stop-color="#80ff77"/><stop offset="0.7472" stop-color="#7dff7a"/><stop offset="0.8090" stop-color="#56ffa0"/><stop offset="0.8933" stop-color="#66ff90"/><stop offset="1.0000" stop-color="#63ff94"/></linearGradient><linearGradient id="g140" gradientUnits="userSpaceOnUse" x1="133.5" y1="0" x2="312.5" y2="0"><stop offset="0.0000" stop-color="#80ff77"/><stop offset="0.0223" stop-color="#90ff66"/><stop offset="0.1061" stop-color="#2cffca"/><stop offset="0.1341" stop-color="#13fce4"/><stop offset="0.1564" stop-color="#00d8ff"/><stop offset="0.1955" stop-color="#00a0ff"/><stop offset="0.3352" stop-color="#006cff"/><stop offset="0.4469" stop-color="#0078ff"/><stop offset="0.5363" stop-color="#00a0ff"/><stop offset="0.5978" stop-color="#00e0fb"/><stop offset="0.6201" stop-color="#16ffe1"/><stop offset="0.7039" stop-color="#7aff7d"/><stop offset="0.7374" stop-color="#7dff7a"/><stop offset="0.8045" stop-color="#53ffa4"/><stop offset="0.8883" stop-color="#63ff94"/><stop offset="1.0000" stop-color="#60ff97"/></linearGradient><linearGradient id="g141" gradientUnits="userSpaceOnUse" x1="133.5" y1="0" x2="314.5" y2="0"><stop offset="0.0000" stop-color="#80ff77"/><stop offset="0.0221" stop-color="#8dff6a"/><stop offset="0.1160" stop-color="#23ffd4"/><stop offset="0.1381" stop-color="#0cf4eb"/><stop offset="0.1547" stop-color="#00d8ff"/><stop offset="0.1934" stop-color="#00a0ff"/><stop offset="0.2928" stop-color="#0074ff"/><stop offset="0.3591" stop-color="#0068ff"/><stop offset="0.4586" stop-color="#0078ff"/><stop offset="0.5359" stop-color="#0098ff"/><stop offset="0.5746" stop-color="#00bcff"/><stop offset="0.6022" stop-color="#00e4f8"/><stop offset="0.6298" stop-color="#1fffd7"/><stop offset="0.7017" stop-color="#7aff7d"/><stop offset="0.7348" stop-color="#77ff80"/><stop offset="0.7956" stop-color="#50ffa7"/><stop offset="0.8785" stop-color="#60ff97"/><stop offset="1.0000" stop-color="#60ff97"/></linearGradient><linearGradient id="g142" gradientUnits="userSpaceOnUse" x1="134.5" y1="0" x2="315.5" y2="0"><stop offset="0.0000" stop-color="#87ff70"/><stop offset="0.0221" stop-color="#8aff6d"/><stop offset="0.0994" stop-color="#2cffca"/><stop offset="0.1271" stop-color="#13fce4"/><stop offset="0.1492" stop-color="#00dcfe"/><stop offset="0.1823" stop-color="#00a4ff"/><stop offset="0.2873" stop-color="#0070ff"/><stop offset="0.3536" stop-color="#0064ff"/><stop offset="0.4696" stop-color="#0078ff"/><stop offset="0.5470" stop-color="#0094ff"/><stop offset="0.6022" stop-color="#00dcfe"/><stop offset="0.6243" stop-color="#16ffe1"/><stop offset="0.7017" stop-color="#77ff80"/><stop offset="0.7293" stop-color="#70ff87"/><stop offset="0.7956" stop-color="#4dffaa"/><stop offset="0.8895" stop-color="#60ff97"/><stop offset="1.0000" stop-color="#5aff9d"/></linearGradient><linearGradient id="g143" gradientUnits="userSpaceOnUse" x1="134.5" y1="0" x2="316.5" y2="0"><stop offset="0.0000" stop-color="#87ff70"/><stop offset="0.0165" stop-color="#8dff6a"/><stop offset="0.1099" stop-color="#23ffd4"/><stop offset="0.1319" stop-color="#0ff8e7"/><stop offset="0.1484" stop-color="#00dcfe"/><stop offset="0.1813" stop-color="#00a4ff"/><stop offset="0.2692" stop-color="#0070ff"/><stop offset="0.3407" stop-color="#0060ff"/><stop offset="0.4615" stop-color="#0070ff"/><stop offset="0.5495" stop-color="#008cff"/><stop offset="0.5824" stop-color="#00b4ff"/><stop offset="0.6099" stop-color="#00e0fb"/><stop offset="0.6319" stop-color="#19ffde"/><stop offset="0.7033" stop-color="#73ff83"/><stop offset="0.7912" stop-color="#49ffad"/><stop offset="0.8846" stop-color="#5dff9a"/><stop offset="1.0000" stop-color="#53ffa4"/></linearGradient><linearGradient id="g144" gradientUnits="userSpaceOnUse" x1="134.5" y1="0" x2="318.5" y2="0"><stop offset="0.0000" stop-color="#8aff6d"/><stop offset="0.0272" stop-color="#80ff77"/><stop offset="0.1087" stop-color="#23ffd4"/><stop offset="0.1304" stop-color="#0ff8e7"/><stop offset="0.1467" stop-color="#00dcfe"/><stop offset="0.1902" stop-color="#0098ff"/><stop offset="0.2826" stop-color="#0068ff"/><stop offset="0.3696" stop-color="#0060ff"/><stop offset="0.4620" stop-color="#006cff"/><stop offset="0.5489" stop-color="#007cff"/><stop offset="0.6087" stop-color="#00dcfe"/><stop offset="0.6304" stop-color="#16ffe1"/><stop offset="0.6957" stop-color="#6aff8d"/><stop offset="0.7228" stop-color="#63ff94"/><stop offset="0.7826" stop-color="#43ffb4"/><stop offset="0.8696" stop-color="#5aff9d"/><stop offset="0.9837" stop-color="#53ffa4"/><stop offset="1.0000" stop-color="#46ffb1"/></linearGradient><linearGradient id="g145" gradientUnits="userSpaceOnUse" x1="134.5" y1="0" x2="319.5" y2="0"><stop offset="0.0000" stop-color="#8aff6d"/><stop offset="0.0270" stop-color="#80ff77"/><stop offset="0.1081" stop-color="#23ffd4"/><stop offset="0.1297" stop-color="#0ff8e7"/><stop offset="0.1514" stop-color="#00d4ff"/><stop offset="0.1838" stop-color="#009cff"/><stop offset="0.2703" stop-color="#0068ff"/><stop offset="0.3459" stop-color="#005cff"/><stop offset="0.4703" stop-color="#0068ff"/><stop offset="0.5243" stop-color="#0068ff"/><stop offset="0.5405" stop-color="#0068ff"/><stop offset="0.5622" stop-color="#0080ff"/><stop offset="0.6162" stop-color="#00e0fb"/><stop offset="0.6378" stop-color="#19ffde"/><stop offset="0.6919" stop-color="#5dff9a"/><stop offset="0.7135" stop-color="#60ff97"/><stop offset="0.7784" stop-color="#40ffb7"/><stop offset="0.8649" stop-color="#56ffa0"/><stop offset="0.9730" stop-color="#53ffa4"/><stop offset="1.0000" stop-color="#43ffb4"/></linearGradient><linearGradient id="g146" gradientUnits="userSpaceOnUse" x1="134.5" y1="0" x2="321.5" y2="0"><stop offset="0.0000" stop-color="#8aff6d"/><stop offset="0.0267" stop-color="#80ff77"/><stop offset="0.1070" stop-color="#23ffd4"/><stop offset="0.1283" stop-color="#0ff8e7"/><stop offset="0.1497" stop-color="#00d4ff"/><stop offset="0.1818" stop-color="#009cff"/><stop offset="0.2567" stop-color="#0068ff"/><stop offset="0.3316" stop-color="#0058ff"/><stop offset="0.4973" stop-color="#0060ff"/><stop offset="0.5348" stop-color="#0054ff"/><stop offset="0.5829" stop-color="#00a0ff"/><stop offset="0.6150" stop-color="#00d8ff"/><stop offset="0.6417" stop-color="#19ffde"/><stop offset="0.6898" stop-color="#56ffa0"/><stop offset="0.7380" stop-color="#49ffad"/><stop offset="0.7754" stop-color="#3cffba"/><stop offset="0.8503" stop-color="#53ffa4"/><stop offset="0.9465" stop-color="#56ffa0"/><stop offset="1.0000" stop-color="#43ffb4"/></linearGradient><linearGradient id="g147" gradientUnits="userSpaceOnUse" x1="135.5" y1="0" x2="322.5" y2="0"><stop offset="0.0000" stop-color="#8aff6d"/><stop offset="0.0321" stop-color="#73ff83"/><stop offset="0.1016" stop-color="#23ffd4"/><stop offset="0.1230" stop-color="#0ff8e7"/><stop offset="0.1444" stop-color="#00d4ff"/><stop offset="0.1818" stop-color="#0094ff"/><stop offset="0.2620" stop-color="#0060ff"/><stop offset="0.3422" stop-color="#0054ff"/><stop offset="0.4813" stop-color="#0058ff"/><stop offset="0.5294" stop-color="#0048ff"/><stop offset="0.5508" stop-color="#0064ff"/><stop offset="0.6203" stop-color="#00dcfe"/><stop offset="0.6417" stop-color="#16ffe1"/><stop offset="0.6845" stop-color="#49ffad"/><stop offset="0.7326" stop-color="#43ffb4"/><stop offset="0.7701" stop-color="#39ffbe"/><stop offset="0.8663" stop-color="#53ffa4"/><stop offset="0.9465" stop-color="#53ffa4"/><stop offset="1.0000" stop-color="#40ffb7"/></linearGradient><linearGradient id="g148" gradientUnits="userSpaceOnUse" x1="135.5" y1="0" x2="323.5" y2="0"><stop offset="0.0000" stop-color="#8aff6d"/><stop offset="0.0319" stop-color="#73ff83"/><stop offset="0.1011" stop-color="#23ffd4"/><stop offset="0.1223" stop-color="#0ff8e7"/><stop offset="0.1436" stop-color="#00d4ff"/><stop offset="0.1809" stop-color="#0094ff"/><stop offset="0.2500" stop-color="#0060ff"/><stop offset="0.3457" stop-color="#0050ff"/><stop offset="0.4681" stop-color="#0054ff"/><stop offset="0.5266" stop-color="#003cff"/><stop offset="0.6277" stop-color="#00dcfe"/><stop offset="0.6489" stop-color="#16ffe1"/><stop offset="0.6862" stop-color="#40ffb7"/><stop offset="0.7713" stop-color="#36ffc1"/><stop offset="0.8723" stop-color="#53ffa4"/><stop offset="0.9468" stop-color="#50ffa7"/><stop offset="1.0000" stop-color="#40ffb7"/></linearGradient><linearGradient id="g149" gradientUnits="userSpaceOnUse" x1="135.5" y1="0" x2="325.5" y2="0"><stop offset="0.0000" stop-color="#8aff6d"/><stop offset="0.0316" stop-color="#73ff83"/><stop offset="0.1000" stop-color="#23ffd4"/><stop offset="0.1211" stop-color="#0ff8e7"/><stop offset="0.1421" stop-color="#00d4ff"/><stop offset="0.1789" stop-color="#0094ff"/><stop offset="0.2316" stop-color="#0068ff"/><stop offset="0.3000" stop-color="#0050ff"/><stop offset="0.4632" stop-color="#0050ff"/><stop offset="0.5158" stop-color="#0034ff"/><stop offset="0.5368" stop-color="#0048ff"/><stop offset="0.6316" stop-color="#00e0fb"/><stop offset="0.6526" stop-color="#19ffde"/><stop offset="0.6737" stop-color="#33ffc4"/><stop offset="0.7632" stop-color="#33ffc4"/><stop offset="0.8789" stop-color="#53ffa4"/><stop offset="0.9368" stop-color="#50ffa7"/><stop offset="1.0000" stop-color="#3cffba"/></linearGradient><linearGradient id="g150" gradientUnits="userSpaceOnUse" x1="135.5" y1="0" x2="326.5" y2="0"><stop offset="0.0000" stop-color="#8aff6d"/><stop offset="0.0366" stop-color="#6dff8a"/><stop offset="0.0995" stop-color="#23ffd4"/><stop offset="0.1204" stop-color="#0ff8e7"/><stop offset="0.1414" stop-color="#00d4ff"/><stop offset="0.1780" stop-color="#0094ff"/><stop offset="0.2408" stop-color="#005cff"/><stop offset="0.3141" stop-color="#004cff"/><stop offset="0.4607" stop-color="#004cff"/><stop offset="0.5183" stop-color="#0030ff"/><stop offset="0.5812" stop-color="#0084ff"/><stop offset="0.6335" stop-color="#00dcfe"/><stop offset="0.6492" stop-color="#0ff8e7"/><stop offset="0.6702" stop-color="#29ffce"/><stop offset="0.7644" stop-color="#30ffc7"/><stop offset="0.8848" stop-color="#53ffa4"/><stop offset="0.9424" stop-color="#4dffaa"/><stop offset="1.0000" stop-color="#39ffbe"/></linearGradient><linearGradient id="g151" gradientUnits="userSpaceOnUse" x1="135.5" y1="0" x2="328.5" y2="0"><stop offset="0.0000" stop-color="#8aff6d"/><stop offset="0.0363" stop-color="#6dff8a"/><stop offset="0.1036" stop-color="#1cffdb"/><stop offset="0.1192" stop-color="#0cf4eb"/><stop offset="0.1347" stop-color="#00dcfe"/><stop offset="0.1762" stop-color="#0094ff"/><stop offset="0.2332" stop-color="#005cff"/><stop offset="0.2902" stop-color="#004cff"/><stop offset="0.4560" stop-color="#0048ff"/><stop offset="0.5078" stop-color="#002cff"/><stop offset="0.5285" stop-color="#0038ff"/><stop offset="0.5959" stop-color="#0090ff"/><stop offset="0.6321" stop-color="#00d8ff"/><stop offset="0.6528" stop-color="#16ffe1"/><stop offset="0.6788" stop-color="#23ffd4"/><stop offset="0.7513" stop-color="#29ffce"/><stop offset="0.8808" stop-color="#50ffa7"/><stop offset="0.9326" stop-color="#4dffaa"/><stop offset="1.0000" stop-color="#39ffbe"/></linearGradient><linearGradient id="g152" gradientUnits="userSpaceOnUse" x1="135.5" y1="0" x2="329.5" y2="0"><stop offset="0.0000" stop-color="#8aff6d"/><stop offset="0.0464" stop-color="#60ff97"/><stop offset="0.1031" stop-color="#1cffdb"/><stop offset="0.1186" stop-color="#0cf4eb"/><stop offset="0.1340" stop-color="#00dcfe"/><stop offset="0.1649" stop-color="#00a0ff"/><stop offset="0.2268" stop-color="#0060ff"/><stop offset="0.2732" stop-color="#0048ff"/><stop offset="0.4536" stop-color="#0044ff"/><stop offset="0.5052" stop-color="#0028ff"/><stop offset="0.5412" stop-color="#003cff"/><stop offset="0.5876" stop-color="#0074ff"/><stop offset="0.6392" stop-color="#00e0fb"/><stop offset="0.6598" stop-color="#16ffe1"/><stop offset="0.7577" stop-color="#29ffce"/><stop offset="0.8866" stop-color="#50ffa7"/><stop offset="0.9278" stop-color="#4dffaa"/><stop offset="1.0000" stop-color="#39ffbe"/></linearGradient><linearGradient id="g153" gradientUnits="userSpaceOnUse" x1="136.5" y1="0" x2="330.5" y2="0"><stop offset="0.0000" stop-color="#87ff70"/><stop offset="0.0515" stop-color="#53ffa4"/><stop offset="0.1082" stop-color="#13fce4"/><stop offset="0.1289" stop-color="#00d8ff"/><stop offset="0.1701" stop-color="#0094ff"/><stop offset="0.2320" stop-color="#0054ff"/><stop offset="0.2835" stop-color="#0044ff"/><stop offset="0.4227" stop-color="#0044ff"/><stop offset="0.4536" stop-color="#003cff"/><stop offset="0.5052" stop-color="#0024ff"/><stop offset="0.5412" stop-color="#0038ff"/><stop offset="0.5773" stop-color="#005cff"/><stop offset="0.6289" stop-color="#00c8ff"/><stop offset="0.6392" stop-color="#00dcfe"/><stop offset="0.6598" stop-color="#0ff8e7"/><stop offset="0.7474" stop-color="#23ffd4"/><stop offset="0.8866" stop-color="#4dffaa"/><stop offset="0.9278" stop-color="#49ffad"/><stop offset="1.0000" stop-color="#39ffbe"/></linearGradient><linearGradient id="g154" gradientUnits="userSpaceOnUse" x1="136.5" y1="0" x2="332.5" y2="0"><stop offset="0.0000" stop-color="#87ff70"/><stop offset="0.0663" stop-color="#3cffba"/><stop offset="0.1071" stop-color="#0ff8e7"/><stop offset="0.1276" stop-color="#00d8ff"/><stop offset="0.1684" stop-color="#0094ff"/><stop offset="0.2347" stop-color="#004cff"/><stop offset="0.3265" stop-color="#0040ff"/><stop offset="0.4388" stop-color="#0040ff"/><stop offset="0.5051" stop-color="#0020ff"/><stop offset="0.5663" stop-color="#0044ff"/><stop offset="0.6071" stop-color="#0094ff"/><stop offset="0.6429" stop-color="#00e0fb"/><stop offset="0.6735" stop-color="#0cf4eb"/><stop offset="0.7653" stop-color="#29ffce"/><stop offset="0.9031" stop-color="#4dffaa"/><stop offset="1.0000" stop-color="#39ffbe"/></linearGradient><linearGradient id="g155" gradientUnits="userSpaceOnUse" x1="136.5" y1="0" x2="333.5" y2="0"><stop offset="0.0000" stop-color="#83ff73"/><stop offset="0.0660" stop-color="#3cffba"/><stop offset="0.1066" stop-color="#0ff8e7"/><stop offset="0.1269" stop-color="#00d8ff"/><stop offset="0.1675" stop-color="#0094ff"/><stop offset="0.2386" stop-color="#0048ff"/><stop offset="0.2995" stop-color="#0040ff"/><stop offset="0.4365" stop-color="#003cff"/><stop offset="0.4975" stop-color="#0020ff"/><stop offset="0.5584" stop-color="#0038ff"/><stop offset="0.5838" stop-color="#0058ff"/><stop offset="0.6396" stop-color="#00d4ff"/><stop offset="0.7005" stop-color="#0cf4eb"/><stop offset="0.7563" stop-color="#23ffd4"/><stop offset="0.9086" stop-color="#4dffaa"/><stop offset="0.9949" stop-color="#39ffbe"/><stop offset="1.0000" stop-color="#39ffbe"/></linearGradient><linearGradient id="g156" gradientUnits="userSpaceOnUse" x1="136.5" y1="0" x2="335.5" y2="0"><stop offset="0.0000" stop-color="#7aff7d"/><stop offset="0.0352" stop-color="#60ff97"/><stop offset="0.1005" stop-color="#13fce4"/><stop offset="0.1206" stop-color="#00dcfe"/><stop offset="0.1658" stop-color="#0094ff"/><stop offset="0.2412" stop-color="#0040ff"/><stop offset="0.4322" stop-color="#0038ff"/><stop offset="0.5025" stop-color="#001cff"/><stop offset="0.5678" stop-color="#003cff"/><stop offset="0.6382" stop-color="#00ccff"/><stop offset="0.6935" stop-color="#06ecf1"/><stop offset="0.7387" stop-color="#19ffde"/><stop offset="0.9045" stop-color="#4dffaa"/><stop offset="0.9899" stop-color="#36ffc1"/><stop offset="1.0000" stop-color="#39ffbe"/></linearGradient><linearGradient id="g157" gradientUnits="userSpaceOnUse" x1="136.5" y1="0" x2="336.5" y2="0"><stop offset="0.0000" stop-color="#70ff87"/><stop offset="0.0350" stop-color="#60ff97"/><stop offset="0.1000" stop-color="#13fce4"/><stop offset="0.1200" stop-color="#00dcfe"/><stop offset="0.1650" stop-color="#0094ff"/><stop offset="0.2400" stop-color="#0040ff"/><stop offset="0.3400" stop-color="#0038ff"/><stop offset="0.4350" stop-color="#0034ff"/><stop offset="0.4950" stop-color="#001cff"/><stop offset="0.5600" stop-color="#0030ff"/><stop offset="0.6050" stop-color="#0084ff"/><stop offset="0.6350" stop-color="#00bcff"/><stop offset="0.6850" stop-color="#00e4f8"/><stop offset="0.7400" stop-color="#19ffde"/><stop offset="0.9100" stop-color="#4dffaa"/><stop offset="0.9800" stop-color="#33ffc4"/><stop offset="1.0000" stop-color="#36ffc1"/></linearGradient><linearGradient id="g158" gradientUnits="userSpaceOnUse" x1="137.5" y1="0" x2="337.5" y2="0"><stop offset="0.0000" stop-color="#60ff97"/><stop offset="0.0200" stop-color="#66ff90"/><stop offset="0.0900" stop-color="#16ffe1"/><stop offset="0.1100" stop-color="#00e0fb"/><stop offset="0.1700" stop-color="#0088ff"/><stop offset="0.2350" stop-color="#003cff"/><stop offset="0.4350" stop-color="#0030ff"/><stop offset="0.4950" stop-color="#0018ff"/><stop offset="0.5550" stop-color="#002cff"/><stop offset="0.5950" stop-color="#006cff"/><stop offset="0.6350" stop-color="#00b4ff"/><stop offset="0.6900" stop-color="#00e4f8"/><stop offset="0.7450" stop-color="#19ffde"/><stop offset="0.9100" stop-color="#49ffad"/><stop offset="0.9750" stop-color="#30ffc7"/><stop offset="1.0000" stop-color="#36ffc1"/></linearGradient><linearGradient id="g159" gradientUnits="userSpaceOnUse" x1="137.5" y1="0" x2="339.5" y2="0"><stop offset="0.0000" stop-color="#5aff9d"/><stop offset="0.0198" stop-color="#66ff90"/><stop offset="0.0891" stop-color="#16ffe1"/><stop offset="0.1089" stop-color="#00e0fb"/><stop offset="0.1683" stop-color="#0088ff"/><stop offset="0.2376" stop-color="#0038ff"/><stop offset="0.4356" stop-color="#002cff"/><stop offset="0.4901" stop-color="#0018ff"/><stop offset="0.5545" stop-color="#0028ff"/><stop offset="0.6436" stop-color="#00b8ff"/><stop offset="0.6881" stop-color="#00e4f8"/><stop offset="0.7525" stop-color="#19ffde"/><stop offset="0.9010" stop-color="#49ffad"/><stop offset="0.9604" stop-color="#2cffca"/><stop offset="1.0000" stop-color="#33ffc4"/></linearGradient><linearGradient id="g160" gradientUnits="userSpaceOnUse" x1="137.5" y1="0" x2="340.5" y2="0"><stop offset="0.0000" stop-color="#56ffa0"/><stop offset="0.0197" stop-color="#63ff94"/><stop offset="0.0887" stop-color="#13fce4"/><stop offset="0.1084" stop-color="#00dcfe"/><stop offset="0.1921" stop-color="#0068ff"/><stop offset="0.2414" stop-color="#0034ff"/><stop offset="0.4286" stop-color="#002cff"/><stop offset="0.4828" stop-color="#0018ff"/><stop offset="0.5517" stop-color="#0024ff"/><stop offset="0.6010" stop-color="#0068ff"/><stop offset="0.6453" stop-color="#00b0ff"/><stop offset="0.6946" stop-color="#00e4f8"/><stop offset="0.7635" stop-color="#19ffde"/><stop offset="0.8966" stop-color="#46ffb1"/><stop offset="0.9557" stop-color="#29ffce"/><stop offset="0.9951" stop-color="#2cffca"/><stop offset="1.0000" stop-color="#26ffd1"/></linearGradient><linearGradient id="g161" gradientUnits="userSpaceOnUse" x1="137.5" y1="0" x2="342.5" y2="0"><stop offset="0.0000" stop-color="#5aff9d"/><stop offset="0.0244" stop-color="#60ff97"/><stop offset="0.0878" stop-color="#13fce4"/><stop offset="0.1073" stop-color="#00dcfe"/><stop offset="0.1805" stop-color="#0074ff"/><stop offset="0.2341" stop-color="#0034ff"/><stop offset="0.3902" stop-color="#002cff"/><stop offset="0.4390" stop-color="#0024ff"/><stop offset="0.4878" stop-color="#0014ff"/><stop offset="0.5512" stop-color="#0024ff"/><stop offset="0.6000" stop-color="#0060ff"/><stop offset="0.6683" stop-color="#00c8ff"/><stop offset="0.7024" stop-color="#00e4f8"/><stop offset="0.7659" stop-color="#19ffde"/><stop offset="0.8927" stop-color="#40ffb7"/><stop offset="0.9415" stop-color="#26ffd1"/><stop offset="0.9902" stop-color="#1fffd7"/><stop offset="1.0000" stop-color="#0ff8e7"/></linearGradient><linearGradient id="g162" gradientUnits="userSpaceOnUse" x1="137.5" y1="0" x2="343.5" y2="0"><stop offset="0.0000" stop-color="#5aff9d"/><stop offset="0.0243" stop-color="#5dff9a"/><stop offset="0.0874" stop-color="#0ff8e7"/><stop offset="0.1068" stop-color="#00d8ff"/><stop offset="0.2136" stop-color="#0048ff"/><stop offset="0.2476" stop-color="#002cff"/><stop offset="0.4320" stop-color="#0024ff"/><stop offset="0.4854" stop-color="#0014ff"/><stop offset="0.5534" stop-color="#0024ff"/><stop offset="0.5971" stop-color="#0050ff"/><stop offset="0.6796" stop-color="#00ccff"/><stop offset="0.7330" stop-color="#09f0ee"/><stop offset="0.7767" stop-color="#19ffde"/><stop offset="0.8835" stop-color="#3cffba"/><stop offset="0.9417" stop-color="#23ffd4"/><stop offset="0.9806" stop-color="#1fffd7"/><stop offset="1.0000" stop-color="#0cf4eb"/></linearGradient><linearGradient id="g163" gradientUnits="userSpaceOnUse" x1="137.5" y1="0" x2="344.5" y2="0"><stop offset="0.0000" stop-color="#5aff9d"/><stop offset="0.0242" stop-color="#5dff9a"/><stop offset="0.0870" stop-color="#0ff8e7"/><stop offset="0.1063" stop-color="#00d8ff"/><stop offset="0.1932" stop-color="#0060ff"/><stop offset="0.2415" stop-color="#002cff"/><stop offset="0.4106" stop-color="#0028ff"/><stop offset="0.4783" stop-color="#0014ff"/><stop offset="0.5507" stop-color="#0020ff"/><stop offset="0.6039" stop-color="#004cff"/><stop offset="0.6812" stop-color="#00c8ff"/><stop offset="0.7198" stop-color="#00e4f8"/><stop offset="0.7729" stop-color="#16ffe1"/><stop offset="0.8792" stop-color="#39ffbe"/><stop offset="0.9372" stop-color="#1fffd7"/><stop offset="0.9807" stop-color="#19ffde"/><stop offset="1.0000" stop-color="#09f0ee"/></linearGradient><linearGradient id="g164" gradientUnits="userSpaceOnUse" x1="138.5" y1="0" x2="346.5" y2="0"><stop offset="0.0000" stop-color="#5aff9d"/><stop offset="0.0240" stop-color="#56ffa0"/><stop offset="0.0769" stop-color="#13fce4"/><stop offset="0.0962" stop-color="#00dcfe"/><stop offset="0.2067" stop-color="#0048ff"/><stop offset="0.2404" stop-color="#0028ff"/><stop offset="0.4279" stop-color="#0020ff"/><stop offset="0.4615" stop-color="#0014ff"/><stop offset="0.5385" stop-color="#001cff"/><stop offset="0.5962" stop-color="#0040ff"/><stop offset="0.6731" stop-color="#00bcff"/><stop offset="0.7260" stop-color="#02e8f4"/><stop offset="0.7740" stop-color="#19ffde"/><stop offset="0.8750" stop-color="#33ffc4"/><stop offset="0.9279" stop-color="#1cffdb"/><stop offset="0.9856" stop-color="#0ff8e7"/><stop offset="1.0000" stop-color="#09f0ee"/></linearGradient><linearGradient id="g165" gradientUnits="userSpaceOnUse" x1="138.5" y1="0" x2="347.5" y2="0"><stop offset="0.0000" stop-color="#5aff9d"/><stop offset="0.0191" stop-color="#5aff9d"/><stop offset="0.0766" stop-color="#13fce4"/><stop offset="0.0957" stop-color="#00dcfe"/><stop offset="0.2010" stop-color="#004cff"/><stop offset="0.2344" stop-color="#0028ff"/><stop offset="0.3971" stop-color="#0020ff"/><stop offset="0.4402" stop-color="#0018ff"/><stop offset="0.4689" stop-color="#0010ff"/><stop offset="0.5502" stop-color="#0020ff"/><stop offset="0.5981" stop-color="#003cff"/><stop offset="0.6842" stop-color="#00c0ff"/><stop offset="0.7225" stop-color="#00e4f8"/><stop offset="0.7751" stop-color="#16ffe1"/><stop offset="0.8469" stop-color="#2cffca"/><stop offset="0.8804" stop-color="#29ffce"/><stop offset="0.9330" stop-color="#19ffde"/><stop offset="0.9809" stop-color="#0ff8e7"/><stop offset="1.0000" stop-color="#09f0ee"/></linearGradient><linearGradient id="g166" gradientUnits="userSpaceOnUse" x1="138.5" y1="0" x2="348.5" y2="0"><stop offset="0.0000" stop-color="#5aff9d"/><stop offset="0.0238" stop-color="#53ffa4"/><stop offset="0.0762" stop-color="#0ff8e7"/><stop offset="0.0952" stop-color="#00d8ff"/><stop offset="0.2238" stop-color="#0030ff"/><stop offset="0.2714" stop-color="#0020ff"/><stop offset="0.4238" stop-color="#001cff"/><stop offset="0.4714" stop-color="#0010ff"/><stop offset="0.5381" stop-color="#0018ff"/><stop offset="0.5952" stop-color="#0034ff"/><stop offset="0.6857" stop-color="#00b8ff"/><stop offset="0.7286" stop-color="#00e4f8"/><stop offset="0.7762" stop-color="#16ffe1"/><stop offset="0.8095" stop-color="#19ffde"/><stop offset="0.8667" stop-color="#2cffca"/><stop offset="0.9286" stop-color="#16ffe1"/><stop offset="0.9905" stop-color="#0cf4eb"/><stop offset="1.0000" stop-color="#09f0ee"/></linearGradient><linearGradient id="g167" gradientUnits="userSpaceOnUse" x1="138.5" y1="0" x2="350.5" y2="0"><stop offset="0.0000" stop-color="#5aff9d"/><stop offset="0.0236" stop-color="#53ffa4"/><stop offset="0.0755" stop-color="#0ff8e7"/><stop offset="0.0943" stop-color="#00d8ff"/><stop offset="0.1981" stop-color="#004cff"/><stop offset="0.2358" stop-color="#0024ff"/><stop offset="0.3726" stop-color="#0018ff"/><stop offset="0.4245" stop-color="#0018ff"/><stop offset="0.4811" stop-color="#0010ff"/><stop offset="0.5377" stop-color="#0014ff"/><stop offset="0.5943" stop-color="#0034ff"/><stop offset="0.7075" stop-color="#00d0ff"/><stop offset="0.7500" stop-color="#0cf4eb"/><stop offset="0.7877" stop-color="#0ff8e7"/><stop offset="0.8538" stop-color="#29ffce"/><stop offset="0.9151" stop-color="#16ffe1"/><stop offset="1.0000" stop-color="#09f0ee"/></linearGradient><linearGradient id="g168" gradientUnits="userSpaceOnUse" x1="138.5" y1="0" x2="351.5" y2="0"><stop offset="0.0000" stop-color="#5aff9d"/><stop offset="0.0329" stop-color="#46ffb1"/><stop offset="0.0704" stop-color="#13fce4"/><stop offset="0.0892" stop-color="#00e0fb"/><stop offset="0.2019" stop-color="#0044ff"/><stop offset="0.2394" stop-color="#0020ff"/><stop offset="0.3756" stop-color="#0018ff"/><stop offset="0.4225" stop-color="#0018ff"/><stop offset="0.4601" stop-color="#0010ff"/><stop offset="0.5352" stop-color="#0010ff"/><stop offset="0.5915" stop-color="#002cff"/><stop offset="0.7277" stop-color="#00e0fb"/><stop offset="0.7606" stop-color="#0cf4eb"/><stop offset="0.8028" stop-color="#13fce4"/><stop offset="0.8545" stop-color="#23ffd4"/><stop offset="0.9531" stop-color="#0ff8e7"/><stop offset="1.0000" stop-color="#09f0ee"/></linearGradient><linearGradient id="g169" gradientUnits="userSpaceOnUse" x1="139.5" y1="0" x2="353.5" y2="0"><stop offset="0.0000" stop-color="#5aff9d"/><stop offset="0.0280" stop-color="#43ffb4"/><stop offset="0.0654" stop-color="#13fce4"/><stop offset="0.0841" stop-color="#00dcfe"/><stop offset="0.2196" stop-color="#0028ff"/><stop offset="0.2804" stop-color="#0018ff"/><stop offset="0.4206" stop-color="#0014ff"/><stop offset="0.4486" stop-color="#000cff"/><stop offset="0.5047" stop-color="#000cff"/><stop offset="0.5280" stop-color="#000cff"/><stop offset="0.5981" stop-color="#0034ff"/><stop offset="0.7290" stop-color="#00e0fb"/><stop offset="0.7570" stop-color="#09f0ee"/><stop offset="0.7944" stop-color="#0ff8e7"/><stop offset="0.8505" stop-color="#1fffd7"/><stop offset="0.9953" stop-color="#06ecf1"/><stop offset="1.0000" stop-color="#09f0ee"/></linearGradient><linearGradient id="g170" gradientUnits="userSpaceOnUse" x1="139.5" y1="0" x2="354.5" y2="0"><stop offset="0.0000" stop-color="#5aff9d"/><stop offset="0.0326" stop-color="#3cffba"/><stop offset="0.0651" stop-color="#0ff8e7"/><stop offset="0.0837" stop-color="#00dcfe"/><stop offset="0.1767" stop-color="#005cff"/><stop offset="0.2279" stop-color="#0020ff"/><stop offset="0.3674" stop-color="#0010ff"/><stop offset="0.4140" stop-color="#0014ff"/><stop offset="0.4558" stop-color="#000cff"/><stop offset="0.5023" stop-color="#0008ff"/><stop offset="0.5302" stop-color="#0008ff"/><stop offset="0.5721" stop-color="#0020ff"/><stop offset="0.6186" stop-color="#0044ff"/><stop offset="0.7349" stop-color="#00e0fb"/><stop offset="0.7581" stop-color="#06ecf1"/><stop offset="0.7860" stop-color="#09f0ee"/><stop offset="0.8279" stop-color="#19ffde"/><stop offset="0.9721" stop-color="#09f0ee"/><stop offset="1.0000" stop-color="#06ecf1"/></linearGradient><linearGradient id="g171" gradientUnits="userSpaceOnUse" x1="139.5" y1="0" x2="355.5" y2="0"><stop offset="0.0000" stop-color="#5aff9d"/><stop offset="0.0324" stop-color="#39ffbe"/><stop offset="0.0648" stop-color="#0ff8e7"/><stop offset="0.0833" stop-color="#00dcfe"/><stop offset="0.2037" stop-color="#0038ff"/><stop offset="0.2407" stop-color="#0018ff"/><stop offset="0.3796" stop-color="#0010ff"/><stop offset="0.4167" stop-color="#0010ff"/><stop offset="0.4954" stop-color="#0008ff"/><stop offset="0.5231" stop-color="#0000ff"/><stop offset="0.5833" stop-color="#0024ff"/><stop offset="0.6296" stop-color="#0048ff"/><stop offset="0.7407" stop-color="#00e0fb"/><stop offset="0.7870" stop-color="#09f0ee"/><stop offset="0.8380" stop-color="#16ffe1"/><stop offset="1.0000" stop-color="#06ecf1"/></linearGradient><linearGradient id="g172" gradientUnits="userSpaceOnUse" x1="139.5" y1="0" x2="357.5" y2="0"><stop offset="0.0000" stop-color="#5aff9d"/><stop offset="0.0321" stop-color="#39ffbe"/><stop offset="0.0596" stop-color="#13fce4"/><stop offset="0.0826" stop-color="#00dcfe"/><stop offset="0.1284" stop-color="#0098ff"/><stop offset="0.2248" stop-color="#001cff"/><stop offset="0.3716" stop-color="#000cff"/><stop offset="0.4817" stop-color="#0008ff"/><stop offset="0.5275" stop-color="#0000ff"/><stop offset="0.5734" stop-color="#0020ff"/><stop offset="0.6284" stop-color="#0040ff"/><stop offset="0.7294" stop-color="#00ccff"/><stop offset="0.7706" stop-color="#00e4f8"/><stop offset="0.8257" stop-color="#13fce4"/><stop offset="0.8716" stop-color="#0cf4eb"/><stop offset="0.9404" stop-color="#09f0ee"/><stop offset="1.0000" stop-color="#06ecf1"/></linearGradient><linearGradient id="g173" gradientUnits="userSpaceOnUse" x1="139.5" y1="0" x2="358.5" y2="0"><stop offset="0.0000" stop-color="#5aff9d"/><stop offset="0.0228" stop-color="#43ffb4"/><stop offset="0.0594" stop-color="#13fce4"/><stop offset="0.0822" stop-color="#00dcfe"/><stop offset="0.1279" stop-color="#0098ff"/><stop offset="0.1872" stop-color="#0048ff"/><stop offset="0.2283" stop-color="#0018ff"/><stop offset="0.3836" stop-color="#000cff"/><stop offset="0.4795" stop-color="#0004ff"/><stop offset="0.5342" stop-color="#0000ff"/><stop offset="0.5708" stop-color="#001cff"/><stop offset="0.6301" stop-color="#0038ff"/><stop offset="0.7306" stop-color="#00c4ff"/><stop offset="0.7717" stop-color="#00e4f8"/><stop offset="0.8082" stop-color="#0ff8e7"/><stop offset="0.8630" stop-color="#06ecf1"/><stop offset="0.9041" stop-color="#0cf4eb"/><stop offset="0.9909" stop-color="#02e8f4"/><stop offset="1.0000" stop-color="#06ecf1"/></linearGradient><linearGradient id="g174" gradientUnits="userSpaceOnUse" x1="139.5" y1="0" x2="360.5" y2="0"><stop offset="0.0000" stop-color="#5aff9d"/><stop offset="0.0317" stop-color="#36ffc1"/><stop offset="0.0588" stop-color="#0ff8e7"/><stop offset="0.0860" stop-color="#00d8ff"/><stop offset="0.1629" stop-color="#0060ff"/><stop offset="0.2308" stop-color="#0014ff"/><stop offset="0.3348" stop-color="#000cff"/><stop offset="0.4706" stop-color="#0004ff"/><stop offset="0.5385" stop-color="#0004ff"/><stop offset="0.5792" stop-color="#001cff"/><stop offset="0.6244" stop-color="#002cff"/><stop offset="0.7240" stop-color="#00b4ff"/><stop offset="0.7602" stop-color="#00d4ff"/><stop offset="0.7919" stop-color="#0ff8e7"/><stop offset="0.8281" stop-color="#06ecf1"/><stop offset="0.8552" stop-color="#00e4f8"/><stop offset="0.8914" stop-color="#09f0ee"/><stop offset="0.9864" stop-color="#02e8f4"/><stop offset="1.0000" stop-color="#06ecf1"/></linearGradient><linearGradient id="g175" gradientUnits="userSpaceOnUse" x1="140.5" y1="0" x2="361.5" y2="0"><stop offset="0.0000" stop-color="#56ffa0"/><stop offset="0.0543" stop-color="#0ff8e7"/><stop offset="0.0814" stop-color="#00d8ff"/><stop offset="0.1312" stop-color="#0088ff"/><stop offset="0.1584" stop-color="#005cff"/><stop offset="0.2262" stop-color="#0014ff"/><stop offset="0.3891" stop-color="#0008ff"/><stop offset="0.5023" stop-color="#0000fa"/><stop offset="0.5158" stop-color="#0000fa"/><stop offset="0.5475" stop-color="#0008ff"/><stop offset="0.6244" stop-color="#0024ff"/><stop offset="0.7149" stop-color="#00a0ff"/><stop offset="0.7511" stop-color="#00c4ff"/><stop offset="0.7692" stop-color="#00e0fb"/><stop offset="0.7964" stop-color="#0ff8e7"/><stop offset="0.8371" stop-color="#00dcfe"/><stop offset="0.9005" stop-color="#09f0ee"/><stop offset="0.9819" stop-color="#00e0fb"/><stop offset="1.0000" stop-color="#02e8f4"/></linearGradient><linearGradient id="g176" gradientUnits="userSpaceOnUse" x1="140.5" y1="0" x2="362.5" y2="0"><stop offset="0.0000" stop-color="#50ffa7"/><stop offset="0.0541" stop-color="#0ff8e7"/><stop offset="0.0811" stop-color="#00d8ff"/><stop offset="0.1622" stop-color="#0054ff"/><stop offset="0.2252" stop-color="#0014ff"/><stop offset="0.3333" stop-color="#0008ff"/><stop offset="0.4910" stop-color="#0000fa"/><stop offset="0.5135" stop-color="#0000f1"/><stop offset="0.5360" stop-color="#0000ff"/><stop offset="0.6171" stop-color="#0014ff"/><stop offset="0.7117" stop-color="#0090ff"/><stop offset="0.7432" stop-color="#00b0ff"/><stop offset="0.7748" stop-color="#00e4f8"/><stop offset="0.7928" stop-color="#0ff8e7"/><stop offset="0.8288" stop-color="#00d4ff"/><stop offset="0.8649" stop-color="#00e0fb"/><stop offset="0.9099" stop-color="#06ecf1"/><stop offset="0.9865" stop-color="#00e0fb"/><stop offset="1.0000" stop-color="#00e0fb"/></linearGradient><linearGradient id="g177" gradientUnits="userSpaceOnUse" x1="140.5" y1="0" x2="364.5" y2="0"><stop offset="0.0000" stop-color="#46ffb1"/><stop offset="0.0312" stop-color="#2cffca"/><stop offset="0.0580" stop-color="#0cf4eb"/><stop offset="0.0804" stop-color="#00d8ff"/><stop offset="0.1518" stop-color="#005cff"/><stop offset="0.2232" stop-color="#0010ff"/><stop offset="0.3125" stop-color="#000cff"/><stop offset="0.3795" stop-color="#0004ff"/><stop offset="0.4821" stop-color="#0000fa"/><stop offset="0.5089" stop-color="#0000ed"/><stop offset="0.5357" stop-color="#0000ff"/><stop offset="0.6071" stop-color="#0008ff"/><stop offset="0.6607" stop-color="#0048ff"/><stop offset="0.7143" stop-color="#0088ff"/><stop offset="0.7455" stop-color="#00b0ff"/><stop offset="0.7723" stop-color="#00e4f8"/><stop offset="0.7857" stop-color="#0cf4eb"/><stop offset="0.8080" stop-color="#00dcfe"/><stop offset="0.8304" stop-color="#00c8ff"/><stop offset="0.8795" stop-color="#00e4f8"/><stop offset="0.9420" stop-color="#00e4f8"/><stop offset="0.9911" stop-color="#00d8ff"/><stop offset="1.0000" stop-color="#00c4ff"/></linearGradient><linearGradient id="g178" gradientUnits="userSpaceOnUse" x1="140.5" y1="0" x2="365.5" y2="0"><stop offset="0.0000" stop-color="#39ffbe"/><stop offset="0.0133" stop-color="#36ffc1"/><stop offset="0.0267" stop-color="#33ffc4"/><stop offset="0.0578" stop-color="#0cf4eb"/><stop offset="0.0800" stop-color="#00d8ff"/><stop offset="0.1600" stop-color="#004cff"/><stop offset="0.2311" stop-color="#000cff"/><stop offset="0.3111" stop-color="#000cff"/><stop offset="0.3511" stop-color="#0000ff"/><stop offset="0.4711" stop-color="#0000fa"/><stop offset="0.5067" stop-color="#0000e8"/><stop offset="0.5467" stop-color="#0000ff"/><stop offset="0.6133" stop-color="#0004ff"/><stop offset="0.7067" stop-color="#0074ff"/><stop offset="0.7378" stop-color="#009cff"/><stop offset="0.7733" stop-color="#00e4f8"/><stop offset="0.7822" stop-color="#06ecf1"/><stop offset="0.8089" stop-color="#00ccff"/><stop offset="0.8311" stop-color="#00c4ff"/><stop offset="0.8933" stop-color="#00e4f8"/><stop offset="0.9600" stop-color="#00dcfe"/><stop offset="0.9867" stop-color="#00d0ff"/><stop offset="1.0000" stop-color="#00b8ff"/></linearGradient><linearGradient id="g179" gradientUnits="userSpaceOnUse" x1="140.5" y1="0" x2="367.5" y2="0"><stop offset="0.0000" stop-color="#30ffc7"/><stop offset="0.0132" stop-color="#33ffc4"/><stop offset="0.0264" stop-color="#30ffc7"/><stop offset="0.0573" stop-color="#0cf4eb"/><stop offset="0.0793" stop-color="#00d8ff"/><stop offset="0.1410" stop-color="#0068ff"/><stop offset="0.1718" stop-color="#003cff"/><stop offset="0.2247" stop-color="#000cff"/><stop offset="0.3040" stop-color="#000cff"/><stop offset="0.3568" stop-color="#0000ff"/><stop offset="0.4626" stop-color="#0000fa"/><stop offset="0.5066" stop-color="#0000df"/><stop offset="0.5374" stop-color="#0000f6"/><stop offset="0.6167" stop-color="#0004ff"/><stop offset="0.7269" stop-color="#0088ff"/><stop offset="0.7577" stop-color="#00d0ff"/><stop offset="0.7709" stop-color="#00e0fb"/><stop offset="0.7885" stop-color="#00d4ff"/><stop offset="0.8194" stop-color="#00b8ff"/><stop offset="0.9031" stop-color="#00e4f8"/><stop offset="0.9780" stop-color="#00d0ff"/><stop offset="1.0000" stop-color="#00b4ff"/></linearGradient><linearGradient id="g180" gradientUnits="userSpaceOnUse" x1="141.5" y1="0" x2="368.5" y2="0"><stop offset="0.0000" stop-color="#29ffce"/><stop offset="0.0176" stop-color="#36ffc1"/><stop offset="0.0485" stop-color="#0ff8e7"/><stop offset="0.0749" stop-color="#00d8ff"/><stop offset="0.1542" stop-color="#0048ff"/><stop offset="0.2247" stop-color="#0008ff"/><stop offset="0.3040" stop-color="#0008ff"/><stop offset="0.3568" stop-color="#0000ff"/><stop offset="0.4537" stop-color="#0000fa"/><stop offset="0.5022" stop-color="#0000da"/><stop offset="0.5859" stop-color="#0000ff"/><stop offset="0.6211" stop-color="#0004ff"/><stop offset="0.7181" stop-color="#0074ff"/><stop offset="0.7533" stop-color="#00ccff"/><stop offset="0.7665" stop-color="#00d8ff"/><stop offset="0.8194" stop-color="#00b0ff"/><stop offset="0.8987" stop-color="#00e0fb"/><stop offset="0.9692" stop-color="#00d0ff"/><stop offset="1.0000" stop-color="#00b4ff"/></linearGradient><linearGradient id="g181" gradientUnits="userSpaceOnUse" x1="141.5" y1="0" x2="369.5" y2="0"><stop offset="0.0000" stop-color="#2cffca"/><stop offset="0.0175" stop-color="#33ffc4"/><stop offset="0.0482" stop-color="#0ff8e7"/><stop offset="0.0746" stop-color="#00d8ff"/><stop offset="0.1535" stop-color="#0048ff"/><stop offset="0.2237" stop-color="#0008ff"/><stop offset="0.3070" stop-color="#0004ff"/><stop offset="0.4430" stop-color="#0000fa"/><stop offset="0.5000" stop-color="#0000d6"/><stop offset="0.5789" stop-color="#0000ff"/><stop offset="0.6272" stop-color="#0004ff"/><stop offset="0.7149" stop-color="#0064ff"/><stop offset="0.7412" stop-color="#00bcff"/><stop offset="0.7588" stop-color="#00ccff"/><stop offset="0.8158" stop-color="#00a8ff"/><stop offset="0.9035" stop-color="#00e0fb"/><stop offset="0.9693" stop-color="#00ccff"/><stop offset="1.0000" stop-color="#00b4ff"/></linearGradient><linearGradient id="g182" gradientUnits="userSpaceOnUse" x1="141.5" y1="0" x2="371.5" y2="0"><stop offset="0.0000" stop-color="#30ffc7"/><stop offset="0.0217" stop-color="#30ffc7"/><stop offset="0.0478" stop-color="#0ff8e7"/><stop offset="0.0739" stop-color="#00d4ff"/><stop offset="0.1522" stop-color="#0048ff"/><stop offset="0.2261" stop-color="#0004ff"/><stop offset="0.4348" stop-color="#0000fa"/><stop offset="0.4957" stop-color="#0000d1"/><stop offset="0.5435" stop-color="#0000ed"/><stop offset="0.5739" stop-color="#0000ff"/><stop offset="0.6304" stop-color="#0004ff"/><stop offset="0.7043" stop-color="#0050ff"/><stop offset="0.7174" stop-color="#0078ff"/><stop offset="0.7348" stop-color="#00b8ff"/><stop offset="0.7522" stop-color="#00c0ff"/><stop offset="0.8087" stop-color="#00a0ff"/><stop offset="0.9000" stop-color="#00dcfe"/><stop offset="0.9652" stop-color="#00ccff"/><stop offset="1.0000" stop-color="#00b4ff"/></linearGradient><linearGradient id="g183" gradientUnits="userSpaceOnUse" x1="141.5" y1="0" x2="372.5" y2="0"><stop offset="0.0000" stop-color="#30ffc7"/><stop offset="0.0216" stop-color="#2cffca"/><stop offset="0.0476" stop-color="#0ff8e7"/><stop offset="0.0649" stop-color="#00dcfe"/><stop offset="0.0996" stop-color="#00a8ff"/><stop offset="0.1515" stop-color="#0048ff"/><stop offset="0.2338" stop-color="#0000ff"/><stop offset="0.4286" stop-color="#0000fa"/><stop offset="0.4935" stop-color="#0000cd"/><stop offset="0.5368" stop-color="#0000ed"/><stop offset="0.5671" stop-color="#0000ff"/><stop offset="0.6407" stop-color="#0004ff"/><stop offset="0.7013" stop-color="#0040ff"/><stop offset="0.7143" stop-color="#006cff"/><stop offset="0.7316" stop-color="#00b0ff"/><stop offset="0.7489" stop-color="#00b4ff"/><stop offset="0.7706" stop-color="#00a8ff"/><stop offset="0.8052" stop-color="#0098ff"/><stop offset="0.8961" stop-color="#00d8ff"/><stop offset="0.9481" stop-color="#00d0ff"/><stop offset="1.0000" stop-color="#00b4ff"/></linearGradient><linearGradient id="g184" gradientUnits="userSpaceOnUse" x1="141.5" y1="0" x2="374.5" y2="0"><stop offset="0.0000" stop-color="#30ffc7"/><stop offset="0.0215" stop-color="#2cffca"/><stop offset="0.0429" stop-color="#13fce4"/><stop offset="0.0644" stop-color="#00d8ff"/><stop offset="0.0944" stop-color="#00b0ff"/><stop offset="0.1502" stop-color="#0048ff"/><stop offset="0.2318" stop-color="#0000ff"/><stop offset="0.3433" stop-color="#0000fa"/><stop offset="0.3863" stop-color="#0000f1"/><stop offset="0.4163" stop-color="#0000fa"/><stop offset="0.4936" stop-color="#0000cd"/><stop offset="0.5536" stop-color="#0000ff"/><stop offset="0.6438" stop-color="#0004ff"/><stop offset="0.6953" stop-color="#0034ff"/><stop offset="0.7039" stop-color="#004cff"/><stop offset="0.7210" stop-color="#009cff"/><stop offset="0.7296" stop-color="#00acff"/><stop offset="0.7639" stop-color="#0098ff"/><stop offset="0.7811" stop-color="#0098ff"/><stop offset="0.8069" stop-color="#0094ff"/><stop offset="0.8970" stop-color="#00d8ff"/><stop offset="0.9571" stop-color="#00c8ff"/><stop offset="1.0000" stop-color="#00b0ff"/></linearGradient><linearGradient id="g185" gradientUnits="userSpaceOnUse" x1="142.5" y1="0" x2="375.5" y2="0"><stop offset="0.0000" stop-color="#33ffc4"/><stop offset="0.0258" stop-color="#23ffd4"/><stop offset="0.0386" stop-color="#0ff8e7"/><stop offset="0.0558" stop-color="#00dcfe"/><stop offset="0.0987" stop-color="#00a0ff"/><stop offset="0.1416" stop-color="#0050ff"/><stop offset="0.2275" stop-color="#0000ff"/><stop offset="0.3133" stop-color="#0000fa"/><stop offset="0.3820" stop-color="#0000ed"/><stop offset="0.4120" stop-color="#0000f6"/><stop offset="0.4893" stop-color="#0000d1"/><stop offset="0.5408" stop-color="#0000fa"/><stop offset="0.6524" stop-color="#0004ff"/><stop offset="0.6910" stop-color="#0028ff"/><stop offset="0.6996" stop-color="#0040ff"/><stop offset="0.7210" stop-color="#009cff"/><stop offset="0.7382" stop-color="#0098ff"/><stop offset="0.7639" stop-color="#008cff"/><stop offset="0.7854" stop-color="#008cff"/><stop offset="0.8069" stop-color="#0090ff"/><stop offset="0.8970" stop-color="#00d4ff"/><stop offset="0.9442" stop-color="#00ccff"/><stop offset="1.0000" stop-color="#00b0ff"/></linearGradient><linearGradient id="g186" gradientUnits="userSpaceOnUse" x1="142.5" y1="0" x2="376.5" y2="0"><stop offset="0.0000" stop-color="#33ffc4"/><stop offset="0.0214" stop-color="#26ffd1"/><stop offset="0.0385" stop-color="#0cf4eb"/><stop offset="0.0513" stop-color="#00dcfe"/><stop offset="0.0940" stop-color="#00a8ff"/><stop offset="0.1410" stop-color="#0050ff"/><stop offset="0.2265" stop-color="#0000ff"/><stop offset="0.3162" stop-color="#0000f1"/><stop offset="0.3761" stop-color="#0000e8"/><stop offset="0.4145" stop-color="#0000f1"/><stop offset="0.4915" stop-color="#0000d6"/><stop offset="0.5299" stop-color="#0000fa"/><stop offset="0.6624" stop-color="#0004ff"/><stop offset="0.6880" stop-color="#001cff"/><stop offset="0.7009" stop-color="#0044ff"/><stop offset="0.7179" stop-color="#008cff"/><stop offset="0.7265" stop-color="#0098ff"/><stop offset="0.7564" stop-color="#007cff"/><stop offset="0.7821" stop-color="#0084ff"/><stop offset="0.7991" stop-color="#0084ff"/><stop offset="0.8932" stop-color="#00d0ff"/><stop offset="0.9359" stop-color="#00ccff"/><stop offset="1.0000" stop-color="#00b0ff"/></linearGradient><linearGradient id="g187" gradientUnits="userSpaceOnUse" x1="142.5" y1="0" x2="378.5" y2="0"><stop offset="0.0000" stop-color="#33ffc4"/><stop offset="0.0212" stop-color="#26ffd1"/><stop offset="0.0339" stop-color="#0ff8e7"/><stop offset="0.0508" stop-color="#00d8ff"/><stop offset="0.0847" stop-color="#00b4ff"/><stop offset="0.1356" stop-color="#0058ff"/><stop offset="0.2161" stop-color="#0004ff"/><stop offset="0.2797" stop-color="#0000f6"/><stop offset="0.3475" stop-color="#0000e3"/><stop offset="0.3898" stop-color="#0000e3"/><stop offset="0.4110" stop-color="#0000ed"/><stop offset="0.4831" stop-color="#0000da"/><stop offset="0.5297" stop-color="#0000fa"/><stop offset="0.6695" stop-color="#0004ff"/><stop offset="0.6864" stop-color="#0018ff"/><stop offset="0.6992" stop-color="#0048ff"/><stop offset="0.7161" stop-color="#0088ff"/><stop offset="0.7203" stop-color="#0090ff"/><stop offset="0.7500" stop-color="#0070ff"/><stop offset="0.7712" stop-color="#007cff"/><stop offset="0.7924" stop-color="#007cff"/><stop offset="0.8898" stop-color="#00ccff"/><stop offset="0.9280" stop-color="#00ccff"/><stop offset="0.9958" stop-color="#00b0ff"/><stop offset="1.0000" stop-color="#00b0ff"/></linearGradient><linearGradient id="g188" gradientUnits="userSpaceOnUse" x1="142.5" y1="0" x2="379.5" y2="0"><stop offset="0.0000" stop-color="#30ffc7"/><stop offset="0.0211" stop-color="#23ffd4"/><stop offset="0.0338" stop-color="#0cf4eb"/><stop offset="0.0464" stop-color="#00d8ff"/><stop offset="0.0886" stop-color="#00acff"/><stop offset="0.1350" stop-color="#0058ff"/><stop offset="0.2236" stop-color="#0000ff"/><stop offset="0.2743" stop-color="#0000f6"/><stop offset="0.3333" stop-color="#0000df"/><stop offset="0.3924" stop-color="#0000df"/><stop offset="0.4135" stop-color="#0000e8"/><stop offset="0.4937" stop-color="#0000e8"/><stop offset="0.5316" stop-color="#0000fa"/><stop offset="0.6793" stop-color="#0004ff"/><stop offset="0.6962" stop-color="#0038ff"/><stop offset="0.7131" stop-color="#007cff"/><stop offset="0.7215" stop-color="#0088ff"/><stop offset="0.7426" stop-color="#0064ff"/><stop offset="0.7806" stop-color="#0070ff"/><stop offset="0.8354" stop-color="#009cff"/><stop offset="0.8819" stop-color="#00c4ff"/><stop offset="0.9198" stop-color="#00ccff"/><stop offset="0.9916" stop-color="#00b0ff"/><stop offset="1.0000" stop-color="#00b0ff"/></linearGradient><linearGradient id="g189" gradientUnits="userSpaceOnUse" x1="142.5" y1="0" x2="381.5" y2="0"><stop offset="0.0000" stop-color="#30ffc7"/><stop offset="0.0167" stop-color="#26ffd1"/><stop offset="0.0293" stop-color="#0ff8e7"/><stop offset="0.0418" stop-color="#00d8ff"/><stop offset="0.0921" stop-color="#00a4ff"/><stop offset="0.1381" stop-color="#0054ff"/><stop offset="0.2259" stop-color="#0000ff"/><stop offset="0.2720" stop-color="#0000fa"/><stop offset="0.3264" stop-color="#0000da"/><stop offset="0.3849" stop-color="#0000d6"/><stop offset="0.4310" stop-color="#0000e8"/><stop offset="0.4937" stop-color="#0000ed"/><stop offset="0.5272" stop-color="#0000f6"/><stop offset="0.6778" stop-color="#0004ff"/><stop offset="0.7113" stop-color="#0078ff"/><stop offset="0.7197" stop-color="#0080ff"/><stop offset="0.7406" stop-color="#0058ff"/><stop offset="0.8033" stop-color="#007cff"/><stop offset="0.8661" stop-color="#00b8ff"/><stop offset="0.9079" stop-color="#00ccff"/><stop offset="0.9833" stop-color="#00acff"/><stop offset="1.0000" stop-color="#00b0ff"/></linearGradient><linearGradient id="g190" gradientUnits="userSpaceOnUse" x1="142.5" y1="0" x2="382.5" y2="0"><stop offset="0.0000" stop-color="#30ffc7"/><stop offset="0.0167" stop-color="#23ffd4"/><stop offset="0.0250" stop-color="#13fce4"/><stop offset="0.0333" stop-color="#00e4f8"/><stop offset="0.0583" stop-color="#00c0ff"/><stop offset="0.0958" stop-color="#009cff"/><stop offset="0.1292" stop-color="#0060ff"/><stop offset="0.2208" stop-color="#0000ff"/><stop offset="0.2750" stop-color="#0000fa"/><stop offset="0.3333" stop-color="#0000d6"/><stop offset="0.3833" stop-color="#0000cd"/><stop offset="0.4458" stop-color="#0000e8"/><stop offset="0.4875" stop-color="#0000ed"/><stop offset="0.5333" stop-color="#0000f6"/><stop offset="0.6750" stop-color="#0000ff"/><stop offset="0.7000" stop-color="#004cff"/><stop offset="0.7125" stop-color="#0074ff"/><stop offset="0.7167" stop-color="#007cff"/><stop offset="0.7333" stop-color="#0058ff"/><stop offset="0.7417" stop-color="#004cff"/><stop offset="0.8083" stop-color="#0080ff"/><stop offset="0.8792" stop-color="#00bcff"/><stop offset="0.9167" stop-color="#00c8ff"/><stop offset="0.9833" stop-color="#00acff"/><stop offset="1.0000" stop-color="#00acff"/></linearGradient><linearGradient id="g191" gradientUnits="userSpaceOnUse" x1="143.5" y1="0" x2="383.5" y2="0"><stop offset="0.0000" stop-color="#30ffc7"/><stop offset="0.0125" stop-color="#1fffd7"/><stop offset="0.0208" stop-color="#0cf4eb"/><stop offset="0.0333" stop-color="#00d4ff"/><stop offset="0.0708" stop-color="#00b0ff"/><stop offset="0.0958" stop-color="#0094ff"/><stop offset="0.1292" stop-color="#005cff"/><stop offset="0.2208" stop-color="#0000ff"/><stop offset="0.2792" stop-color="#0000fa"/><stop offset="0.3417" stop-color="#0000d1"/><stop offset="0.3833" stop-color="#0000c8"/><stop offset="0.5000" stop-color="#0000f1"/><stop offset="0.6750" stop-color="#0004ff"/><stop offset="0.7125" stop-color="#0074ff"/><stop offset="0.7167" stop-color="#0078ff"/><stop offset="0.7375" stop-color="#0040ff"/><stop offset="0.8125" stop-color="#0080ff"/><stop offset="0.8583" stop-color="#00acff"/><stop offset="0.9125" stop-color="#00c4ff"/><stop offset="0.9792" stop-color="#00a8ff"/><stop offset="0.9958" stop-color="#00a8ff"/><stop offset="1.0000" stop-color="#00a4ff"/></linearGradient><linearGradient id="g192" gradientUnits="userSpaceOnUse" x1="143.5" y1="0" x2="385.5" y2="0"><stop offset="0.0000" stop-color="#30ffc7"/><stop offset="0.0165" stop-color="#13fce4"/><stop offset="0.0248" stop-color="#00e4f8"/><stop offset="0.0413" stop-color="#00c4ff"/><stop offset="0.0950" stop-color="#0094ff"/><stop offset="0.1281" stop-color="#005cff"/><stop offset="0.2190" stop-color="#0000ff"/><stop offset="0.2851" stop-color="#0000fa"/><stop offset="0.3512" stop-color="#0000cd"/><stop offset="0.3843" stop-color="#0000c4"/><stop offset="0.5165" stop-color="#0000f1"/><stop offset="0.6694" stop-color="#0004ff"/><stop offset="0.7066" stop-color="#006cff"/><stop offset="0.7149" stop-color="#0070ff"/><stop offset="0.7314" stop-color="#0034ff"/><stop offset="0.8554" stop-color="#00a8ff"/><stop offset="0.9050" stop-color="#00c0ff"/><stop offset="0.9793" stop-color="#00a8ff"/><stop offset="1.0000" stop-color="#0098ff"/></linearGradient><linearGradient id="g193" gradientUnits="userSpaceOnUse" x1="143.5" y1="0" x2="386.5" y2="0"><stop offset="0.0000" stop-color="#29ffce"/><stop offset="0.0165" stop-color="#0ff8e7"/><stop offset="0.0247" stop-color="#00dcfe"/><stop offset="0.0494" stop-color="#00b8ff"/><stop offset="0.0988" stop-color="#008cff"/><stop offset="0.1276" stop-color="#0060ff"/><stop offset="0.2181" stop-color="#0000ff"/><stop offset="0.2922" stop-color="#0000fa"/><stop offset="0.3745" stop-color="#0000c4"/><stop offset="0.4321" stop-color="#0000cd"/><stop offset="0.5350" stop-color="#0000f1"/><stop offset="0.6626" stop-color="#0000ff"/><stop offset="0.7078" stop-color="#006cff"/><stop offset="0.7160" stop-color="#0060ff"/><stop offset="0.7284" stop-color="#002cff"/><stop offset="0.7407" stop-color="#0030ff"/><stop offset="0.8066" stop-color="#0078ff"/><stop offset="0.8560" stop-color="#00a4ff"/><stop offset="0.9095" stop-color="#00c0ff"/><stop offset="1.0000" stop-color="#0094ff"/></linearGradient><linearGradient id="g194" gradientUnits="userSpaceOnUse" x1="143.5" y1="0" x2="387.5" y2="0"><stop offset="0.0000" stop-color="#1fffd7"/><stop offset="0.0123" stop-color="#0ff8e7"/><stop offset="0.0246" stop-color="#00d8ff"/><stop offset="0.0410" stop-color="#00b8ff"/><stop offset="0.0984" stop-color="#008cff"/><stop offset="0.1270" stop-color="#0060ff"/><stop offset="0.2213" stop-color="#0000ff"/><stop offset="0.2992" stop-color="#0000fa"/><stop offset="0.3852" stop-color="#0000c4"/><stop offset="0.4508" stop-color="#0000cd"/><stop offset="0.5533" stop-color="#0000f1"/><stop offset="0.6598" stop-color="#0000ff"/><stop offset="0.7008" stop-color="#0060ff"/><stop offset="0.7090" stop-color="#0064ff"/><stop offset="0.7172" stop-color="#0044ff"/><stop offset="0.7254" stop-color="#0020ff"/><stop offset="0.8443" stop-color="#0098ff"/><stop offset="0.9098" stop-color="#00bcff"/><stop offset="1.0000" stop-color="#0094ff"/></linearGradient><linearGradient id="g195" gradientUnits="userSpaceOnUse" x1="143.5" y1="0" x2="389.5" y2="0"><stop offset="0.0000" stop-color="#0cf4eb"/><stop offset="0.0203" stop-color="#00e0fb"/><stop offset="0.0366" stop-color="#00b8ff"/><stop offset="0.0976" stop-color="#0088ff"/><stop offset="0.1707" stop-color="#0030ff"/><stop offset="0.2195" stop-color="#0000ff"/><stop offset="0.3089" stop-color="#0000fa"/><stop offset="0.3862" stop-color="#0000c8"/><stop offset="0.4553" stop-color="#0000c8"/><stop offset="0.5691" stop-color="#0000f1"/><stop offset="0.6545" stop-color="#0000ff"/><stop offset="0.6951" stop-color="#0058ff"/><stop offset="0.7033" stop-color="#005cff"/><stop offset="0.7195" stop-color="#0018ff"/><stop offset="0.8293" stop-color="#008cff"/><stop offset="0.9065" stop-color="#00b8ff"/><stop offset="1.0000" stop-color="#0094ff"/></linearGradient><linearGradient id="g196" gradientUnits="userSpaceOnUse" x1="144.5" y1="0" x2="390.5" y2="0"><stop offset="0.0000" stop-color="#00d4ff"/><stop offset="0.0163" stop-color="#00dcfe"/><stop offset="0.0325" stop-color="#00b4ff"/><stop offset="0.0976" stop-color="#0084ff"/><stop offset="0.2114" stop-color="#0000ff"/><stop offset="0.3130" stop-color="#0000fa"/><stop offset="0.3902" stop-color="#0000cd"/><stop offset="0.4593" stop-color="#0000c4"/><stop offset="0.5894" stop-color="#0000f1"/><stop offset="0.6504" stop-color="#0000ff"/><stop offset="0.6911" stop-color="#0050ff"/><stop offset="0.6992" stop-color="#004cff"/><stop offset="0.7154" stop-color="#0014ff"/><stop offset="0.8333" stop-color="#008cff"/><stop offset="0.9024" stop-color="#00b4ff"/><stop offset="1.0000" stop-color="#0094ff"/></linearGradient><linearGradient id="g197" gradientUnits="userSpaceOnUse" x1="144.5" y1="0" x2="392.5" y2="0"><stop offset="0.0000" stop-color="#00c0ff"/><stop offset="0.0121" stop-color="#00d8ff"/><stop offset="0.0202" stop-color="#00ccff"/><stop offset="0.0363" stop-color="#00b0ff"/><stop offset="0.0968" stop-color="#0080ff"/><stop offset="0.2137" stop-color="#0000ff"/><stop offset="0.3226" stop-color="#0000fa"/><stop offset="0.3871" stop-color="#0000d6"/><stop offset="0.4516" stop-color="#0000c4"/><stop offset="0.5040" stop-color="#0000cd"/><stop offset="0.6089" stop-color="#0000f1"/><stop offset="0.6452" stop-color="#0000ff"/><stop offset="0.6815" stop-color="#003cff"/><stop offset="0.6935" stop-color="#0040ff"/><stop offset="0.7056" stop-color="#0014ff"/><stop offset="0.7137" stop-color="#0010ff"/><stop offset="0.7379" stop-color="#002cff"/><stop offset="0.8306" stop-color="#0088ff"/><stop offset="0.8952" stop-color="#00b0ff"/><stop offset="1.0000" stop-color="#0094ff"/></linearGradient><linearGradient id="g198" gradientUnits="userSpaceOnUse" x1="144.5" y1="0" x2="393.5" y2="0"><stop offset="0.0000" stop-color="#00b8ff"/><stop offset="0.0120" stop-color="#00d4ff"/><stop offset="0.0201" stop-color="#00ccff"/><stop offset="0.0361" stop-color="#00acff"/><stop offset="0.0964" stop-color="#0084ff"/><stop offset="0.2129" stop-color="#0000ff"/><stop offset="0.3293" stop-color="#0000fa"/><stop offset="0.4538" stop-color="#0000c4"/><stop offset="0.5181" stop-color="#0000c8"/><stop offset="0.6345" stop-color="#0000fa"/><stop offset="0.6506" stop-color="#0008ff"/><stop offset="0.6867" stop-color="#0034ff"/><stop offset="0.6988" stop-color="#0018ff"/><stop offset="0.7068" stop-color="#000cff"/><stop offset="0.7871" stop-color="#005cff"/><stop offset="0.8193" stop-color="#007cff"/><stop offset="0.8956" stop-color="#00acff"/><stop offset="1.0000" stop-color="#0094ff"/></linearGradient><linearGradient id="g199" gradientUnits="userSpaceOnUse" x1="144.5" y1="0" x2="394.5" y2="0"><stop offset="0.0000" stop-color="#00b4ff"/><stop offset="0.0120" stop-color="#00d4ff"/><stop offset="0.0200" stop-color="#00ccff"/><stop offset="0.0360" stop-color="#00b0ff"/><stop offset="0.1000" stop-color="#0080ff"/><stop offset="0.2120" stop-color="#0000ff"/><stop offset="0.3360" stop-color="#0000fa"/><stop offset="0.4960" stop-color="#0000bf"/><stop offset="0.5840" stop-color="#0000da"/><stop offset="0.6320" stop-color="#0000f6"/><stop offset="0.6520" stop-color="#0004ff"/><stop offset="0.6840" stop-color="#0024ff"/><stop offset="0.6920" stop-color="#0018ff"/><stop offset="0.7040" stop-color="#0008ff"/><stop offset="0.8240" stop-color="#007cff"/><stop offset="0.8880" stop-color="#00a4ff"/><stop offset="0.9240" stop-color="#00a4ff"/><stop offset="0.9920" stop-color="#0094ff"/><stop offset="1.0000" stop-color="#0094ff"/></linearGradient><linearGradient id="g200" gradientUnits="userSpaceOnUse" x1="144.5" y1="0" x2="396.5" y2="0"><stop offset="0.0000" stop-color="#00b4ff"/><stop offset="0.0119" stop-color="#00d4ff"/><stop offset="0.0278" stop-color="#00bcff"/><stop offset="0.0992" stop-color="#0080ff"/><stop offset="0.2063" stop-color="#0004ff"/><stop offset="0.2738" stop-color="#0004ff"/><stop offset="0.3413" stop-color="#0000fa"/><stop offset="0.5079" stop-color="#0000bf"/><stop offset="0.5714" stop-color="#0000cd"/><stop offset="0.6270" stop-color="#0000ed"/><stop offset="0.6508" stop-color="#0000ff"/><stop offset="0.6825" stop-color="#0014ff"/><stop offset="0.6984" stop-color="#0004ff"/><stop offset="0.7540" stop-color="#0034ff"/><stop offset="0.8254" stop-color="#007cff"/><stop offset="0.8968" stop-color="#00a4ff"/><stop offset="0.9881" stop-color="#0090ff"/><stop offset="1.0000" stop-color="#0094ff"/></linearGradient><linearGradient id="g201" gradientUnits="userSpaceOnUse" x1="144.5" y1="0" x2="397.5" y2="0"><stop offset="0.0000" stop-color="#00b8ff"/><stop offset="0.0158" stop-color="#00d4ff"/><stop offset="0.0395" stop-color="#00b4ff"/><stop offset="0.0870" stop-color="#0090ff"/><stop offset="0.1897" stop-color="#0014ff"/><stop offset="0.2174" stop-color="#0004ff"/><stop offset="0.2688" stop-color="#0008ff"/><stop offset="0.3162" stop-color="#0000ff"/><stop offset="0.4506" stop-color="#0000da"/><stop offset="0.5178" stop-color="#0000bf"/><stop offset="0.5810" stop-color="#0000c8"/><stop offset="0.6364" stop-color="#0000ed"/><stop offset="0.6601" stop-color="#0000ff"/><stop offset="0.6838" stop-color="#0004ff"/><stop offset="0.7036" stop-color="#0004ff"/><stop offset="0.7589" stop-color="#0038ff"/><stop offset="0.8142" stop-color="#0070ff"/><stop offset="0.8854" stop-color="#009cff"/><stop offset="0.9249" stop-color="#009cff"/><stop offset="0.9881" stop-color="#0090ff"/><stop offset="1.0000" stop-color="#0094ff"/></linearGradient><linearGradient id="g202" gradientUnits="userSpaceOnUse" x1="145.5" y1="0" x2="399.5" y2="0"><stop offset="0.0000" stop-color="#00c0ff"/><stop offset="0.0118" stop-color="#00d4ff"/><stop offset="0.0394" stop-color="#00b8ff"/><stop offset="0.0906" stop-color="#008cff"/><stop offset="0.1299" stop-color="#0054ff"/><stop offset="0.2008" stop-color="#0008ff"/><stop offset="0.2598" stop-color="#000cff"/><stop offset="0.2992" stop-color="#0000ff"/><stop offset="0.3622" stop-color="#0000f6"/><stop offset="0.4449" stop-color="#0000e3"/><stop offset="0.5315" stop-color="#0000bf"/><stop offset="0.5866" stop-color="#0000c4"/><stop offset="0.6378" stop-color="#0000e8"/><stop offset="0.6614" stop-color="#0000ff"/><stop offset="0.7047" stop-color="#0004ff"/><stop offset="0.8150" stop-color="#0070ff"/><stop offset="0.8937" stop-color="#009cff"/><stop offset="0.9724" stop-color="#008cff"/><stop offset="1.0000" stop-color="#0094ff"/></linearGradient><linearGradient id="g203" gradientUnits="userSpaceOnUse" x1="145.5" y1="0" x2="400.5" y2="0"><stop offset="0.0000" stop-color="#00ccff"/><stop offset="0.0157" stop-color="#00d4ff"/><stop offset="0.0902" stop-color="#008cff"/><stop offset="0.1451" stop-color="#0040ff"/><stop offset="0.1961" stop-color="#000cff"/><stop offset="0.2627" stop-color="#000cff"/><stop offset="0.3020" stop-color="#0000ff"/><stop offset="0.4510" stop-color="#0000e8"/><stop offset="0.5490" stop-color="#0000bf"/><stop offset="0.5961" stop-color="#0000bf"/><stop offset="0.6510" stop-color="#0000ed"/><stop offset="0.6863" stop-color="#0000ff"/><stop offset="0.7176" stop-color="#0008ff"/><stop offset="0.8157" stop-color="#006cff"/><stop offset="0.8824" stop-color="#0094ff"/><stop offset="0.9333" stop-color="#0094ff"/><stop offset="0.9647" stop-color="#0088ff"/><stop offset="1.0000" stop-color="#0094ff"/></linearGradient><linearGradient id="g204" gradientUnits="userSpaceOnUse" x1="145.5" y1="0" x2="401.5" y2="0"><stop offset="0.0000" stop-color="#00dcfe"/><stop offset="0.0156" stop-color="#00d8ff"/><stop offset="0.0977" stop-color="#0084ff"/><stop offset="0.1445" stop-color="#0040ff"/><stop offset="0.1953" stop-color="#0010ff"/><stop offset="0.2578" stop-color="#0010ff"/><stop offset="0.3008" stop-color="#0000ff"/><stop offset="0.3750" stop-color="#0000f6"/><stop offset="0.4688" stop-color="#0000e8"/><stop offset="0.5781" stop-color="#0000bb"/><stop offset="0.6094" stop-color="#0000bf"/><stop offset="0.6914" stop-color="#0000ff"/><stop offset="0.7227" stop-color="#0008ff"/><stop offset="0.8203" stop-color="#006cff"/><stop offset="0.9062" stop-color="#0098ff"/><stop offset="0.9648" stop-color="#0088ff"/><stop offset="1.0000" stop-color="#0090ff"/></linearGradient><linearGradient id="g205" gradientUnits="userSpaceOnUse" x1="145.5" y1="0" x2="403.5" y2="0"><stop offset="0.0000" stop-color="#02e8f4"/><stop offset="0.0155" stop-color="#00e0fb"/><stop offset="0.0930" stop-color="#008cff"/><stop offset="0.1395" stop-color="#0044ff"/><stop offset="0.1938" stop-color="#0010ff"/><stop offset="0.2519" stop-color="#0014ff"/><stop offset="0.3023" stop-color="#0000ff"/><stop offset="0.3760" stop-color="#0000f6"/><stop offset="0.4845" stop-color="#0000e8"/><stop offset="0.5930" stop-color="#0000bb"/><stop offset="0.6240" stop-color="#0000c4"/><stop offset="0.6938" stop-color="#0000ff"/><stop offset="0.7209" stop-color="#0008ff"/><stop offset="0.8372" stop-color="#0078ff"/><stop offset="0.9070" stop-color="#0094ff"/><stop offset="0.9574" stop-color="#0084ff"/><stop offset="1.0000" stop-color="#0090ff"/></linearGradient><linearGradient id="g206" gradientUnits="userSpaceOnUse" x1="145.5" y1="0" x2="404.5" y2="0"><stop offset="0.0000" stop-color="#06ecf1"/><stop offset="0.0193" stop-color="#00e0fb"/><stop offset="0.0965" stop-color="#0088ff"/><stop offset="0.1429" stop-color="#0040ff"/><stop offset="0.1931" stop-color="#0014ff"/><stop offset="0.2471" stop-color="#0018ff"/><stop offset="0.3012" stop-color="#0000ff"/><stop offset="0.3822" stop-color="#0000f6"/><stop offset="0.5058" stop-color="#0000e8"/><stop offset="0.6062" stop-color="#0000bb"/><stop offset="0.6371" stop-color="#0000c4"/><stop offset="0.7027" stop-color="#0000ff"/><stop offset="0.7259" stop-color="#0008ff"/><stop offset="0.8378" stop-color="#0074ff"/><stop offset="0.9112" stop-color="#0090ff"/><stop offset="0.9459" stop-color="#0080ff"/><stop offset="1.0000" stop-color="#0090ff"/></linearGradient><linearGradient id="g207" gradientUnits="userSpaceOnUse" x1="146.5" y1="0" x2="406.5" y2="0"><stop offset="0.0000" stop-color="#09f0ee"/><stop offset="0.0385" stop-color="#00ccff"/><stop offset="0.0962" stop-color="#0084ff"/><stop offset="0.1385" stop-color="#0040ff"/><stop offset="0.1846" stop-color="#0018ff"/><stop offset="0.2385" stop-color="#001cff"/><stop offset="0.2962" stop-color="#0000ff"/><stop offset="0.3846" stop-color="#0000f6"/><stop offset="0.5077" stop-color="#0000ed"/><stop offset="0.6154" stop-color="#0000bb"/><stop offset="0.6462" stop-color="#0000c8"/><stop offset="0.7038" stop-color="#0000ff"/><stop offset="0.7231" stop-color="#0008ff"/><stop offset="0.8423" stop-color="#0074ff"/><stop offset="0.9077" stop-color="#008cff"/><stop offset="0.9462" stop-color="#0080ff"/><stop offset="1.0000" stop-color="#008cff"/></linearGradient><linearGradient id="g208" gradientUnits="userSpaceOnUse" x1="146.5" y1="0" x2="407.5" y2="0"><stop offset="0.0000" stop-color="#09f0ee"/><stop offset="0.0383" stop-color="#00ccff"/><stop offset="0.0920" stop-color="#008cff"/><stop offset="0.1379" stop-color="#0040ff"/><stop offset="0.1839" stop-color="#001cff"/><stop offset="0.2414" stop-color="#001cff"/><stop offset="0.2989" stop-color="#0000ff"/><stop offset="0.3678" stop-color="#0000fa"/><stop offset="0.4330" stop-color="#0000f1"/><stop offset="0.5287" stop-color="#0000ed"/><stop offset="0.6015" stop-color="#0000c4"/><stop offset="0.6398" stop-color="#0000bb"/><stop offset="0.7088" stop-color="#0000ff"/><stop offset="0.7395" stop-color="#0010ff"/><stop offset="0.8391" stop-color="#006cff"/><stop offset="0.9042" stop-color="#0088ff"/><stop offset="0.9387" stop-color="#007cff"/><stop offset="0.9847" stop-color="#008cff"/><stop offset="1.0000" stop-color="#0084ff"/></linearGradient><linearGradient id="g209" gradientUnits="userSpaceOnUse" x1="146.5" y1="0" x2="408.5" y2="0"><stop offset="0.0000" stop-color="#09f0ee"/><stop offset="0.0420" stop-color="#00ccff"/><stop offset="0.0954" stop-color="#0088ff"/><stop offset="0.1336" stop-color="#0048ff"/><stop offset="0.1832" stop-color="#001cff"/><stop offset="0.2290" stop-color="#0024ff"/><stop offset="0.3015" stop-color="#0000ff"/><stop offset="0.3702" stop-color="#0000fa"/><stop offset="0.4466" stop-color="#0000f1"/><stop offset="0.5305" stop-color="#0000f1"/><stop offset="0.5954" stop-color="#0000d1"/><stop offset="0.6336" stop-color="#0000bb"/><stop offset="0.6603" stop-color="#0000c8"/><stop offset="0.7137" stop-color="#0000ff"/><stop offset="0.7366" stop-color="#0008ff"/><stop offset="0.8397" stop-color="#0068ff"/><stop offset="0.9046" stop-color="#0084ff"/><stop offset="0.9351" stop-color="#007cff"/><stop offset="0.9847" stop-color="#0088ff"/><stop offset="1.0000" stop-color="#0080ff"/></linearGradient><linearGradient id="g210" gradientUnits="userSpaceOnUse" x1="146.5" y1="0" x2="410.5" y2="0"><stop offset="0.0000" stop-color="#09f0ee"/><stop offset="0.0417" stop-color="#00ccff"/><stop offset="0.0909" stop-color="#0090ff"/><stop offset="0.1402" stop-color="#0040ff"/><stop offset="0.1818" stop-color="#0020ff"/><stop offset="0.2235" stop-color="#0028ff"/><stop offset="0.3030" stop-color="#0000ff"/><stop offset="0.3750" stop-color="#0000fa"/><stop offset="0.4508" stop-color="#0000f1"/><stop offset="0.5455" stop-color="#0000f1"/><stop offset="0.6023" stop-color="#0000d1"/><stop offset="0.6402" stop-color="#0000bb"/><stop offset="0.6667" stop-color="#0000c8"/><stop offset="0.7159" stop-color="#0000ff"/><stop offset="0.7386" stop-color="#0008ff"/><stop offset="0.8333" stop-color="#0060ff"/><stop offset="0.9015" stop-color="#0080ff"/><stop offset="0.9318" stop-color="#0078ff"/><stop offset="0.9773" stop-color="#0084ff"/><stop offset="1.0000" stop-color="#007cff"/></linearGradient><linearGradient id="g211" gradientUnits="userSpaceOnUse" x1="146.5" y1="0" x2="411.5" y2="0"><stop offset="0.0000" stop-color="#09f0ee"/><stop offset="0.0491" stop-color="#00c8ff"/><stop offset="0.0943" stop-color="#008cff"/><stop offset="0.1396" stop-color="#0044ff"/><stop offset="0.1774" stop-color="#0024ff"/><stop offset="0.2264" stop-color="#0028ff"/><stop offset="0.3057" stop-color="#0000ff"/><stop offset="0.3811" stop-color="#0000fa"/><stop offset="0.4415" stop-color="#0000f1"/><stop offset="0.5660" stop-color="#0000f1"/><stop offset="0.6491" stop-color="#0000bb"/><stop offset="0.6755" stop-color="#0000cd"/><stop offset="0.7208" stop-color="#0000ff"/><stop offset="0.7434" stop-color="#0004ff"/><stop offset="0.8264" stop-color="#0058ff"/><stop offset="0.9019" stop-color="#007cff"/><stop offset="0.9245" stop-color="#0074ff"/><stop offset="0.9698" stop-color="#0084ff"/><stop offset="1.0000" stop-color="#0078ff"/></linearGradient><linearGradient id="g212" gradientUnits="userSpaceOnUse" x1="146.5" y1="0" x2="413.5" y2="0"><stop offset="0.0000" stop-color="#09f0ee"/><stop offset="0.0487" stop-color="#00c8ff"/><stop offset="0.0936" stop-color="#0090ff"/><stop offset="0.1423" stop-color="#0040ff"/><stop offset="0.1760" stop-color="#0028ff"/><stop offset="0.2210" stop-color="#002cff"/><stop offset="0.3071" stop-color="#0000ff"/><stop offset="0.3858" stop-color="#0000fa"/><stop offset="0.4270" stop-color="#0000f1"/><stop offset="0.4981" stop-color="#0000fa"/><stop offset="0.5843" stop-color="#0000ed"/><stop offset="0.6517" stop-color="#0000bb"/><stop offset="0.6779" stop-color="#0000cd"/><stop offset="0.7266" stop-color="#0000ff"/><stop offset="0.7416" stop-color="#0000ff"/><stop offset="0.8277" stop-color="#0054ff"/><stop offset="0.8951" stop-color="#0078ff"/><stop offset="0.9363" stop-color="#0078ff"/><stop offset="0.9700" stop-color="#0080ff"/><stop offset="0.9925" stop-color="#0074ff"/><stop offset="1.0000" stop-color="#0068ff"/></linearGradient><linearGradient id="g213" gradientUnits="userSpaceOnUse" x1="147.5" y1="0" x2="414.5" y2="0"><stop offset="0.0000" stop-color="#09f0ee"/><stop offset="0.0375" stop-color="#00d4ff"/><stop offset="0.0899" stop-color="#0090ff"/><stop offset="0.1423" stop-color="#0040ff"/><stop offset="0.1723" stop-color="#0028ff"/><stop offset="0.2135" stop-color="#0030ff"/><stop offset="0.3071" stop-color="#0000ff"/><stop offset="0.3895" stop-color="#0000fa"/><stop offset="0.5655" stop-color="#0000f6"/><stop offset="0.6180" stop-color="#0000da"/><stop offset="0.6554" stop-color="#0000bb"/><stop offset="0.6742" stop-color="#0000c4"/><stop offset="0.7303" stop-color="#0000ff"/><stop offset="0.7491" stop-color="#0008ff"/><stop offset="0.8352" stop-color="#0054ff"/><stop offset="0.8951" stop-color="#0074ff"/><stop offset="0.9288" stop-color="#0074ff"/><stop offset="0.9625" stop-color="#0080ff"/><stop offset="0.9925" stop-color="#006cff"/><stop offset="1.0000" stop-color="#0060ff"/></linearGradient><linearGradient id="g214" gradientUnits="userSpaceOnUse" x1="147.5" y1="0" x2="415.5" y2="0"><stop offset="0.0000" stop-color="#06ecf1"/><stop offset="0.0448" stop-color="#00ccff"/><stop offset="0.0896" stop-color="#0094ff"/><stop offset="0.1493" stop-color="#0038ff"/><stop offset="0.1754" stop-color="#002cff"/><stop offset="0.2090" stop-color="#0034ff"/><stop offset="0.3097" stop-color="#0000ff"/><stop offset="0.3955" stop-color="#0000fa"/><stop offset="0.5746" stop-color="#0000f6"/><stop offset="0.6157" stop-color="#0000e3"/><stop offset="0.6604" stop-color="#0000bb"/><stop offset="0.6866" stop-color="#0000c8"/><stop offset="0.7388" stop-color="#0000ff"/><stop offset="0.7761" stop-color="#001cff"/><stop offset="0.8321" stop-color="#004cff"/><stop offset="0.8955" stop-color="#0070ff"/><stop offset="0.9328" stop-color="#0074ff"/><stop offset="0.9664" stop-color="#007cff"/><stop offset="1.0000" stop-color="#005cff"/></linearGradient><linearGradient id="g215" gradientUnits="userSpaceOnUse" x1="147.5" y1="0" x2="417.5" y2="0"><stop offset="0.0000" stop-color="#06ecf1"/><stop offset="0.0370" stop-color="#00d0ff"/><stop offset="0.0815" stop-color="#00a4ff"/><stop offset="0.1444" stop-color="#0040ff"/><stop offset="0.1667" stop-color="#0030ff"/><stop offset="0.2074" stop-color="#0034ff"/><stop offset="0.3111" stop-color="#0000ff"/><stop offset="0.4000" stop-color="#0000fa"/><stop offset="0.5815" stop-color="#0000f6"/><stop offset="0.6222" stop-color="#0000e3"/><stop offset="0.6630" stop-color="#0000bb"/><stop offset="0.6889" stop-color="#0000c8"/><stop offset="0.7407" stop-color="#0000ff"/><stop offset="0.7630" stop-color="#000cff"/><stop offset="0.8296" stop-color="#0048ff"/><stop offset="0.8963" stop-color="#006cff"/><stop offset="0.9630" stop-color="#0078ff"/><stop offset="1.0000" stop-color="#0054ff"/></linearGradient><linearGradient id="g216" gradientUnits="userSpaceOnUse" x1="147.5" y1="0" x2="418.5" y2="0"><stop offset="0.0000" stop-color="#02e8f4"/><stop offset="0.0406" stop-color="#00ccff"/><stop offset="0.0775" stop-color="#00acff"/><stop offset="0.1513" stop-color="#0038ff"/><stop offset="0.1845" stop-color="#0038ff"/><stop offset="0.2140" stop-color="#0034ff"/><stop offset="0.3137" stop-color="#0000ff"/><stop offset="0.5572" stop-color="#0000fa"/><stop offset="0.6162" stop-color="#0000ed"/><stop offset="0.6679" stop-color="#0000bb"/><stop offset="0.6937" stop-color="#0000c8"/><stop offset="0.7454" stop-color="#0000ff"/><stop offset="0.7675" stop-color="#000cff"/><stop offset="0.8303" stop-color="#0044ff"/><stop offset="0.8930" stop-color="#0068ff"/><stop offset="0.9520" stop-color="#0078ff"/><stop offset="0.9926" stop-color="#0058ff"/><stop offset="1.0000" stop-color="#0050ff"/></linearGradient><linearGradient id="g217" gradientUnits="userSpaceOnUse" x1="147.5" y1="0" x2="420.5" y2="0"><stop offset="0.0000" stop-color="#00e0fb"/><stop offset="0.0623" stop-color="#00bcff"/><stop offset="0.1026" stop-color="#0084ff"/><stop offset="0.1538" stop-color="#0038ff"/><stop offset="0.1722" stop-color="#0038ff"/><stop offset="0.2088" stop-color="#0038ff"/><stop offset="0.3150" stop-color="#0000ff"/><stop offset="0.5604" stop-color="#0000fa"/><stop offset="0.6227" stop-color="#0000ed"/><stop offset="0.6703" stop-color="#0000bb"/><stop offset="0.6996" stop-color="#0000c8"/><stop offset="0.7436" stop-color="#0000ff"/><stop offset="0.7656" stop-color="#0008ff"/><stop offset="0.8315" stop-color="#0044ff"/><stop offset="0.9011" stop-color="#0068ff"/><stop offset="0.9451" stop-color="#0074ff"/><stop offset="0.9890" stop-color="#0054ff"/><stop offset="1.0000" stop-color="#004cff"/></linearGradient><linearGradient id="g218" gradientUnits="userSpaceOnUse" x1="148.5" y1="0" x2="421.5" y2="0"><stop offset="0.0000" stop-color="#00d8ff"/><stop offset="0.0293" stop-color="#00d0ff"/><stop offset="0.0733" stop-color="#00b0ff"/><stop offset="0.1502" stop-color="#003cff"/><stop offset="0.2015" stop-color="#003cff"/><stop offset="0.3040" stop-color="#0004ff"/><stop offset="0.5678" stop-color="#0000fa"/><stop offset="0.6264" stop-color="#0000ed"/><stop offset="0.6777" stop-color="#0000bb"/><stop offset="0.7070" stop-color="#0000cd"/><stop offset="0.7509" stop-color="#0000ff"/><stop offset="0.7729" stop-color="#000cff"/><stop offset="0.8535" stop-color="#0050ff"/><stop offset="0.9341" stop-color="#0070ff"/><stop offset="1.0000" stop-color="#004cff"/></linearGradient><linearGradient id="g219" gradientUnits="userSpaceOnUse" x1="148.5" y1="0" x2="422.5" y2="0"><stop offset="0.0000" stop-color="#00d4ff"/><stop offset="0.0328" stop-color="#00ccff"/><stop offset="0.0839" stop-color="#00a4ff"/><stop offset="0.1496" stop-color="#0040ff"/><stop offset="0.1971" stop-color="#0040ff"/><stop offset="0.3066" stop-color="#0004ff"/><stop offset="0.5766" stop-color="#0000fa"/><stop offset="0.6314" stop-color="#0000ed"/><stop offset="0.6788" stop-color="#0000bf"/><stop offset="0.7080" stop-color="#0000c8"/><stop offset="0.7555" stop-color="#0000ff"/><stop offset="0.7774" stop-color="#000cff"/><stop offset="0.8504" stop-color="#0048ff"/><stop offset="0.9124" stop-color="#0068ff"/><stop offset="0.9453" stop-color="#0068ff"/><stop offset="1.0000" stop-color="#004cff"/></linearGradient><linearGradient id="g220" gradientUnits="userSpaceOnUse" x1="148.5" y1="0" x2="424.5" y2="0"><stop offset="0.0000" stop-color="#00d0ff"/><stop offset="0.0254" stop-color="#00d0ff"/><stop offset="0.0870" stop-color="#00a4ff"/><stop offset="0.1486" stop-color="#0048ff"/><stop offset="0.1920" stop-color="#0044ff"/><stop offset="0.2971" stop-color="#0008ff"/><stop offset="0.4203" stop-color="#0000ff"/><stop offset="0.5833" stop-color="#0000fa"/><stop offset="0.6413" stop-color="#0000e8"/><stop offset="0.6848" stop-color="#0000bf"/><stop offset="0.7101" stop-color="#0000c8"/><stop offset="0.7536" stop-color="#0000ff"/><stop offset="0.7754" stop-color="#0008ff"/><stop offset="0.8261" stop-color="#0034ff"/><stop offset="0.8986" stop-color="#0064ff"/><stop offset="0.9384" stop-color="#0064ff"/><stop offset="0.9928" stop-color="#0050ff"/><stop offset="1.0000" stop-color="#0058ff"/></linearGradient><linearGradient id="g221" gradientUnits="userSpaceOnUse" x1="148.5" y1="0" x2="425.5" y2="0"><stop offset="0.0000" stop-color="#00d0ff"/><stop offset="0.0217" stop-color="#00d0ff"/><stop offset="0.0866" stop-color="#00a8ff"/><stop offset="0.1480" stop-color="#0050ff"/><stop offset="0.1913" stop-color="#0048ff"/><stop offset="0.2924" stop-color="#000cff"/><stop offset="0.3718" stop-color="#0000ff"/><stop offset="0.5921" stop-color="#0000fa"/><stop offset="0.6462" stop-color="#0000e8"/><stop offset="0.6931" stop-color="#0000bf"/><stop offset="0.7112" stop-color="#0000c8"/><stop offset="0.7581" stop-color="#0000ff"/><stop offset="0.7798" stop-color="#000cff"/><stop offset="0.8700" stop-color="#0050ff"/><stop offset="0.8989" stop-color="#0060ff"/><stop offset="0.9350" stop-color="#0060ff"/><stop offset="0.9819" stop-color="#004cff"/><stop offset="1.0000" stop-color="#005cff"/></linearGradient><linearGradient id="g222" gradientUnits="userSpaceOnUse" x1="148.5" y1="0" x2="426.5" y2="0"><stop offset="0.0000" stop-color="#00d0ff"/><stop offset="0.0360" stop-color="#00c8ff"/><stop offset="0.0899" stop-color="#00acff"/><stop offset="0.1475" stop-color="#0058ff"/><stop offset="0.1835" stop-color="#0050ff"/><stop offset="0.2950" stop-color="#000cff"/><stop offset="0.3849" stop-color="#0000ff"/><stop offset="0.6007" stop-color="#0000fa"/><stop offset="0.6547" stop-color="#0000e8"/><stop offset="0.7014" stop-color="#0000bf"/><stop offset="0.7302" stop-color="#0000da"/><stop offset="0.7590" stop-color="#0000ff"/><stop offset="0.7878" stop-color="#0010ff"/><stop offset="0.8561" stop-color="#0040ff"/><stop offset="0.8885" stop-color="#005cff"/><stop offset="0.9317" stop-color="#005cff"/><stop offset="0.9784" stop-color="#004cff"/><stop offset="1.0000" stop-color="#0060ff"/></linearGradient><linearGradient id="g223" gradientUnits="userSpaceOnUse" x1="148.5" y1="0" x2="428.5" y2="0"><stop offset="0.0000" stop-color="#00d0ff"/><stop offset="0.0393" stop-color="#00c4ff"/><stop offset="0.0929" stop-color="#00acff"/><stop offset="0.1429" stop-color="#0064ff"/><stop offset="0.1786" stop-color="#0058ff"/><stop offset="0.2821" stop-color="#0010ff"/><stop offset="0.3821" stop-color="#0000ff"/><stop offset="0.6036" stop-color="#0000fa"/><stop offset="0.6643" stop-color="#0000e3"/><stop offset="0.6964" stop-color="#0000c4"/><stop offset="0.7143" stop-color="#0000c4"/><stop offset="0.7571" stop-color="#0000ff"/><stop offset="0.7786" stop-color="#0008ff"/><stop offset="0.8464" stop-color="#0034ff"/><stop offset="0.8786" stop-color="#0058ff"/><stop offset="0.9250" stop-color="#0058ff"/><stop offset="0.9714" stop-color="#004cff"/><stop offset="1.0000" stop-color="#0060ff"/></linearGradient><linearGradient id="g224" gradientUnits="userSpaceOnUse" x1="149.5" y1="0" x2="429.5" y2="0"><stop offset="0.0000" stop-color="#00d0ff"/><stop offset="0.0786" stop-color="#00b8ff"/><stop offset="0.1071" stop-color="#009cff"/><stop offset="0.1393" stop-color="#006cff"/><stop offset="0.1679" stop-color="#0064ff"/><stop offset="0.2679" stop-color="#0018ff"/><stop offset="0.3679" stop-color="#0000ff"/><stop offset="0.6071" stop-color="#0000fa"/><stop offset="0.6679" stop-color="#0000e3"/><stop offset="0.7036" stop-color="#0000c4"/><stop offset="0.7214" stop-color="#0000cd"/><stop offset="0.7607" stop-color="#0000ff"/><stop offset="0.8286" stop-color="#0020ff"/><stop offset="0.8750" stop-color="#0054ff"/><stop offset="0.9214" stop-color="#0054ff"/><stop offset="0.9643" stop-color="#0048ff"/><stop offset="0.9929" stop-color="#005cff"/><stop offset="1.0000" stop-color="#0060ff"/></linearGradient><linearGradient id="g225" gradientUnits="userSpaceOnUse" x1="149.5" y1="0" x2="431.5" y2="0"><stop offset="0.0000" stop-color="#00d0ff"/><stop offset="0.0851" stop-color="#00b8ff"/><stop offset="0.1135" stop-color="#0098ff"/><stop offset="0.1418" stop-color="#0074ff"/><stop offset="0.1702" stop-color="#0068ff"/><stop offset="0.2695" stop-color="#0018ff"/><stop offset="0.3723" stop-color="#0000ff"/><stop offset="0.6099" stop-color="#0000fa"/><stop offset="0.6525" stop-color="#0000ed"/><stop offset="0.6809" stop-color="#0000da"/><stop offset="0.7057" stop-color="#0000c4"/><stop offset="0.7234" stop-color="#0000cd"/><stop offset="0.7553" stop-color="#0000ff"/><stop offset="0.8121" stop-color="#0010ff"/><stop offset="0.8404" stop-color="#0030ff"/><stop offset="0.8617" stop-color="#004cff"/><stop offset="0.9184" stop-color="#0050ff"/><stop offset="0.9574" stop-color="#0048ff"/><stop offset="0.9929" stop-color="#005cff"/><stop offset="1.0000" stop-color="#0060ff"/></linearGradient><linearGradient id="g226" gradientUnits="userSpaceOnUse" x1="149.5" y1="0" x2="432.5" y2="0"><stop offset="0.0000" stop-color="#00d0ff"/><stop offset="0.0742" stop-color="#00bcff"/><stop offset="0.1025" stop-color="#00b0ff"/><stop offset="0.1343" stop-color="#0080ff"/><stop offset="0.1696" stop-color="#006cff"/><stop offset="0.2827" stop-color="#0014ff"/><stop offset="0.3887" stop-color="#0000ff"/><stop offset="0.6113" stop-color="#0000fa"/><stop offset="0.6396" stop-color="#0000ed"/><stop offset="0.6714" stop-color="#0000e8"/><stop offset="0.7102" stop-color="#0000c4"/><stop offset="0.7279" stop-color="#0000d1"/><stop offset="0.7562" stop-color="#0000ff"/><stop offset="0.8057" stop-color="#0008ff"/><stop offset="0.8375" stop-color="#002cff"/><stop offset="0.8587" stop-color="#0048ff"/><stop offset="0.9187" stop-color="#004cff"/><stop offset="0.9505" stop-color="#0048ff"/><stop offset="0.9859" stop-color="#0058ff"/><stop offset="1.0000" stop-color="#005cff"/></linearGradient><linearGradient id="g227" gradientUnits="userSpaceOnUse" x1="150.5" y1="0" x2="433.5" y2="0"><stop offset="0.0000" stop-color="#00d0ff"/><stop offset="0.0742" stop-color="#00bcff"/><stop offset="0.1025" stop-color="#00b0ff"/><stop offset="0.1343" stop-color="#0088ff"/><stop offset="0.1590" stop-color="#0078ff"/><stop offset="0.2792" stop-color="#0018ff"/><stop offset="0.3993" stop-color="#0000ff"/><stop offset="0.6078" stop-color="#0000fa"/><stop offset="0.6360" stop-color="#0000ed"/><stop offset="0.6749" stop-color="#0000e8"/><stop offset="0.7138" stop-color="#0000c4"/><stop offset="0.7420" stop-color="#0000e8"/><stop offset="0.7597" stop-color="#0000ff"/><stop offset="0.8057" stop-color="#0004ff"/><stop offset="0.8551" stop-color="#0044ff"/><stop offset="0.9187" stop-color="#0048ff"/><stop offset="0.9505" stop-color="#0048ff"/><stop offset="0.9788" stop-color="#0054ff"/><stop offset="1.0000" stop-color="#005cff"/></linearGradient><linearGradient id="g228" gradientUnits="userSpaceOnUse" x1="150.5" y1="0" x2="435.5" y2="0"><stop offset="0.0000" stop-color="#00d0ff"/><stop offset="0.0667" stop-color="#00c0ff"/><stop offset="0.1053" stop-color="#00b4ff"/><stop offset="0.1333" stop-color="#0090ff"/><stop offset="0.1684" stop-color="#0074ff"/><stop offset="0.2772" stop-color="#001cff"/><stop offset="0.4070" stop-color="#0000ff"/><stop offset="0.6035" stop-color="#0000fa"/><stop offset="0.6316" stop-color="#0000e8"/><stop offset="0.6772" stop-color="#0000e8"/><stop offset="0.7123" stop-color="#0000c4"/><stop offset="0.7439" stop-color="#0000ed"/><stop offset="0.7614" stop-color="#0000ff"/><stop offset="0.8035" stop-color="#0004ff"/><stop offset="0.8456" stop-color="#0040ff"/><stop offset="0.9193" stop-color="#0044ff"/><stop offset="0.9368" stop-color="#0044ff"/><stop offset="0.9684" stop-color="#0050ff"/><stop offset="0.9965" stop-color="#0054ff"/><stop offset="1.0000" stop-color="#0050ff"/></linearGradient><linearGradient id="g229" gradientUnits="userSpaceOnUse" x1="150.5" y1="0" x2="436.5" y2="0"><stop offset="0.0000" stop-color="#00d0ff"/><stop offset="0.0699" stop-color="#00c0ff"/><stop offset="0.1049" stop-color="#00b8ff"/><stop offset="0.1329" stop-color="#0098ff"/><stop offset="0.2797" stop-color="#001cff"/><stop offset="0.4301" stop-color="#0000ff"/><stop offset="0.6014" stop-color="#0000fa"/><stop offset="0.6294" stop-color="#0000e8"/><stop offset="0.6818" stop-color="#0000e8"/><stop offset="0.7133" stop-color="#0000c8"/><stop offset="0.7273" stop-color="#0000d1"/><stop offset="0.7622" stop-color="#0000ff"/><stop offset="0.8007" stop-color="#0004ff"/><stop offset="0.8287" stop-color="#0028ff"/><stop offset="0.8497" stop-color="#0040ff"/><stop offset="0.9371" stop-color="#0044ff"/><stop offset="0.9755" stop-color="#0050ff"/><stop offset="0.9965" stop-color="#0048ff"/><stop offset="1.0000" stop-color="#0044ff"/></linearGradient><linearGradient id="g230" gradientUnits="userSpaceOnUse" x1="151.5" y1="0" x2="438.5" y2="0"><stop offset="0.0000" stop-color="#00d0ff"/><stop offset="0.0767" stop-color="#00c0ff"/><stop offset="0.1080" stop-color="#00b8ff"/><stop offset="0.1463" stop-color="#0090ff"/><stop offset="0.2753" stop-color="#0020ff"/><stop offset="0.4390" stop-color="#0000ff"/><stop offset="0.5923" stop-color="#0000fa"/><stop offset="0.6202" stop-color="#0000e8"/><stop offset="0.6829" stop-color="#0000e8"/><stop offset="0.7108" stop-color="#0000c8"/><stop offset="0.7247" stop-color="#0000d1"/><stop offset="0.7596" stop-color="#0000ff"/><stop offset="0.8014" stop-color="#0008ff"/><stop offset="0.8432" stop-color="#003cff"/><stop offset="0.9233" stop-color="#0040ff"/><stop offset="0.9721" stop-color="#004cff"/><stop offset="0.9930" stop-color="#0040ff"/><stop offset="1.0000" stop-color="#0038ff"/></linearGradient><linearGradient id="g231" gradientUnits="userSpaceOnUse" x1="151.5" y1="0" x2="439.5" y2="0"><stop offset="0.0000" stop-color="#00d0ff"/><stop offset="0.0694" stop-color="#00c4ff"/><stop offset="0.1076" stop-color="#00bcff"/><stop offset="0.2743" stop-color="#0024ff"/><stop offset="0.4583" stop-color="#0000ff"/><stop offset="0.5903" stop-color="#0000fa"/><stop offset="0.6181" stop-color="#0000e8"/><stop offset="0.6875" stop-color="#0000e8"/><stop offset="0.7118" stop-color="#0000c8"/><stop offset="0.7535" stop-color="#0000fa"/><stop offset="0.7951" stop-color="#0004ff"/><stop offset="0.8403" stop-color="#0038ff"/><stop offset="0.9236" stop-color="#0040ff"/><stop offset="0.9792" stop-color="#0048ff"/><stop offset="1.0000" stop-color="#0038ff"/></linearGradient><linearGradient id="g232" gradientUnits="userSpaceOnUse" x1="152.5" y1="0" x2="440.5" y2="0"><stop offset="0.0000" stop-color="#00d0ff"/><stop offset="0.0694" stop-color="#00c4ff"/><stop offset="0.1111" stop-color="#00bcff"/><stop offset="0.2674" stop-color="#002cff"/><stop offset="0.4410" stop-color="#0004ff"/><stop offset="0.5868" stop-color="#0000fa"/><stop offset="0.6215" stop-color="#0000e3"/><stop offset="0.6840" stop-color="#0000ed"/><stop offset="0.7118" stop-color="#0000cd"/><stop offset="0.7292" stop-color="#0000da"/><stop offset="0.7569" stop-color="#0000ff"/><stop offset="0.7917" stop-color="#0004ff"/><stop offset="0.8368" stop-color="#0034ff"/><stop offset="0.9236" stop-color="#0040ff"/><stop offset="0.9792" stop-color="#0048ff"/><stop offset="1.0000" stop-color="#0038ff"/></linearGradient><linearGradient id="g233" gradientUnits="userSpaceOnUse" x1="152.5" y1="0" x2="442.5" y2="0"><stop offset="0.0000" stop-color="#00d0ff"/><stop offset="0.1138" stop-color="#00c0ff"/><stop offset="0.2138" stop-color="#0060ff"/><stop offset="0.2655" stop-color="#0030ff"/><stop offset="0.4552" stop-color="#0004ff"/><stop offset="0.5828" stop-color="#0000fa"/><stop offset="0.6138" stop-color="#0000e3"/><stop offset="0.6828" stop-color="#0000ed"/><stop offset="0.7103" stop-color="#0000cd"/><stop offset="0.7276" stop-color="#0000da"/><stop offset="0.7552" stop-color="#0000ff"/><stop offset="0.7931" stop-color="#0008ff"/><stop offset="0.8241" stop-color="#002cff"/><stop offset="0.9690" stop-color="#0044ff"/><stop offset="1.0000" stop-color="#0038ff"/></linearGradient><linearGradient id="g234" gradientUnits="userSpaceOnUse" x1="152.5" y1="0" x2="443.5" y2="0"><stop offset="0.0000" stop-color="#00d0ff"/><stop offset="0.1065" stop-color="#00c8ff"/><stop offset="0.2405" stop-color="#0048ff"/><stop offset="0.2749" stop-color="#0030ff"/><stop offset="0.5052" stop-color="#0000ff"/><stop offset="0.5773" stop-color="#0000fa"/><stop offset="0.6117" stop-color="#0000e3"/><stop offset="0.6838" stop-color="#0000ed"/><stop offset="0.7113" stop-color="#0000cd"/><stop offset="0.7285" stop-color="#0000da"/><stop offset="0.7560" stop-color="#0000ff"/><stop offset="0.7904" stop-color="#0008ff"/><stop offset="0.8213" stop-color="#0028ff"/><stop offset="0.9725" stop-color="#0044ff"/><stop offset="1.0000" stop-color="#0038ff"/></linearGradient><linearGradient id="g235" gradientUnits="userSpaceOnUse" x1="153.5" y1="0" x2="445.5" y2="0"><stop offset="0.0000" stop-color="#00d0ff"/><stop offset="0.1130" stop-color="#00c8ff"/><stop offset="0.2397" stop-color="#0048ff"/><stop offset="0.2740" stop-color="#0034ff"/><stop offset="0.5068" stop-color="#0000ff"/><stop offset="0.5719" stop-color="#0000fa"/><stop offset="0.6096" stop-color="#0000df"/><stop offset="0.6815" stop-color="#0000ed"/><stop offset="0.7089" stop-color="#0000d1"/><stop offset="0.7260" stop-color="#0000df"/><stop offset="0.7500" stop-color="#0000ff"/><stop offset="0.7877" stop-color="#0008ff"/><stop offset="0.8219" stop-color="#0028ff"/><stop offset="0.9658" stop-color="#0040ff"/><stop offset="1.0000" stop-color="#0038ff"/></linearGradient><linearGradient id="g236" gradientUnits="userSpaceOnUse" x1="153.5" y1="0" x2="446.5" y2="0"><stop offset="0.0000" stop-color="#00d0ff"/><stop offset="0.1126" stop-color="#00ccff"/><stop offset="0.2287" stop-color="#0058ff"/><stop offset="0.2662" stop-color="#0038ff"/><stop offset="0.5154" stop-color="#0000ff"/><stop offset="0.5700" stop-color="#0000fa"/><stop offset="0.6075" stop-color="#0000df"/><stop offset="0.6826" stop-color="#0000ed"/><stop offset="0.7099" stop-color="#0000d1"/><stop offset="0.7270" stop-color="#0000df"/><stop offset="0.7509" stop-color="#0000ff"/><stop offset="0.7850" stop-color="#0008ff"/><stop offset="0.8191" stop-color="#0024ff"/><stop offset="0.9727" stop-color="#0040ff"/><stop offset="1.0000" stop-color="#0038ff"/></linearGradient><linearGradient id="g237" gradientUnits="userSpaceOnUse" x1="153.5" y1="0" x2="447.5" y2="0"><stop offset="0.0000" stop-color="#00d0ff"/><stop offset="0.1088" stop-color="#00d4ff"/><stop offset="0.2177" stop-color="#0068ff"/><stop offset="0.2585" stop-color="#0040ff"/><stop offset="0.5170" stop-color="#0000ff"/><stop offset="0.5680" stop-color="#0000fa"/><stop offset="0.6054" stop-color="#0000df"/><stop offset="0.6837" stop-color="#0000ed"/><stop offset="0.7143" stop-color="#0000d1"/><stop offset="0.7517" stop-color="#0000ff"/><stop offset="0.7891" stop-color="#000cff"/><stop offset="0.8163" stop-color="#0020ff"/><stop offset="0.9286" stop-color="#0038ff"/><stop offset="1.0000" stop-color="#0038ff"/></linearGradient><linearGradient id="g238" gradientUnits="userSpaceOnUse" x1="154.5" y1="0" x2="449.5" y2="0"><stop offset="0.0000" stop-color="#00d0ff"/><stop offset="0.0712" stop-color="#00dcfe"/><stop offset="0.1119" stop-color="#00d4ff"/><stop offset="0.2475" stop-color="#0048ff"/><stop offset="0.4881" stop-color="#0008ff"/><stop offset="0.5627" stop-color="#0000fa"/><stop offset="0.6000" stop-color="#0000df"/><stop offset="0.6780" stop-color="#0000f1"/><stop offset="0.7119" stop-color="#0000d6"/><stop offset="0.7458" stop-color="#0000ff"/><stop offset="0.7831" stop-color="#000cff"/><stop offset="0.8305" stop-color="#0024ff"/><stop offset="0.9797" stop-color="#003cff"/><stop offset="1.0000" stop-color="#0038ff"/></linearGradient><linearGradient id="g239" gradientUnits="userSpaceOnUse" x1="154.5" y1="0" x2="450.5" y2="0"><stop offset="0.0000" stop-color="#00d0ff"/><stop offset="0.0541" stop-color="#00e4f8"/><stop offset="0.0878" stop-color="#00dcfe"/><stop offset="0.1182" stop-color="#00d4ff"/><stop offset="0.2534" stop-color="#0048ff"/><stop offset="0.4966" stop-color="#0008ff"/><stop offset="0.5642" stop-color="#0000fa"/><stop offset="0.5946" stop-color="#0000df"/><stop offset="0.6824" stop-color="#0000f1"/><stop offset="0.7162" stop-color="#0000d6"/><stop offset="0.7466" stop-color="#0000ff"/><stop offset="0.7736" stop-color="#0008ff"/><stop offset="0.8209" stop-color="#0020ff"/><stop offset="0.9324" stop-color="#0034ff"/><stop offset="1.0000" stop-color="#0038ff"/></linearGradient><linearGradient id="g240" gradientUnits="userSpaceOnUse" x1="155.5" y1="0" x2="452.5" y2="0"><stop offset="0.0000" stop-color="#00d4ff"/><stop offset="0.0303" stop-color="#02e8f4"/><stop offset="0.0842" stop-color="#00e0fb"/><stop offset="0.1044" stop-color="#00e0fb"/><stop offset="0.2189" stop-color="#006cff"/><stop offset="0.2559" stop-color="#004cff"/><stop offset="0.4310" stop-color="#0018ff"/><stop offset="0.5589" stop-color="#0000fa"/><stop offset="0.5960" stop-color="#0000df"/><stop offset="0.6768" stop-color="#0000f6"/><stop offset="0.7104" stop-color="#0000da"/><stop offset="0.7239" stop-color="#0000e3"/><stop offset="0.7441" stop-color="#0000ff"/><stop offset="0.7744" stop-color="#000cff"/><stop offset="0.8485" stop-color="#0028ff"/><stop offset="0.9933" stop-color="#0034ff"/><stop offset="1.0000" stop-color="#0034ff"/></linearGradient><linearGradient id="g241" gradientUnits="userSpaceOnUse" x1="155.5" y1="0" x2="453.5" y2="0"><stop offset="0.0000" stop-color="#00d8ff"/><stop offset="0.0235" stop-color="#06ecf1"/><stop offset="0.0537" stop-color="#02e8f4"/><stop offset="0.0805" stop-color="#00e0fb"/><stop offset="0.1040" stop-color="#00e4f8"/><stop offset="0.1711" stop-color="#00a4ff"/><stop offset="0.2517" stop-color="#0054ff"/><stop offset="0.3691" stop-color="#0030ff"/><stop offset="0.4732" stop-color="#0010ff"/><stop offset="0.5604" stop-color="#0000fa"/><stop offset="0.5906" stop-color="#0000e3"/><stop offset="0.6812" stop-color="#0000f6"/><stop offset="0.7148" stop-color="#0000da"/><stop offset="0.7416" stop-color="#0000ff"/><stop offset="0.7785" stop-color="#0010ff"/><stop offset="0.8591" stop-color="#0028ff"/><stop offset="1.0000" stop-color="#0034ff"/></linearGradient><linearGradient id="g242" gradientUnits="userSpaceOnUse" x1="155.5" y1="0" x2="454.5" y2="0"><stop offset="0.0000" stop-color="#00e0fb"/><stop offset="0.0201" stop-color="#0cf4eb"/><stop offset="0.0769" stop-color="#00e4f8"/><stop offset="0.1003" stop-color="#06ecf1"/><stop offset="0.1405" stop-color="#00c8ff"/><stop offset="0.2441" stop-color="#0060ff"/><stop offset="0.3177" stop-color="#0040ff"/><stop offset="0.4816" stop-color="#0010ff"/><stop offset="0.5619" stop-color="#0000fa"/><stop offset="0.5886" stop-color="#0000e3"/><stop offset="0.6789" stop-color="#0000fa"/><stop offset="0.7124" stop-color="#0000df"/><stop offset="0.7291" stop-color="#0000ed"/><stop offset="0.7425" stop-color="#0000ff"/><stop offset="0.7726" stop-color="#000cff"/><stop offset="0.8361" stop-color="#0024ff"/><stop offset="1.0000" stop-color="#0030ff"/></linearGradient><linearGradient id="g243" gradientUnits="userSpaceOnUse" x1="156.5" y1="0" x2="456.5" y2="0"><stop offset="0.0000" stop-color="#09f0ee"/><stop offset="0.0267" stop-color="#0ff8e7"/><stop offset="0.0667" stop-color="#02e8f4"/><stop offset="0.1033" stop-color="#06ecf1"/><stop offset="0.1367" stop-color="#00ccff"/><stop offset="0.2533" stop-color="#0060ff"/><stop offset="0.3400" stop-color="#003cff"/><stop offset="0.4733" stop-color="#0014ff"/><stop offset="0.5567" stop-color="#0000fa"/><stop offset="0.5833" stop-color="#0000e8"/><stop offset="0.6800" stop-color="#0000fa"/><stop offset="0.7133" stop-color="#0000df"/><stop offset="0.7400" stop-color="#0000ff"/><stop offset="0.8133" stop-color="#0020ff"/><stop offset="0.9900" stop-color="#0030ff"/><stop offset="1.0000" stop-color="#0024ff"/></linearGradient><linearGradient id="g244" gradientUnits="userSpaceOnUse" x1="156.5" y1="0" x2="457.5" y2="0"><stop offset="0.0000" stop-color="#13fce4"/><stop offset="0.0365" stop-color="#0cf4eb"/><stop offset="0.0631" stop-color="#02e8f4"/><stop offset="0.0997" stop-color="#0cf4eb"/><stop offset="0.1296" stop-color="#00d8ff"/><stop offset="0.2492" stop-color="#006cff"/><stop offset="0.3256" stop-color="#0044ff"/><stop offset="0.4618" stop-color="#0018ff"/><stop offset="0.5316" stop-color="#0004ff"/><stop offset="0.5581" stop-color="#0000fa"/><stop offset="0.5847" stop-color="#0000e8"/><stop offset="0.6744" stop-color="#0000ff"/><stop offset="0.7010" stop-color="#0000e8"/><stop offset="0.7143" stop-color="#0000df"/><stop offset="0.7375" stop-color="#0000ff"/><stop offset="0.7674" stop-color="#000cff"/><stop offset="0.8106" stop-color="#0020ff"/><stop offset="0.9867" stop-color="#002cff"/><stop offset="1.0000" stop-color="#001cff"/></linearGradient><linearGradient id="g245" gradientUnits="userSpaceOnUse" x1="157.5" y1="0" x2="459.5" y2="0"><stop offset="0.0000" stop-color="#16ffe1"/><stop offset="0.0331" stop-color="#0cf4eb"/><stop offset="0.0596" stop-color="#09f0ee"/><stop offset="0.0960" stop-color="#0ff8e7"/><stop offset="0.1325" stop-color="#00d8ff"/><stop offset="0.2583" stop-color="#006cff"/><stop offset="0.3344" stop-color="#0044ff"/><stop offset="0.4636" stop-color="#0018ff"/><stop offset="0.5265" stop-color="#0008ff"/><stop offset="0.5530" stop-color="#0000fa"/><stop offset="0.5795" stop-color="#0000ed"/><stop offset="0.6788" stop-color="#0000ff"/><stop offset="0.7119" stop-color="#0000e3"/><stop offset="0.7351" stop-color="#0000ff"/><stop offset="0.7947" stop-color="#001cff"/><stop offset="0.9801" stop-color="#0028ff"/><stop offset="1.0000" stop-color="#0018ff"/></linearGradient><linearGradient id="g246" gradientUnits="userSpaceOnUse" x1="157.5" y1="0" x2="460.5" y2="0"><stop offset="0.0000" stop-color="#19ffde"/><stop offset="0.0363" stop-color="#0cf4eb"/><stop offset="0.0660" stop-color="#0cf4eb"/><stop offset="0.0957" stop-color="#13fce4"/><stop offset="0.1353" stop-color="#00dcfe"/><stop offset="0.2706" stop-color="#006cff"/><stop offset="0.3630" stop-color="#003cff"/><stop offset="0.4620" stop-color="#001cff"/><stop offset="0.5281" stop-color="#0008ff"/><stop offset="0.5545" stop-color="#0000fa"/><stop offset="0.5809" stop-color="#0000ed"/><stop offset="0.6667" stop-color="#0000ff"/><stop offset="0.6931" stop-color="#0000f6"/><stop offset="0.7162" stop-color="#0000e3"/><stop offset="0.7360" stop-color="#0000ff"/><stop offset="0.8053" stop-color="#0020ff"/><stop offset="0.8647" stop-color="#001cff"/><stop offset="0.9670" stop-color="#0028ff"/><stop offset="1.0000" stop-color="#0018ff"/></linearGradient><linearGradient id="g247" gradientUnits="userSpaceOnUse" x1="157.5" y1="0" x2="461.5" y2="0"><stop offset="0.0000" stop-color="#19ffde"/><stop offset="0.0559" stop-color="#0cf4eb"/><stop offset="0.0921" stop-color="#19ffde"/><stop offset="0.1382" stop-color="#00e0fb"/><stop offset="0.2730" stop-color="#0074ff"/><stop offset="0.3684" stop-color="#003cff"/><stop offset="0.4539" stop-color="#0020ff"/><stop offset="0.5230" stop-color="#000cff"/><stop offset="0.5493" stop-color="#0000ff"/><stop offset="0.5757" stop-color="#0000f1"/><stop offset="0.6743" stop-color="#0000ff"/><stop offset="0.6974" stop-color="#0000f6"/><stop offset="0.7138" stop-color="#0000e3"/><stop offset="0.7368" stop-color="#0000ff"/><stop offset="0.7895" stop-color="#001cff"/><stop offset="0.8224" stop-color="#001cff"/><stop offset="0.9112" stop-color="#0020ff"/><stop offset="0.9803" stop-color="#0020ff"/><stop offset="1.0000" stop-color="#0018ff"/></linearGradient><linearGradient id="g248" gradientUnits="userSpaceOnUse" x1="158.5" y1="0" x2="463.5" y2="0"><stop offset="0.0000" stop-color="#19ffde"/><stop offset="0.0459" stop-color="#0ff8e7"/><stop offset="0.0885" stop-color="#1cffdb"/><stop offset="0.1180" stop-color="#09f0ee"/><stop offset="0.1672" stop-color="#00ccff"/><stop offset="0.3410" stop-color="#0048ff"/><stop offset="0.4426" stop-color="#0024ff"/><stop offset="0.5180" stop-color="#0010ff"/><stop offset="0.5377" stop-color="#0000ff"/><stop offset="0.5607" stop-color="#0000f6"/><stop offset="0.6000" stop-color="#0000f6"/><stop offset="0.6590" stop-color="#0000ff"/><stop offset="0.6918" stop-color="#0000fa"/><stop offset="0.7082" stop-color="#0000e8"/><stop offset="0.7246" stop-color="#0000f6"/><stop offset="0.7344" stop-color="#0000ff"/><stop offset="0.7836" stop-color="#001cff"/><stop offset="0.8197" stop-color="#0018ff"/><stop offset="0.9672" stop-color="#0020ff"/><stop offset="1.0000" stop-color="#0018ff"/></linearGradient><linearGradient id="g249" gradientUnits="userSpaceOnUse" x1="158.5" y1="0" x2="464.5" y2="0"><stop offset="0.0000" stop-color="#19ffde"/><stop offset="0.0490" stop-color="#13fce4"/><stop offset="0.0882" stop-color="#1fffd7"/><stop offset="0.1209" stop-color="#0cf4eb"/><stop offset="0.1699" stop-color="#00d4ff"/><stop offset="0.2745" stop-color="#0080ff"/><stop offset="0.3562" stop-color="#0044ff"/><stop offset="0.4510" stop-color="#0024ff"/><stop offset="0.5131" stop-color="#0014ff"/><stop offset="0.5392" stop-color="#0000ff"/><stop offset="0.5882" stop-color="#0000f6"/><stop offset="0.6471" stop-color="#0000ff"/><stop offset="0.6928" stop-color="#0000fa"/><stop offset="0.7124" stop-color="#0000e8"/><stop offset="0.7320" stop-color="#0000ff"/><stop offset="0.7810" stop-color="#001cff"/><stop offset="0.8497" stop-color="#0014ff"/><stop offset="0.9477" stop-color="#0020ff"/><stop offset="1.0000" stop-color="#0018ff"/></linearGradient><linearGradient id="g250" gradientUnits="userSpaceOnUse" x1="159.5" y1="0" x2="465.5" y2="0"><stop offset="0.0000" stop-color="#19ffde"/><stop offset="0.0425" stop-color="#16ffe1"/><stop offset="0.0882" stop-color="#23ffd4"/><stop offset="0.1405" stop-color="#09f0ee"/><stop offset="0.1765" stop-color="#00d4ff"/><stop offset="0.3333" stop-color="#0054ff"/><stop offset="0.4085" stop-color="#0030ff"/><stop offset="0.5131" stop-color="#0014ff"/><stop offset="0.5392" stop-color="#0000ff"/><stop offset="0.5719" stop-color="#0000f6"/><stop offset="0.6503" stop-color="#0000ff"/><stop offset="0.6961" stop-color="#0000fa"/><stop offset="0.7124" stop-color="#0000ed"/><stop offset="0.7353" stop-color="#0000ff"/><stop offset="0.7712" stop-color="#0018ff"/><stop offset="0.8007" stop-color="#0018ff"/><stop offset="0.8399" stop-color="#0010ff"/><stop offset="0.9542" stop-color="#001cff"/><stop offset="0.9902" stop-color="#0018ff"/><stop offset="1.0000" stop-color="#0018ff"/></linearGradient><linearGradient id="g251" gradientUnits="userSpaceOnUse" x1="159.5" y1="0" x2="467.5" y2="0"><stop offset="0.0000" stop-color="#19ffde"/><stop offset="0.0487" stop-color="#1cffdb"/><stop offset="0.0877" stop-color="#26ffd1"/><stop offset="0.1364" stop-color="#0ff8e7"/><stop offset="0.1721" stop-color="#00dcfe"/><stop offset="0.3247" stop-color="#0060ff"/><stop offset="0.3701" stop-color="#0040ff"/><stop offset="0.4675" stop-color="#0024ff"/><stop offset="0.5130" stop-color="#0014ff"/><stop offset="0.5357" stop-color="#0000ff"/><stop offset="0.6948" stop-color="#0000fa"/><stop offset="0.7110" stop-color="#0000ed"/><stop offset="0.7305" stop-color="#0000ff"/><stop offset="0.7662" stop-color="#0018ff"/><stop offset="0.7890" stop-color="#0018ff"/><stop offset="0.8247" stop-color="#000cff"/><stop offset="0.9351" stop-color="#0018ff"/><stop offset="1.0000" stop-color="#0014ff"/></linearGradient><linearGradient id="g252" gradientUnits="userSpaceOnUse" x1="159.5" y1="0" x2="468.5" y2="0"><stop offset="0.0000" stop-color="#19ffde"/><stop offset="0.0453" stop-color="#1fffd7"/><stop offset="0.0841" stop-color="#2cffca"/><stop offset="0.1262" stop-color="#19ffde"/><stop offset="0.1650" stop-color="#02e8f4"/><stop offset="0.2006" stop-color="#00c8ff"/><stop offset="0.3074" stop-color="#0078ff"/><stop offset="0.3592" stop-color="#0048ff"/><stop offset="0.4401" stop-color="#002cff"/><stop offset="0.5049" stop-color="#001cff"/><stop offset="0.5372" stop-color="#0000ff"/><stop offset="0.6958" stop-color="#0000fa"/><stop offset="0.7120" stop-color="#0000ed"/><stop offset="0.7314" stop-color="#0000ff"/><stop offset="0.7638" stop-color="#0018ff"/><stop offset="0.8382" stop-color="#000cff"/><stop offset="0.9547" stop-color="#0014ff"/><stop offset="1.0000" stop-color="#0014ff"/></linearGradient><linearGradient id="g253" gradientUnits="userSpaceOnUse" x1="160.5" y1="0" x2="470.5" y2="0"><stop offset="0.0000" stop-color="#19ffde"/><stop offset="0.0806" stop-color="#30ffc7"/><stop offset="0.1161" stop-color="#1fffd7"/><stop offset="0.1516" stop-color="#0ff8e7"/><stop offset="0.1871" stop-color="#00d8ff"/><stop offset="0.2258" stop-color="#00bcff"/><stop offset="0.3129" stop-color="#0074ff"/><stop offset="0.3645" stop-color="#0044ff"/><stop offset="0.4710" stop-color="#0028ff"/><stop offset="0.5032" stop-color="#001cff"/><stop offset="0.5355" stop-color="#0000ff"/><stop offset="0.6968" stop-color="#0000fa"/><stop offset="0.7129" stop-color="#0000f1"/><stop offset="0.7226" stop-color="#0000ff"/><stop offset="0.7581" stop-color="#0018ff"/><stop offset="0.8226" stop-color="#0008ff"/><stop offset="0.9355" stop-color="#0014ff"/><stop offset="1.0000" stop-color="#0010ff"/></linearGradient><linearGradient id="g254" gradientUnits="userSpaceOnUse" x1="160.5" y1="0" x2="471.5" y2="0"><stop offset="0.0000" stop-color="#19ffde"/><stop offset="0.0804" stop-color="#33ffc4"/><stop offset="0.1190" stop-color="#23ffd4"/><stop offset="0.1576" stop-color="#0ff8e7"/><stop offset="0.1865" stop-color="#00dcfe"/><stop offset="0.2219" stop-color="#00c0ff"/><stop offset="0.2572" stop-color="#00acff"/><stop offset="0.3312" stop-color="#0068ff"/><stop offset="0.3730" stop-color="#0044ff"/><stop offset="0.4630" stop-color="#002cff"/><stop offset="0.5048" stop-color="#001cff"/><stop offset="0.5338" stop-color="#0000ff"/><stop offset="0.6977" stop-color="#0000fa"/><stop offset="0.7106" stop-color="#0000f1"/><stop offset="0.7267" stop-color="#0000ff"/><stop offset="0.7492" stop-color="#0014ff"/><stop offset="0.7717" stop-color="#0014ff"/><stop offset="0.8103" stop-color="#0004ff"/><stop offset="0.9164" stop-color="#0010ff"/><stop offset="1.0000" stop-color="#000cff"/></linearGradient><linearGradient id="g255" gradientUnits="userSpaceOnUse" x1="160.5" y1="0" x2="472.5" y2="0"><stop offset="0.0000" stop-color="#1cffdb"/><stop offset="0.0833" stop-color="#36ffc1"/><stop offset="0.1122" stop-color="#29ffce"/><stop offset="0.1538" stop-color="#16ffe1"/><stop offset="0.1891" stop-color="#00dcfe"/><stop offset="0.2212" stop-color="#00c8ff"/><stop offset="0.2564" stop-color="#00b4ff"/><stop offset="0.3269" stop-color="#0070ff"/><stop offset="0.3750" stop-color="#0044ff"/><stop offset="0.4968" stop-color="#0024ff"/><stop offset="0.5353" stop-color="#0000ff"/><stop offset="0.7019" stop-color="#0000fa"/><stop offset="0.7147" stop-color="#0000f6"/><stop offset="0.7244" stop-color="#0000ff"/><stop offset="0.7500" stop-color="#0014ff"/><stop offset="0.8141" stop-color="#0004ff"/><stop offset="0.9647" stop-color="#000cff"/><stop offset="1.0000" stop-color="#000cff"/></linearGradient><linearGradient id="g256" gradientUnits="userSpaceOnUse" x1="161.5" y1="0" x2="474.5" y2="0"><stop offset="0.0000" stop-color="#23ffd4"/><stop offset="0.0799" stop-color="#39ffbe"/><stop offset="0.1118" stop-color="#30ffc7"/><stop offset="0.1629" stop-color="#0ff8e7"/><stop offset="0.1917" stop-color="#00d8ff"/><stop offset="0.2236" stop-color="#00ccff"/><stop offset="0.2843" stop-color="#00a0ff"/><stop offset="0.3706" stop-color="#0048ff"/><stop offset="0.4952" stop-color="#0024ff"/><stop offset="0.5335" stop-color="#0000ff"/><stop offset="0.6997" stop-color="#0000fa"/><stop offset="0.7125" stop-color="#0000fa"/><stop offset="0.7252" stop-color="#0000ff"/><stop offset="0.7412" stop-color="#0014ff"/><stop offset="0.8083" stop-color="#0000ff"/><stop offset="0.9201" stop-color="#000cff"/><stop offset="1.0000" stop-color="#000cff"/></linearGradient><linearGradient id="g257" gradientUnits="userSpaceOnUse" x1="161.5" y1="0" x2="475.5" y2="0"><stop offset="0.0000" stop-color="#2cffca"/><stop offset="0.0541" stop-color="#39ffbe"/><stop offset="0.0796" stop-color="#3cffba"/><stop offset="0.1338" stop-color="#29ffce"/><stop offset="0.1656" stop-color="#0ff8e7"/><stop offset="0.1943" stop-color="#00dcfe"/><stop offset="0.2197" stop-color="#00d0ff"/><stop offset="0.2452" stop-color="#00c8ff"/><stop offset="0.3280" stop-color="#0078ff"/><stop offset="0.3758" stop-color="#0048ff"/><stop offset="0.4936" stop-color="#0028ff"/><stop offset="0.5318" stop-color="#0000ff"/><stop offset="0.7006" stop-color="#0000fa"/><stop offset="0.7102" stop-color="#0000fa"/><stop offset="0.7293" stop-color="#0008ff"/><stop offset="0.7452" stop-color="#0014ff"/><stop offset="0.7994" stop-color="#0000ff"/><stop offset="1.0000" stop-color="#000cff"/></linearGradient><linearGradient id="g258" gradientUnits="userSpaceOnUse" x1="162.5" y1="0" x2="477.5" y2="0"><stop offset="0.0000" stop-color="#3cffba"/><stop offset="0.0254" stop-color="#33ffc4"/><stop offset="0.0730" stop-color="#43ffb4"/><stop offset="0.1048" stop-color="#39ffbe"/><stop offset="0.1492" stop-color="#1cffdb"/><stop offset="0.1683" stop-color="#0cf4eb"/><stop offset="0.1968" stop-color="#00d8ff"/><stop offset="0.2349" stop-color="#00d4ff"/><stop offset="0.3111" stop-color="#008cff"/><stop offset="0.3778" stop-color="#0048ff"/><stop offset="0.4857" stop-color="#002cff"/><stop offset="0.5302" stop-color="#0000ff"/><stop offset="0.7206" stop-color="#0000ff"/><stop offset="0.7333" stop-color="#0010ff"/><stop offset="0.7937" stop-color="#0000ff"/><stop offset="0.9810" stop-color="#0008ff"/><stop offset="1.0000" stop-color="#000cff"/></linearGradient><linearGradient id="g259" gradientUnits="userSpaceOnUse" x1="162.5" y1="0" x2="478.5" y2="0"><stop offset="0.0000" stop-color="#46ffb1"/><stop offset="0.0222" stop-color="#36ffc1"/><stop offset="0.0728" stop-color="#46ffb1"/><stop offset="0.1297" stop-color="#30ffc7"/><stop offset="0.1677" stop-color="#0ff8e7"/><stop offset="0.1962" stop-color="#00e0fb"/><stop offset="0.2184" stop-color="#00d8ff"/><stop offset="0.2405" stop-color="#00d8ff"/><stop offset="0.3418" stop-color="#0070ff"/><stop offset="0.3829" stop-color="#0048ff"/><stop offset="0.4873" stop-color="#002cff"/><stop offset="0.5316" stop-color="#0000ff"/><stop offset="0.7215" stop-color="#0004ff"/><stop offset="0.7373" stop-color="#0010ff"/><stop offset="0.7880" stop-color="#0000ff"/><stop offset="0.9842" stop-color="#0008ff"/><stop offset="1.0000" stop-color="#000cff"/></linearGradient><linearGradient id="g260" gradientUnits="userSpaceOnUse" x1="162.5" y1="0" x2="479.5" y2="0"><stop offset="0.0000" stop-color="#4dffaa"/><stop offset="0.0221" stop-color="#3cffba"/><stop offset="0.0726" stop-color="#49ffad"/><stop offset="0.1262" stop-color="#36ffc1"/><stop offset="0.1703" stop-color="#0ff8e7"/><stop offset="0.2050" stop-color="#00dcfe"/><stop offset="0.2429" stop-color="#00dcfe"/><stop offset="0.3312" stop-color="#0080ff"/><stop offset="0.3880" stop-color="#0048ff"/><stop offset="0.4858" stop-color="#0030ff"/><stop offset="0.5300" stop-color="#0000ff"/><stop offset="0.6814" stop-color="#0004ff"/><stop offset="0.7192" stop-color="#0000ff"/><stop offset="0.7350" stop-color="#0010ff"/><stop offset="0.7792" stop-color="#0000ff"/><stop offset="0.9748" stop-color="#0004ff"/><stop offset="1.0000" stop-color="#000cff"/></linearGradient><linearGradient id="g261" gradientUnits="userSpaceOnUse" x1="163.5" y1="0" x2="481.5" y2="0"><stop offset="0.0000" stop-color="#50ffa7"/><stop offset="0.0189" stop-color="#40ffb7"/><stop offset="0.0723" stop-color="#4dffaa"/><stop offset="0.1226" stop-color="#39ffbe"/><stop offset="0.1698" stop-color="#0ff8e7"/><stop offset="0.2107" stop-color="#00e0fb"/><stop offset="0.2358" stop-color="#00e4f8"/><stop offset="0.3082" stop-color="#009cff"/><stop offset="0.3836" stop-color="#004cff"/><stop offset="0.4780" stop-color="#0034ff"/><stop offset="0.5252" stop-color="#0004ff"/><stop offset="0.6824" stop-color="#0004ff"/><stop offset="0.7170" stop-color="#0004ff"/><stop offset="0.7358" stop-color="#000cff"/><stop offset="0.7799" stop-color="#0000ff"/><stop offset="0.9780" stop-color="#0004ff"/><stop offset="1.0000" stop-color="#0008ff"/></linearGradient><linearGradient id="g262" gradientUnits="userSpaceOnUse" x1="163.5" y1="0" x2="482.5" y2="0"><stop offset="0.0000" stop-color="#50ffa7"/><stop offset="0.0219" stop-color="#46ffb1"/><stop offset="0.0721" stop-color="#50ffa7"/><stop offset="0.1223" stop-color="#3cffba"/><stop offset="0.1755" stop-color="#0ff8e7"/><stop offset="0.2100" stop-color="#00e4f8"/><stop offset="0.2351" stop-color="#06ecf1"/><stop offset="0.2727" stop-color="#00c8ff"/><stop offset="0.3824" stop-color="#0050ff"/><stop offset="0.4796" stop-color="#0034ff"/><stop offset="0.5235" stop-color="#0008ff"/><stop offset="0.5987" stop-color="#0008ff"/><stop offset="0.6834" stop-color="#0004ff"/><stop offset="0.7179" stop-color="#0004ff"/><stop offset="0.7335" stop-color="#000cff"/><stop offset="0.7774" stop-color="#0000ff"/><stop offset="0.9812" stop-color="#0004ff"/><stop offset="0.9969" stop-color="#0004ff"/><stop offset="1.0000" stop-color="#0000ff"/></linearGradient><linearGradient id="g263" gradientUnits="userSpaceOnUse" x1="164.5" y1="0" x2="484.5" y2="0"><stop offset="0.0000" stop-color="#4dffaa"/><stop offset="0.0437" stop-color="#50ffa7"/><stop offset="0.0781" stop-color="#53ffa4"/><stop offset="0.1219" stop-color="#3cffba"/><stop offset="0.1781" stop-color="#0ff8e7"/><stop offset="0.2062" stop-color="#02e8f4"/><stop offset="0.2344" stop-color="#09f0ee"/><stop offset="0.2687" stop-color="#00d0ff"/><stop offset="0.3781" stop-color="#0054ff"/><stop offset="0.4750" stop-color="#0038ff"/><stop offset="0.5219" stop-color="#0008ff"/><stop offset="0.6781" stop-color="#0008ff"/><stop offset="0.7031" stop-color="#0000ff"/><stop offset="0.7281" stop-color="#000cff"/><stop offset="0.7719" stop-color="#0000ff"/><stop offset="1.0000" stop-color="#0000ff"/></linearGradient><linearGradient id="g264" gradientUnits="userSpaceOnUse" x1="164.5" y1="0" x2="485.5" y2="0"><stop offset="0.0000" stop-color="#4dffaa"/><stop offset="0.0717" stop-color="#56ffa0"/><stop offset="0.1153" stop-color="#46ffb1"/><stop offset="0.1807" stop-color="#0ff8e7"/><stop offset="0.2056" stop-color="#06ecf1"/><stop offset="0.2336" stop-color="#0ff8e7"/><stop offset="0.2679" stop-color="#00d4ff"/><stop offset="0.3738" stop-color="#005cff"/><stop offset="0.4206" stop-color="#0048ff"/><stop offset="0.4704" stop-color="#003cff"/><stop offset="0.5202" stop-color="#000cff"/><stop offset="0.5794" stop-color="#000cff"/><stop offset="0.6791" stop-color="#0008ff"/><stop offset="0.7040" stop-color="#0000ff"/><stop offset="0.7352" stop-color="#0008ff"/><stop offset="0.7882" stop-color="#0000ff"/><stop offset="1.0000" stop-color="#0000ff"/></linearGradient><linearGradient id="g265" gradientUnits="userSpaceOnUse" x1="164.5" y1="0" x2="486.5" y2="0"><stop offset="0.0000" stop-color="#4dffaa"/><stop offset="0.0714" stop-color="#5dff9a"/><stop offset="0.1180" stop-color="#46ffb1"/><stop offset="0.1801" stop-color="#13fce4"/><stop offset="0.2050" stop-color="#09f0ee"/><stop offset="0.2360" stop-color="#13fce4"/><stop offset="0.2671" stop-color="#00d8ff"/><stop offset="0.3696" stop-color="#0064ff"/><stop offset="0.4224" stop-color="#0048ff"/><stop offset="0.4720" stop-color="#003cff"/><stop offset="0.5186" stop-color="#0010ff"/><stop offset="0.5683" stop-color="#0010ff"/><stop offset="0.6522" stop-color="#0008ff"/><stop offset="0.6801" stop-color="#0008ff"/><stop offset="0.7050" stop-color="#0000ff"/><stop offset="0.7329" stop-color="#0008ff"/><stop offset="0.7857" stop-color="#0000ff"/><stop offset="1.0000" stop-color="#0000ff"/></linearGradient><linearGradient id="g266" gradientUnits="userSpaceOnUse" x1="165.5" y1="0" x2="488.5" y2="0"><stop offset="0.0000" stop-color="#4dffaa"/><stop offset="0.0619" stop-color="#60ff97"/><stop offset="0.1115" stop-color="#4dffaa"/><stop offset="0.1703" stop-color="#19ffde"/><stop offset="0.2043" stop-color="#0ff8e7"/><stop offset="0.2384" stop-color="#13fce4"/><stop offset="0.2632" stop-color="#00e0fb"/><stop offset="0.3560" stop-color="#0070ff"/><stop offset="0.3901" stop-color="#0058ff"/><stop offset="0.4303" stop-color="#0048ff"/><stop offset="0.4675" stop-color="#0040ff"/><stop offset="0.5108" stop-color="#0014ff"/><stop offset="0.5542" stop-color="#0014ff"/><stop offset="0.6347" stop-color="#0008ff"/><stop offset="0.6749" stop-color="#000cff"/><stop offset="0.6935" stop-color="#0000ff"/><stop offset="0.7307" stop-color="#0004ff"/><stop offset="1.0000" stop-color="#0000ff"/></linearGradient><linearGradient id="g267" gradientUnits="userSpaceOnUse" x1="165.5" y1="0" x2="489.5" y2="0"><stop offset="0.0000" stop-color="#4dffaa"/><stop offset="0.0586" stop-color="#66ff90"/><stop offset="0.1142" stop-color="#4dffaa"/><stop offset="0.1698" stop-color="#1cffdb"/><stop offset="0.2037" stop-color="#13fce4"/><stop offset="0.2346" stop-color="#16ffe1"/><stop offset="0.2716" stop-color="#00d8ff"/><stop offset="0.3519" stop-color="#0078ff"/><stop offset="0.3920" stop-color="#005cff"/><stop offset="0.4198" stop-color="#004cff"/><stop offset="0.4660" stop-color="#0040ff"/><stop offset="0.5093" stop-color="#0018ff"/><stop offset="0.5741" stop-color="#0010ff"/><stop offset="0.6358" stop-color="#0008ff"/><stop offset="0.6759" stop-color="#000cff"/><stop offset="0.6944" stop-color="#0000ff"/><stop offset="0.7315" stop-color="#0004ff"/><stop offset="1.0000" stop-color="#0000ff"/></linearGradient><linearGradient id="g268" gradientUnits="userSpaceOnUse" x1="166.5" y1="0" x2="491.5" y2="0"><stop offset="0.0000" stop-color="#50ffa7"/><stop offset="0.0462" stop-color="#66ff90"/><stop offset="0.1046" stop-color="#56ffa0"/><stop offset="0.1569" stop-color="#26ffd1"/><stop offset="0.1969" stop-color="#13fce4"/><stop offset="0.2338" stop-color="#16ffe1"/><stop offset="0.2708" stop-color="#00d8ff"/><stop offset="0.3446" stop-color="#0080ff"/><stop offset="0.3908" stop-color="#0060ff"/><stop offset="0.4185" stop-color="#004cff"/><stop offset="0.4646" stop-color="#0040ff"/><stop offset="0.5046" stop-color="#001cff"/><stop offset="0.6246" stop-color="#0008ff"/><stop offset="0.6738" stop-color="#000cff"/><stop offset="0.6923" stop-color="#0000ff"/><stop offset="1.0000" stop-color="#0000ff"/></linearGradient><linearGradient id="g269" gradientUnits="userSpaceOnUse" x1="166.5" y1="0" x2="492.5" y2="0"><stop offset="0.0000" stop-color="#56ffa0"/><stop offset="0.0552" stop-color="#6aff8d"/><stop offset="0.1074" stop-color="#56ffa0"/><stop offset="0.1564" stop-color="#29ffce"/><stop offset="0.1994" stop-color="#19ffde"/><stop offset="0.2393" stop-color="#16ffe1"/><stop offset="0.2730" stop-color="#00d8ff"/><stop offset="0.3405" stop-color="#0088ff"/><stop offset="0.3804" stop-color="#0070ff"/><stop offset="0.4202" stop-color="#004cff"/><stop offset="0.4632" stop-color="#0044ff"/><stop offset="0.5061" stop-color="#001cff"/><stop offset="0.5491" stop-color="#0018ff"/><stop offset="0.6227" stop-color="#000cff"/><stop offset="0.6718" stop-color="#000cff"/><stop offset="0.6963" stop-color="#0000ff"/><stop offset="1.0000" stop-color="#0000ff"/></linearGradient><linearGradient id="g270" gradientUnits="userSpaceOnUse" x1="166.5" y1="0" x2="493.5" y2="0"><stop offset="0.0000" stop-color="#5dff9a"/><stop offset="0.0550" stop-color="#6aff8d"/><stop offset="0.1101" stop-color="#56ffa0"/><stop offset="0.1560" stop-color="#2cffca"/><stop offset="0.1988" stop-color="#1cffdb"/><stop offset="0.2477" stop-color="#13fce4"/><stop offset="0.2722" stop-color="#00dcfe"/><stop offset="0.3364" stop-color="#0090ff"/><stop offset="0.3853" stop-color="#0070ff"/><stop offset="0.4251" stop-color="#004cff"/><stop offset="0.4618" stop-color="#0044ff"/><stop offset="0.5076" stop-color="#0020ff"/><stop offset="0.6239" stop-color="#000cff"/><stop offset="0.6758" stop-color="#0008ff"/><stop offset="0.7064" stop-color="#0000ff"/><stop offset="1.0000" stop-color="#0000ff"/></linearGradient><linearGradient id="g271" gradientUnits="userSpaceOnUse" x1="167.5" y1="0" x2="495.5" y2="0"><stop offset="0.0000" stop-color="#66ff90"/><stop offset="0.0884" stop-color="#63ff94"/><stop offset="0.1646" stop-color="#29ffce"/><stop offset="0.1982" stop-color="#1fffd7"/><stop offset="0.2500" stop-color="#0ff8e7"/><stop offset="0.2744" stop-color="#00d8ff"/><stop offset="0.3293" stop-color="#0098ff"/><stop offset="0.3811" stop-color="#0078ff"/><stop offset="0.4238" stop-color="#004cff"/><stop offset="0.4634" stop-color="#0040ff"/><stop offset="0.5030" stop-color="#0024ff"/><stop offset="0.6159" stop-color="#000cff"/><stop offset="0.6738" stop-color="#0008ff"/><stop offset="0.6982" stop-color="#0000ff"/><stop offset="1.0000" stop-color="#0000ff"/></linearGradient><linearGradient id="g272" gradientUnits="userSpaceOnUse" x1="167.5" y1="0" x2="496.5" y2="0"><stop offset="0.0000" stop-color="#6aff8d"/><stop offset="0.0942" stop-color="#60ff97"/><stop offset="0.1763" stop-color="#26ffd1"/><stop offset="0.2523" stop-color="#0ff8e7"/><stop offset="0.2766" stop-color="#00d8ff"/><stop offset="0.3252" stop-color="#00a0ff"/><stop offset="0.3860" stop-color="#0078ff"/><stop offset="0.4286" stop-color="#004cff"/><stop offset="0.4742" stop-color="#0038ff"/><stop offset="0.5106" stop-color="#0024ff"/><stop offset="0.6170" stop-color="#000cff"/><stop offset="0.6778" stop-color="#0004ff"/><stop offset="1.0000" stop-color="#0000ff"/></linearGradient><linearGradient id="g273" gradientUnits="userSpaceOnUse" x1="168.5" y1="0" x2="498.5" y2="0"><stop offset="0.0000" stop-color="#6aff8d"/><stop offset="0.0970" stop-color="#5dff9a"/><stop offset="0.1879" stop-color="#23ffd4"/><stop offset="0.2515" stop-color="#0ff8e7"/><stop offset="0.2758" stop-color="#00d8ff"/><stop offset="0.3121" stop-color="#00acff"/><stop offset="0.3788" stop-color="#0080ff"/><stop offset="0.4273" stop-color="#004cff"/><stop offset="0.4879" stop-color="#002cff"/><stop offset="0.5909" stop-color="#0010ff"/><stop offset="0.7333" stop-color="#0000ff"/><stop offset="1.0000" stop-color="#0000ff"/></linearGradient><linearGradient id="g274" gradientUnits="userSpaceOnUse" x1="200.5" y1="0" x2="499.5" y2="0"><stop offset="0.0000" stop-color="#5dff9a"/><stop offset="0.0635" stop-color="#39ffbe"/><stop offset="0.0870" stop-color="#29ffce"/><stop offset="0.1706" stop-color="#0ff8e7"/><stop offset="0.2007" stop-color="#00d4ff"/><stop offset="0.2441" stop-color="#00acff"/><stop offset="0.3110" stop-color="#0084ff"/><stop offset="0.3645" stop-color="#004cff"/><stop offset="0.4716" stop-color="#0020ff"/><stop offset="0.6656" stop-color="#0000ff"/><stop offset="1.0000" stop-color="#0000ff"/></linearGradient><linearGradient id="g275" gradientUnits="userSpaceOnUse" x1="244.5" y1="0" x2="500.5" y2="0"><stop offset="0.0000" stop-color="#13fce4"/><stop offset="0.0430" stop-color="#09f0ee"/><stop offset="0.0664" stop-color="#00ccff"/><stop offset="0.1445" stop-color="#00a0ff"/><stop offset="0.2109" stop-color="#0078ff"/><stop offset="0.2305" stop-color="#005cff"/><stop offset="0.3516" stop-color="#0028ff"/><stop offset="0.4922" stop-color="#000cff"/><stop offset="0.6523" stop-color="#0000ff"/><stop offset="1.0000" stop-color="#0000ff"/></linearGradient><linearGradient id="g276" gradientUnits="userSpaceOnUse" x1="288.5" y1="0" x2="502.5" y2="0"><stop offset="0.0000" stop-color="#0094ff"/><stop offset="0.0467" stop-color="#007cff"/><stop offset="0.0654" stop-color="#005cff"/><stop offset="0.2150" stop-color="#0028ff"/><stop offset="0.4065" stop-color="#0008ff"/><stop offset="0.6449" stop-color="#0000ff"/><stop offset="1.0000" stop-color="#0000ff"/></linearGradient><linearGradient id="g277" gradientUnits="userSpaceOnUse" x1="333.5" y1="0" x2="503.5" y2="0"><stop offset="0.0000" stop-color="#0028ff"/><stop offset="0.2706" stop-color="#0004ff"/><stop offset="1.0000" stop-color="#0000ff"/></linearGradient><linearGradient id="g278" gradientUnits="userSpaceOnUse" x1="377.5" y1="0" x2="504.5" y2="0"><stop offset="0.0000" stop-color="#0004ff"/><stop offset="1.0000" stop-color="#0000ff"/></linearGradient><linearGradient id="g279" gradientUnits="userSpaceOnUse" x1="421.5" y1="0" x2="506.5" y2="0"><stop offset="0.0000" stop-color="#0000ff"/><stop offset="1.0000" stop-color="#0000ff"/></linearGradient><linearGradient id="g280" gradientUnits="userSpaceOnUse" x1="465.5" y1="0" x2="507.5" y2="0"><stop offset="0.0000" stop-color="#0000ff"/><stop offset="1.0000" stop-color="#0000ff"/></linearGradient></defs><g clip-path="url(#hull)" shape-rendering="crispEdges"><rect x="108.5" y="152" width="8.0" height="1.6" fill="url(#g1)"/><rect x="108.5" y="153" width="10.0" height="1.6" fill="url(#g2)"/><rect x="108.5" y="154" width="12.0" height="1.6" fill="url(#g3)"/><rect x="108.5" y="155" width="14.0" height="1.6" fill="url(#g4)"/><rect x="109.5" y="156" width="15.0" height="1.6" fill="url(#g5)"/><rect x="109.5" y="157" width="17.0" height="1.6" fill="url(#g6)"/><rect x="109.5" y="158" width="18.0" height="1.6" fill="url(#g7)"/><rect x="109.5" y="159" width="19.0" height="1.6" fill="url(#g8)"/><rect x="109.5" y="160" width="21.0" height="1.6" fill="url(#g9)"/><rect x="110.5" y="161" width="21.0" height="1.6" fill="url(#g10)"/><rect x="110.5" y="162" width="23.0" height="1.6" fill="url(#g11)"/><rect x="110.5" y="163" width="24.0" height="1.6" fill="url(#g12)"/><rect x="110.5" y="164" width="25.0" height="1.6" fill="url(#g13)"/><rect x="110.5" y="165" width="27.0" height="1.6" fill="url(#g14)"/><rect x="110.5" y="166" width="28.0" height="1.6" fill="url(#g15)"/><rect x="111.5" y="167" width="29.0" height="1.6" fill="url(#g16)"/><rect x="111.5" y="168" width="30.0" height="1.6" fill="url(#g17)"/><rect x="111.5" y="169" width="31.0" height="1.6" fill="url(#g18)"/><rect x="111.5" y="170" width="33.0" height="1.6" fill="url(#g19)"/><rect x="111.5" y="171" width="34.0" height="1.6" fill="url(#g20)"/><rect x="112.5" y="172" width="35.0" height="1.6" fill="url(#g21)"/><rect x="112.5" y="173" width="36.0" height="1.6" fill="url(#g22)"/><rect x="112.5" y="174" width="37.0" height="1.6" fill="url(#g23)"/><rect x="112.5" y="175" width="39.0" height="1.6" fill="url(#g24)"/><rect x="112.5" y="176" width="40.0" height="1.6" fill="url(#g25)"/><rect x="112.5" y="177" width="41.0" height="1.6" fill="url(#g26)"/><rect x="113.5" y="178" width="42.0" height="1.6" fill="url(#g27)"/><rect x="113.5" y="179" width="43.0" height="1.6" fill="url(#g28)"/><rect x="113.5" y="180" width="45.0" height="1.6" fill="url(#g29)"/><rect x="113.5" y="181" width="46.0" height="1.6" fill="url(#g30)"/><rect x="113.5" y="182" width="47.0" height="1.6" fill="url(#g31)"/><rect x="114.5" y="183" width="48.0" height="1.6" fill="url(#g32)"/><rect x="114.5" y="184" width="49.0" height="1.6" fill="url(#g33)"/><rect x="114.5" y="185" width="51.0" height="1.6" fill="url(#g34)"/><rect x="114.5" y="186" width="52.0" height="1.6" fill="url(#g35)"/><rect x="114.5" y="187" width="53.0" height="1.6" fill="url(#g36)"/><rect x="114.5" y="188" width="55.0" height="1.6" fill="url(#g37)"/><rect x="115.5" y="189" width="55.0" height="1.6" fill="url(#g38)"/><rect x="115.5" y="190" width="57.0" height="1.6" fill="url(#g39)"/><rect x="115.5" y="191" width="58.0" height="1.6" fill="url(#g40)"/><rect x="115.5" y="192" width="59.0" height="1.6" fill="url(#g41)"/><rect x="115.5" y="193" width="61.0" height="1.6" fill="url(#g42)"/><rect x="116.5" y="194" width="61.0" height="1.6" fill="url(#g43)"/><rect x="116.5" y="195" width="63.0" height="1.6" fill="url(#g44)"/><rect x="116.5" y="196" width="64.0" height="1.6" fill="url(#g45)"/><rect x="116.5" y="197" width="65.0" height="1.6" fill="url(#g46)"/><rect x="116.5" y="198" width="67.0" height="1.6" fill="url(#g47)"/><rect x="116.5" y="199" width="68.0" height="1.6" fill="url(#g48)"/><rect x="117.5" y="200" width="69.0" height="1.6" fill="url(#g49)"/><rect x="117.5" y="201" width="70.0" height="1.6" fill="url(#g50)"/><rect x="117.5" y="202" width="71.0" height="1.6" fill="url(#g51)"/><rect x="117.5" y="203" width="73.0" height="1.6" fill="url(#g52)"/><rect x="117.5" y="204" width="74.0" height="1.6" fill="url(#g53)"/><rect x="118.5" y="205" width="74.0" height="1.6" fill="url(#g54)"/><rect x="118.5" y="206" width="76.0" height="1.6" fill="url(#g55)"/><rect x="118.5" y="207" width="77.0" height="1.6" fill="url(#g56)"/><rect x="118.5" y="208" width="79.0" height="1.6" fill="url(#g57)"/><rect x="118.5" y="209" width="80.0" height="1.6" fill="url(#g58)"/><rect x="118.5" y="210" width="81.0" height="1.6" fill="url(#g59)"/><rect x="119.5" y="211" width="82.0" height="1.6" fill="url(#g60)"/><rect x="119.5" y="212" width="83.0" height="1.6" fill="url(#g61)"/><rect x="119.5" y="213" width="85.0" height="1.6" fill="url(#g62)"/><rect x="119.5" y="214" width="86.0" height="1.6" fill="url(#g63)"/><rect x="119.5" y="215" width="87.0" height="1.6" fill="url(#g64)"/><rect x="120.5" y="216" width="88.0" height="1.6" fill="url(#g65)"/><rect x="120.5" y="217" width="89.0" height="1.6" fill="url(#g66)"/><rect x="120.5" y="218" width="91.0" height="1.6" fill="url(#g67)"/><rect x="120.5" y="219" width="92.0" height="1.6" fill="url(#g68)"/><rect x="120.5" y="220" width="93.0" height="1.6" fill="url(#g69)"/><rect x="120.5" y="221" width="95.0" height="1.6" fill="url(#g70)"/><rect x="121.5" y="222" width="95.0" height="1.6" fill="url(#g71)"/><rect x="121.5" y="223" width="97.0" height="1.6" fill="url(#g72)"/><rect x="121.5" y="224" width="98.0" height="1.6" fill="url(#g73)"/><rect x="121.5" y="225" width="99.0" height="1.6" fill="url(#g74)"/><rect x="121.5" y="226" width="101.0" height="1.6" fill="url(#g75)"/><rect x="122.5" y="227" width="101.0" height="1.6" fill="url(#g76)"/><rect x="122.5" y="228" width="103.0" height="1.6" fill="url(#g77)"/><rect x="122.5" y="229" width="104.0" height="1.6" fill="url(#g78)"/><rect x="122.5" y="230" width="105.0" height="1.6" fill="url(#g79)"/><rect x="122.5" y="231" width="107.0" height="1.6" fill="url(#g80)"/><rect x="123.5" y="232" width="107.0" height="1.6" fill="url(#g81)"/><rect x="123.5" y="233" width="108.0" height="1.6" fill="url(#g82)"/><rect x="123.5" y="234" width="110.0" height="1.6" fill="url(#g83)"/><rect x="123.5" y="235" width="111.0" height="1.6" fill="url(#g84)"/><rect x="123.5" y="236" width="113.0" height="1.6" fill="url(#g85)"/><rect x="123.5" y="237" width="114.0" height="1.6" fill="url(#g86)"/><rect x="124.5" y="238" width="114.0" height="1.6" fill="url(#g87)"/><rect x="124.5" y="239" width="116.0" height="1.6" fill="url(#g88)"/><rect x="124.5" y="240" width="117.0" height="1.6" fill="url(#g89)"/><rect x="124.5" y="241" width="119.0" height="1.6" fill="url(#g90)"/><rect x="124.5" y="242" width="120.0" height="1.6" fill="url(#g91)"/><rect x="125.5" y="243" width="120.0" height="1.6" fill="url(#g92)"/><rect x="125.5" y="244" width="122.0" height="1.6" fill="url(#g93)"/><rect x="125.5" y="245" width="123.0" height="1.6" fill="url(#g94)"/><rect x="125.5" y="246" width="125.0" height="1.6" fill="url(#g95)"/><rect x="125.5" y="247" width="126.0" height="1.6" fill="url(#g96)"/><rect x="125.5" y="248" width="127.0" height="1.6" fill="url(#g97)"/><rect x="126.5" y="249" width="128.0" height="1.6" fill="url(#g98)"/><rect x="126.5" y="250" width="129.0" height="1.6" fill="url(#g99)"/><rect x="126.5" y="251" width="131.0" height="1.6" fill="url(#g100)"/><rect x="126.5" y="252" width="132.0" height="1.6" fill="url(#g101)"/><rect x="126.5" y="253" width="133.0" height="1.6" fill="url(#g102)"/><rect x="127.5" y="254" width="134.0" height="1.6" fill="url(#g103)"/><rect x="127.5" y="255" width="135.0" height="1.6" fill="url(#g104)"/><rect x="127.5" y="256" width="137.0" height="1.6" fill="url(#g105)"/><rect x="127.5" y="257" width="138.0" height="1.6" fill="url(#g106)"/><rect x="127.5" y="258" width="139.0" height="1.6" fill="url(#g107)"/><rect x="127.5" y="259" width="141.0" height="1.6" fill="url(#g108)"/><rect x="128.5" y="260" width="141.0" height="1.6" fill="url(#g109)"/><rect x="128.5" y="261" width="142.0" height="1.6" fill="url(#g110)"/><rect x="128.5" y="262" width="144.0" height="1.6" fill="url(#g111)"/><rect x="128.5" y="263" width="145.0" height="1.6" fill="url(#g112)"/><rect x="128.5" y="264" width="147.0" height="1.6" fill="url(#g113)"/><rect x="129.5" y="265" width="147.0" height="1.6" fill="url(#g114)"/><rect x="129.5" y="266" width="148.0" height="1.6" fill="url(#g115)"/><rect x="129.5" y="267" width="150.0" height="1.6" fill="url(#g116)"/><rect x="129.5" y="268" width="151.0" height="1.6" fill="url(#g117)"/><rect x="129.5" y="269" width="153.0" height="1.6" fill="url(#g118)"/><rect x="129.5" y="270" width="154.0" height="1.6" fill="url(#g119)"/><rect x="130.5" y="271" width="154.0" height="1.6" fill="url(#g120)"/><rect x="130.5" y="272" width="156.0" height="1.6" fill="url(#g121)"/><rect x="130.5" y="273" width="157.0" height="1.6" fill="url(#g122)"/><rect x="130.5" y="274" width="159.0" height="1.6" fill="url(#g123)"/><rect x="130.5" y="275" width="160.0" height="1.6" fill="url(#g124)"/><rect x="131.5" y="276" width="160.0" height="1.6" fill="url(#g125)"/><rect x="131.5" y="277" width="162.0" height="1.6" fill="url(#g126)"/><rect x="131.5" y="278" width="163.0" height="1.6" fill="url(#g127)"/><rect x="131.5" y="279" width="165.0" height="1.6" fill="url(#g128)"/><rect x="131.5" y="280" width="166.0" height="1.6" fill="url(#g129)"/><rect x="131.5" y="281" width="167.0" height="1.6" fill="url(#g130)"/><rect x="132.5" y="282" width="168.0" height="1.6" fill="url(#g131)"/><rect x="132.5" y="283" width="169.0" height="1.6" fill="url(#g132)"/><rect x="132.5" y="284" width="171.0" height="1.6" fill="url(#g133)"/><rect x="132.5" y="285" width="172.0" height="1.6" fill="url(#g134)"/><rect x="132.5" y="286" width="173.0" height="1.6" fill="url(#g135)"/><rect x="133.5" y="287" width="174.0" height="1.6" fill="url(#g136)"/><rect x="133.5" y="288" width="175.0" height="1.6" fill="url(#g137)"/><rect x="133.5" y="289" width="176.0" height="1.6" fill="url(#g138)"/><rect x="133.5" y="290" width="178.0" height="1.6" fill="url(#g139)"/><rect x="133.5" y="291" width="179.0" height="1.6" fill="url(#g140)"/><rect x="133.5" y="292" width="181.0" height="1.6" fill="url(#g141)"/><rect x="134.5" y="293" width="181.0" height="1.6" fill="url(#g142)"/><rect x="134.5" y="294" width="182.0" height="1.6" fill="url(#g143)"/><rect x="134.5" y="295" width="184.0" height="1.6" fill="url(#g144)"/><rect x="134.5" y="296" width="185.0" height="1.6" fill="url(#g145)"/><rect x="134.5" y="297" width="187.0" height="1.6" fill="url(#g146)"/><rect x="135.5" y="298" width="187.0" height="1.6" fill="url(#g147)"/><rect x="135.5" y="299" width="188.0" height="1.6" fill="url(#g148)"/><rect x="135.5" y="300" width="190.0" height="1.6" fill="url(#g149)"/><rect x="135.5" y="301" width="191.0" height="1.6" fill="url(#g150)"/><rect x="135.5" y="302" width="193.0" height="1.6" fill="url(#g151)"/><rect x="135.5" y="303" width="194.0" height="1.6" fill="url(#g152)"/><rect x="136.5" y="304" width="194.0" height="1.6" fill="url(#g153)"/><rect x="136.5" y="305" width="196.0" height="1.6" fill="url(#g154)"/><rect x="136.5" y="306" width="197.0" height="1.6" fill="url(#g155)"/><rect x="136.5" y="307" width="199.0" height="1.6" fill="url(#g156)"/><rect x="136.5" y="308" width="200.0" height="1.6" fill="url(#g157)"/><rect x="137.5" y="309" width="200.0" height="1.6" fill="url(#g158)"/><rect x="137.5" y="310" width="202.0" height="1.6" fill="url(#g159)"/><rect x="137.5" y="311" width="203.0" height="1.6" fill="url(#g160)"/><rect x="137.5" y="312" width="205.0" height="1.6" fill="url(#g161)"/><rect x="137.5" y="313" width="206.0" height="1.6" fill="url(#g162)"/><rect x="137.5" y="314" width="207.0" height="1.6" fill="url(#g163)"/><rect x="138.5" y="315" width="208.0" height="1.6" fill="url(#g164)"/><rect x="138.5" y="316" width="209.0" height="1.6" fill="url(#g165)"/><rect x="138.5" y="317" width="210.0" height="1.6" fill="url(#g166)"/><rect x="138.5" y="318" width="212.0" height="1.6" fill="url(#g167)"/><rect x="138.5" y="319" width="213.0" height="1.6" fill="url(#g168)"/><rect x="139.5" y="320" width="214.0" height="1.6" fill="url(#g169)"/><rect x="139.5" y="321" width="215.0" height="1.6" fill="url(#g170)"/><rect x="139.5" y="322" width="216.0" height="1.6" fill="url(#g171)"/><rect x="139.5" y="323" width="218.0" height="1.6" fill="url(#g172)"/><rect x="139.5" y="324" width="219.0" height="1.6" fill="url(#g173)"/><rect x="139.5" y="325" width="221.0" height="1.6" fill="url(#g174)"/><rect x="140.5" y="326" width="221.0" height="1.6" fill="url(#g175)"/><rect x="140.5" y="327" width="222.0" height="1.6" fill="url(#g176)"/><rect x="140.5" y="328" width="224.0" height="1.6" fill="url(#g177)"/><rect x="140.5" y="329" width="225.0" height="1.6" fill="url(#g178)"/><rect x="140.5" y="330" width="227.0" height="1.6" fill="url(#g179)"/><rect x="141.5" y="331" width="227.0" height="1.6" fill="url(#g180)"/><rect x="141.5" y="332" width="228.0" height="1.6" fill="url(#g181)"/><rect x="141.5" y="333" width="230.0" height="1.6" fill="url(#g182)"/><rect x="141.5" y="334" width="231.0" height="1.6" fill="url(#g183)"/><rect x="141.5" y="335" width="233.0" height="1.6" fill="url(#g184)"/><rect x="142.5" y="336" width="233.0" height="1.6" fill="url(#g185)"/><rect x="142.5" y="337" width="234.0" height="1.6" fill="url(#g186)"/><rect x="142.5" y="338" width="236.0" height="1.6" fill="url(#g187)"/><rect x="142.5" y="339" width="237.0" height="1.6" fill="url(#g188)"/><rect x="142.5" y="340" width="239.0" height="1.6" fill="url(#g189)"/><rect x="142.5" y="341" width="240.0" height="1.6" fill="url(#g190)"/><rect x="143.5" y="342" width="240.0" height="1.6" fill="url(#g191)"/><rect x="143.5" y="343" width="242.0" height="1.6" fill="url(#g192)"/><rect x="143.5" y="344" width="243.0" height="1.6" fill="url(#g193)"/><rect x="143.5" y="345" width="244.0" height="1.6" fill="url(#g194)"/><rect x="143.5" y="346" width="246.0" height="1.6" fill="url(#g195)"/><rect x="144.5" y="347" width="246.0" height="1.6" fill="url(#g196)"/><rect x="144.5" y="348" width="248.0" height="1.6" fill="url(#g197)"/><rect x="144.5" y="349" width="249.0" height="1.6" fill="url(#g198)"/><rect x="144.5" y="350" width="250.0" height="1.6" fill="url(#g199)"/><rect x="144.5" y="351" width="252.0" height="1.6" fill="url(#g200)"/><rect x="144.5" y="352" width="253.0" height="1.6" fill="url(#g201)"/><rect x="145.5" y="353" width="254.0" height="1.6" fill="url(#g202)"/><rect x="145.5" y="354" width="255.0" height="1.6" fill="url(#g203)"/><rect x="145.5" y="355" width="256.0" height="1.6" fill="url(#g204)"/><rect x="145.5" y="356" width="258.0" height="1.6" fill="url(#g205)"/><rect x="145.5" y="357" width="259.0" height="1.6" fill="url(#g206)"/><rect x="146.5" y="358" width="260.0" height="1.6" fill="url(#g207)"/><rect x="146.5" y="359" width="261.0" height="1.6" fill="url(#g208)"/><rect x="146.5" y="360" width="262.0" height="1.6" fill="url(#g209)"/><rect x="146.5" y="361" width="264.0" height="1.6" fill="url(#g210)"/><rect x="146.5" y="362" width="265.0" height="1.6" fill="url(#g211)"/><rect x="146.5" y="363" width="267.0" height="1.6" fill="url(#g212)"/><rect x="147.5" y="364" width="267.0" height="1.6" fill="url(#g213)"/><rect x="147.5" y="365" width="268.0" height="1.6" fill="url(#g214)"/><rect x="147.5" y="366" width="270.0" height="1.6" fill="url(#g215)"/><rect x="147.5" y="367" width="271.0" height="1.6" fill="url(#g216)"/><rect x="147.5" y="368" width="273.0" height="1.6" fill="url(#g217)"/><rect x="148.5" y="369" width="273.0" height="1.6" fill="url(#g218)"/><rect x="148.5" y="370" width="274.0" height="1.6" fill="url(#g219)"/><rect x="148.5" y="371" width="276.0" height="1.6" fill="url(#g220)"/><rect x="148.5" y="372" width="277.0" height="1.6" fill="url(#g221)"/><rect x="148.5" y="373" width="278.0" height="1.6" fill="url(#g222)"/><rect x="148.5" y="374" width="280.0" height="1.6" fill="url(#g223)"/><rect x="149.5" y="375" width="280.0" height="1.6" fill="url(#g224)"/><rect x="149.5" y="376" width="282.0" height="1.6" fill="url(#g225)"/><rect x="149.5" y="377" width="283.0" height="1.6" fill="url(#g226)"/><rect x="150.5" y="378" width="283.0" height="1.6" fill="url(#g227)"/><rect x="150.5" y="379" width="285.0" height="1.6" fill="url(#g228)"/><rect x="150.5" y="380" width="286.0" height="1.6" fill="url(#g229)"/><rect x="151.5" y="381" width="287.0" height="1.6" fill="url(#g230)"/><rect x="151.5" y="382" width="288.0" height="1.6" fill="url(#g231)"/><rect x="152.5" y="383" width="288.0" height="1.6" fill="url(#g232)"/><rect x="152.5" y="384" width="290.0" height="1.6" fill="url(#g233)"/><rect x="152.5" y="385" width="291.0" height="1.6" fill="url(#g234)"/><rect x="153.5" y="386" width="292.0" height="1.6" fill="url(#g235)"/><rect x="153.5" y="387" width="293.0" height="1.6" fill="url(#g236)"/><rect x="153.5" y="388" width="294.0" height="1.6" fill="url(#g237)"/><rect x="154.5" y="389" width="295.0" height="1.6" fill="url(#g238)"/><rect x="154.5" y="390" width="296.0" height="1.6" fill="url(#g239)"/><rect x="155.5" y="391" width="297.0" height="1.6" fill="url(#g240)"/><rect x="155.5" y="392" width="298.0" height="1.6" fill="url(#g241)"/><rect x="155.5" y="393" width="299.0" height="1.6" fill="url(#g242)"/><rect x="156.5" y="394" width="300.0" height="1.6" fill="url(#g243)"/><rect x="156.5" y="395" width="301.0" height="1.6" fill="url(#g244)"/><rect x="157.5" y="396" width="302.0" height="1.6" fill="url(#g245)"/><rect x="157.5" y="397" width="303.0" height="1.6" fill="url(#g246)"/><rect x="157.5" y="398" width="304.0" height="1.6" fill="url(#g247)"/><rect x="158.5" y="399" width="305.0" height="1.6" fill="url(#g248)"/><rect x="158.5" y="400" width="306.0" height="1.6" fill="url(#g249)"/><rect x="159.5" y="401" width="306.0" height="1.6" fill="url(#g250)"/><rect x="159.5" y="402" width="308.0" height="1.6" fill="url(#g251)"/><rect x="159.5" y="403" width="309.0" height="1.6" fill="url(#g252)"/><rect x="160.5" y="404" width="310.0" height="1.6" fill="url(#g253)"/><rect x="160.5" y="405" width="311.0" height="1.6" fill="url(#g254)"/><rect x="160.5" y="406" width="312.0" height="1.6" fill="url(#g255)"/><rect x="161.5" y="407" width="313.0" height="1.6" fill="url(#g256)"/><rect x="161.5" y="408" width="314.0" height="1.6" fill="url(#g257)"/><rect x="162.5" y="409" width="315.0" height="1.6" fill="url(#g258)"/><rect x="162.5" y="410" width="316.0" height="1.6" fill="url(#g259)"/><rect x="162.5" y="411" width="317.0" height="1.6" fill="url(#g260)"/><rect x="163.5" y="412" width="318.0" height="1.6" fill="url(#g261)"/><rect x="163.5" y="413" width="319.0" height="1.6" fill="url(#g262)"/><rect x="164.5" y="414" width="320.0" height="1.6" fill="url(#g263)"/><rect x="164.5" y="415" width="321.0" height="1.6" fill="url(#g264)"/><rect x="164.5" y="416" width="322.0" height="1.6" fill="url(#g265)"/><rect x="165.5" y="417" width="323.0" height="1.6" fill="url(#g266)"/><rect x="165.5" y="418" width="324.0" height="1.6" fill="url(#g267)"/><rect x="166.5" y="419" width="325.0" height="1.6" fill="url(#g268)"/><rect x="166.5" y="420" width="326.0" height="1.6" fill="url(#g269)"/><rect x="166.5" y="421" width="327.0" height="1.6" fill="url(#g270)"/><rect x="167.5" y="422" width="328.0" height="1.6" fill="url(#g271)"/><rect x="167.5" y="423" width="329.0" height="1.6" fill="url(#g272)"/><rect x="168.5" y="424" width="330.0" height="1.6" fill="url(#g273)"/><rect x="200.5" y="425" width="299.0" height="1.6" fill="url(#g274)"/><rect x="244.5" y="426" width="256.0" height="1.6" fill="url(#g275)"/><rect x="288.5" y="427" width="214.0" height="1.6" fill="url(#g276)"/><rect x="333.5" y="428" width="170.0" height="1.6" fill="url(#g277)"/><rect x="377.5" y="429" width="127.0" height="1.6" fill="url(#g278)"/><rect x="421.5" y="430" width="85.0" height="1.6" fill="url(#g279)"/><rect x="465.5" y="431" width="42.0" height="1.6" fill="url(#g280)"/></g><defs><linearGradient id="ehyp" gradientUnits="userSpaceOnUse" x1="122" y1="0" x2="506" y2="0"><stop offset="0" stop-color="#18a0f0"/><stop offset="0.3" stop-color="#18a0f0"/><stop offset="0.45" stop-color="#2050d0"/><stop offset="0.6" stop-color="#101890"/><stop offset="1" stop-color="#101890"/></linearGradient><linearGradient id="ebot" gradientUnits="userSpaceOnUse" x1="171" y1="0" x2="506" y2="0"><stop offset="0" stop-color="#50f090"/><stop offset="0.13" stop-color="#60f080"/><stop offset="0.14" stop-color="#10a0ff"/><stop offset="0.45" stop-color="#1090ff"/><stop offset="0.65" stop-color="#1040f0"/><stop offset="1" stop-color="#0010e0"/></linearGradient></defs><polyline points="122.5,157.0 111.0,151.3 152.1,376.3 171.1,425.0" fill="none" stroke="#18a0f0" stroke-width="1.35" stroke-linejoin="round"/><line x1="122.5" y1="157.0" x2="506.4" y2="432.6" stroke="url(#ehyp)" stroke-width="1.45" stroke-opacity="0.85"/><line x1="171.1" y1="425.0" x2="506.4" y2="432.6" stroke="url(#ebot)" stroke-width="1.3"/><rect x="92.10" y="33.90" width="449.15" height="418.30" fill="none" stroke="#000" stroke-width="1.45"/><path d="M92.10 452.20v5.90M161.20 452.20v5.90M230.30 452.20v5.90M299.40 452.20v5.90M368.50 452.20v5.90M437.60 452.20v5.90M506.70 452.20v5.90M92.10 452.20h-5.90M92.10 402.99h-5.90M92.10 353.78h-5.90M92.10 304.56h-5.90M92.10 255.35h-5.90M92.10 206.14h-5.90M92.10 156.93h-5.90M92.10 107.72h-5.90M92.10 58.50h-5.90" stroke="#000" stroke-width="1.45" fill="none"/><rect x="569.30" y="33.90" width="21.10" height="83.96" fill="#f10800"/><rect x="569.30" y="117.56" width="21.10" height="83.96" fill="#ffc400"/><rect x="569.30" y="201.22" width="21.10" height="83.96" fill="#7dff7a"/><rect x="569.30" y="284.88" width="21.10" height="83.96" fill="#00b0ff"/><rect x="569.30" y="368.54" width="21.10" height="83.96" fill="#0000f1"/><rect x="569.30" y="33.90" width="21.10" height="418.30" fill="none" stroke="#000" stroke-width="1.45"/><path d="M590.40 33.90h5.90M590.40 117.56h5.90M590.40 201.22h5.90M590.40 284.88h5.90M590.40 368.54h5.90M590.40 452.20h5.90" stroke="#000" stroke-width="1.45" fill="none"/><rect x="207.4" y="46.3" width="322.0" height="147.6" rx="5" ry="5" fill="#fff" fill-opacity="0.8" stroke="#cccccc" stroke-width="1.4"/><circle cx="242.5" cy="67.8" r="4.5" fill="#fff" stroke="#000" stroke-width="1.5"/><path d="M237.1 97.6l11.2 11.2m0 -11.2l-11.2 11.2" stroke="#ff0000" stroke-width="2.3" fill="none"/><circle cx="242.5" cy="138.9" r="5.1" fill="#bf00bf"/><rect x="237.0" y="168.5" width="11" height="11" fill="#008000" stroke="#000" stroke-width="1.5"/><circle cx="111.0" cy="151.5" r="4.45" fill="#fff" stroke="#000" stroke-width="1.6"/><circle cx="122.5" cy="157.0" r="4.45" fill="#fff" stroke="#000" stroke-width="1.6"/><circle cx="130.2" cy="168.3" r="4.45" fill="#fff" stroke="#000" stroke-width="1.6"/><circle cx="119.1" cy="175.1" r="4.45" fill="#fff" stroke="#000" stroke-width="1.6"/><circle cx="138.4" cy="196.8" r="4.45" fill="#fff" stroke="#000" stroke-width="1.6"/><circle cx="141.5" cy="229.1" r="4.45" fill="#fff" stroke="#000" stroke-width="1.6"/><circle cx="140.5" cy="302.1" r="4.45" fill="#fff" stroke="#000" stroke-width="1.6"/><circle cx="192.6" cy="336.5" r="4.45" fill="#fff" stroke="#000" stroke-width="1.6"/><circle cx="222.3" cy="367.2" r="4.45" fill="#fff" stroke="#000" stroke-width="1.6"/><circle cx="179.3" cy="385.3" r="4.45" fill="#fff" stroke="#000" stroke-width="1.6"/><circle cx="171.1" cy="425.0" r="4.45" fill="#fff" stroke="#000" stroke-width="1.6"/><circle cx="290.0" cy="376.2" r="4.45" fill="#fff" stroke="#000" stroke-width="1.6"/><circle cx="329.5" cy="367.3" r="4.45" fill="#fff" stroke="#000" stroke-width="1.6"/><circle cx="361.1" cy="371.8" r="4.45" fill="#fff" stroke="#000" stroke-width="1.6"/><circle cx="393.1" cy="383.9" r="4.45" fill="#fff" stroke="#000" stroke-width="1.6"/><circle cx="396.7" cy="426.9" r="4.45" fill="#fff" stroke="#000" stroke-width="1.6"/><circle cx="506.3" cy="432.8" r="4.45" fill="#fff" stroke="#000" stroke-width="1.6"/><path d="M105.3 145.8l11.4 11.4m0 -11.4l-11.4 11.4" stroke="#ff0000" stroke-width="2.4" fill="none"/><path d="M323.8 361.6l11.4 11.4m0 -11.4l-11.4 11.4" stroke="#ff0000" stroke-width="2.4" fill="none"/><path d="M500.6 427.1l11.4 11.4m0 -11.4l-11.4 11.4" stroke="#ff0000" stroke-width="2.4" fill="none"/><circle cx="152.1" cy="376.3" r="5.2" fill="#bf00bf" stroke="#fff" stroke-width="1.5"/><circle cx="190.2" cy="370.7" r="5.2" fill="#bf00bf" stroke="#fff" stroke-width="1.5"/><rect x="362.3" y="199.6" width="11.6" height="11.6" fill="#008000" stroke="#000" stroke-width="1.5"/><g font-family="Liberation Sans, sans-serif" fill="#000"><text font-size="100" transform="matrix(0.28068 0 0 0.25560 47.504 460.648)">90</text><text font-size="100" transform="matrix(0.27537 0 0 0.25560 47.529 411.436)">92</text><text font-size="100" transform="matrix(0.28052 0 0 0.25560 47.505 362.224)">94</text><text font-size="100" transform="matrix(0.28286 0 0 0.25560 47.494 313.012)">96</text><text font-size="100" transform="matrix(0.28138 0 0 0.25560 47.501 263.800)">98</text><text font-size="100" transform="matrix(0.28110 0 0 0.25560 31.824 214.588)">100</text><text font-size="100" transform="matrix(0.27761 0 0 0.25560 31.851 165.376)">102</text><text font-size="100" transform="matrix(0.28100 0 0 0.25560 31.825 116.164)">104</text><text font-size="100" transform="matrix(0.28254 0 0 0.25560 31.813 66.952)">106</text><text font-size="100" transform="matrix(0.25961 0 0 0.25984 75.736 480.744)">92</text><text font-size="100" transform="matrix(0.26508 0 0 0.25984 144.811 480.744)">94</text><text font-size="100" transform="matrix(0.26719 0 0 0.25984 213.901 480.744)">96</text><text font-size="100" transform="matrix(0.26572 0 0 0.25984 283.008 480.744)">98</text><text font-size="100" transform="matrix(0.27789 0 0 0.25984 343.999 480.744)">100</text><text font-size="100" transform="matrix(0.27437 0 0 0.25984 413.126 480.744)">102</text><text font-size="100" transform="matrix(0.27780 0 0 0.25984 482.200 480.744)">104</text><text font-size="100" transform="matrix(0.34652 0 0 0.31585 219.166 24.489)">less is better</text><text font-size="100" transform="matrix(0.29145 0 0 0.25639 159.119 508.580)">power fraction hover [%]</text><text font-size="100" transform="matrix(0.00000 -0.29039 0.24351 0.00000 19.447 402.374)">power fraction cruise [%]</text><text font-size="100" transform="matrix(0.00000 -0.28799 0.23386 0.00000 678.547 409.412)">noise fraction descent [%]</text><text font-size="100" transform="matrix(0.28100 0 0 0.25560 608.825 42.346)">104</text><text font-size="100" transform="matrix(0.27761 0 0 0.25560 608.851 126.007)">102</text><text font-size="100" transform="matrix(0.28110 0 0 0.25560 608.825 209.667)">100</text><text font-size="100" transform="matrix(0.28199 0 0 0.25560 608.465 293.328)">99</text><text font-size="100" transform="matrix(0.28138 0 0 0.25560 608.468 376.988)">98</text><text font-size="100" transform="matrix(0.28286 0 0 0.25560 608.461 460.648)">96</text><text font-size="100" transform="matrix(0.28462 0 0 0.26163 287.138 73.912)">Pareto optimal set</text><text font-size="100" transform="matrix(0.27650 0 0 0.26556 287.141 109.397)">Anchor Points</text><text font-size="100" transform="matrix(0.27787 0 0 0.26556 286.300 144.597)">Trade-off Rotors</text><text font-size="100" transform="matrix(0.26717 0 0 0.26596 287.281 179.797)">Reference: HARTII</text></g></svg></body></html>
